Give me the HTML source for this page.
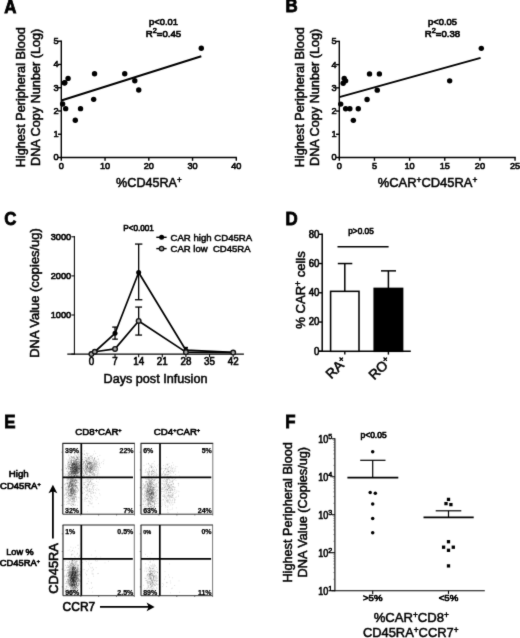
<!DOCTYPE html>
<html><head><meta charset="utf-8"><title>Figure</title>
<style>
html,body{margin:0;padding:0;background:#fff;}
body{width:520px;height:638px;overflow:hidden;font-family:"Liberation Sans",sans-serif;}
svg{display:block;}
text{font-family:"Liberation Sans",sans-serif;fill:#000;}
</style></head><body>
<svg width="520" height="638" viewBox="0 0 520 638">
<defs><filter id="blr" x="0" y="0" width="100%" height="100%" filterUnits="userSpaceOnUse" color-interpolation-filters="sRGB"><feConvolveMatrix order="3" kernelMatrix="1 5 1 5 40 5 1 5 1" divisor="64" edgeMode="duplicate" preserveAlpha="true"/></filter></defs>
<g filter="url(#blr)">
<rect width="520" height="638" fill="#fff"/>
<text x="4.2" y="12.5" font-size="18.3" text-anchor="start" font-weight="bold" textLength="12.2" lengthAdjust="spacingAndGlyphs" stroke="#000" stroke-width="0.80" >A</text>
<text x="285.5" y="12.3" font-size="18.3" text-anchor="start" font-weight="bold" textLength="12.2" lengthAdjust="spacingAndGlyphs" stroke="#000" stroke-width="0.80" >B</text>
<text x="4.2" y="225.4" font-size="18.3" text-anchor="start" font-weight="bold" textLength="12.2" lengthAdjust="spacingAndGlyphs" stroke="#000" stroke-width="0.80" >C</text>
<text x="285.5" y="225.4" font-size="18.3" text-anchor="start" font-weight="bold" textLength="12.2" lengthAdjust="spacingAndGlyphs" stroke="#000" stroke-width="0.80" >D</text>
<text x="4.2" y="427.9" font-size="18.3" text-anchor="start" font-weight="bold" textLength="11.3" lengthAdjust="spacingAndGlyphs" stroke="#000" stroke-width="0.80" >E</text>
<text x="285.3" y="427.8" font-size="18.3" text-anchor="start" font-weight="bold" textLength="10.3" lengthAdjust="spacingAndGlyphs" stroke="#000" stroke-width="0.80" >F</text>
<line x1="61.30" y1="40.60" x2="61.30" y2="158.15" stroke="#000" stroke-width="1.4" stroke-linecap="butt"/>
<line x1="60.65" y1="157.50" x2="236.90" y2="157.50" stroke="#000" stroke-width="1.4" stroke-linecap="butt"/>
<line x1="58.00" y1="157.50" x2="61.30" y2="157.50" stroke="#000" stroke-width="1.4" stroke-linecap="butt"/>
<text x="58.5" y="160.4" font-size="9.8" text-anchor="end" font-weight="normal" textLength="5.12" lengthAdjust="spacingAndGlyphs" stroke="#000" stroke-width="0.62" >0</text>
<line x1="58.00" y1="134.24" x2="61.30" y2="134.24" stroke="#000" stroke-width="1.4" stroke-linecap="butt"/>
<text x="58.5" y="137.14000000000001" font-size="9.8" text-anchor="end" font-weight="normal" textLength="5.12" lengthAdjust="spacingAndGlyphs" stroke="#000" stroke-width="0.62" >1</text>
<line x1="58.00" y1="110.98" x2="61.30" y2="110.98" stroke="#000" stroke-width="1.4" stroke-linecap="butt"/>
<text x="58.5" y="113.88000000000001" font-size="9.8" text-anchor="end" font-weight="normal" textLength="5.12" lengthAdjust="spacingAndGlyphs" stroke="#000" stroke-width="0.62" >2</text>
<line x1="58.00" y1="87.72" x2="61.30" y2="87.72" stroke="#000" stroke-width="1.4" stroke-linecap="butt"/>
<text x="58.5" y="90.62" font-size="9.8" text-anchor="end" font-weight="normal" textLength="5.12" lengthAdjust="spacingAndGlyphs" stroke="#000" stroke-width="0.62" >3</text>
<line x1="58.00" y1="64.46" x2="61.30" y2="64.46" stroke="#000" stroke-width="1.4" stroke-linecap="butt"/>
<text x="58.5" y="67.36000000000001" font-size="9.8" text-anchor="end" font-weight="normal" textLength="5.12" lengthAdjust="spacingAndGlyphs" stroke="#000" stroke-width="0.62" >4</text>
<line x1="58.00" y1="41.20" x2="61.30" y2="41.20" stroke="#000" stroke-width="1.4" stroke-linecap="butt"/>
<text x="58.5" y="44.100000000000016" font-size="9.8" text-anchor="end" font-weight="normal" textLength="5.12" lengthAdjust="spacingAndGlyphs" stroke="#000" stroke-width="0.62" >5</text>
<line x1="61.30" y1="157.50" x2="61.30" y2="160.80" stroke="#000" stroke-width="1.4" stroke-linecap="butt"/>
<text x="61.3" y="169.1" font-size="9.8" text-anchor="middle" font-weight="normal" textLength="5.12" lengthAdjust="spacingAndGlyphs" stroke="#000" stroke-width="0.62" >0</text>
<line x1="105.05" y1="157.50" x2="105.05" y2="160.80" stroke="#000" stroke-width="1.4" stroke-linecap="butt"/>
<text x="105.05" y="169.1" font-size="9.8" text-anchor="middle" font-weight="normal" textLength="10.24" lengthAdjust="spacingAndGlyphs" stroke="#000" stroke-width="0.62" >10</text>
<line x1="148.80" y1="157.50" x2="148.80" y2="160.80" stroke="#000" stroke-width="1.4" stroke-linecap="butt"/>
<text x="148.8" y="169.1" font-size="9.8" text-anchor="middle" font-weight="normal" textLength="10.24" lengthAdjust="spacingAndGlyphs" stroke="#000" stroke-width="0.62" >20</text>
<line x1="192.55" y1="157.50" x2="192.55" y2="160.80" stroke="#000" stroke-width="1.4" stroke-linecap="butt"/>
<text x="192.55" y="169.1" font-size="9.8" text-anchor="middle" font-weight="normal" textLength="10.24" lengthAdjust="spacingAndGlyphs" stroke="#000" stroke-width="0.62" >30</text>
<line x1="236.30" y1="157.50" x2="236.30" y2="160.80" stroke="#000" stroke-width="1.4" stroke-linecap="butt"/>
<text x="236.3" y="169.1" font-size="9.8" text-anchor="middle" font-weight="normal" textLength="10.24" lengthAdjust="spacingAndGlyphs" stroke="#000" stroke-width="0.62" >40</text>
<circle cx="201.30" cy="48.18" r="2.7" fill="#000"/>
<circle cx="94.55" cy="73.76" r="2.7" fill="#000"/>
<circle cx="124.74" cy="73.76" r="2.7" fill="#000"/>
<circle cx="134.80" cy="80.74" r="2.7" fill="#000"/>
<circle cx="138.74" cy="90.05" r="2.7" fill="#000"/>
<circle cx="68.08" cy="78.42" r="2.7" fill="#000"/>
<circle cx="64.80" cy="82.60" r="2.7" fill="#000"/>
<circle cx="64.49" cy="83.07" r="2.7" fill="#000"/>
<circle cx="93.67" cy="99.35" r="2.7" fill="#000"/>
<circle cx="62.61" cy="104.00" r="2.7" fill="#000"/>
<circle cx="65.67" cy="108.65" r="2.7" fill="#000"/>
<circle cx="80.55" cy="108.65" r="2.7" fill="#000"/>
<circle cx="75.30" cy="120.28" r="2.7" fill="#000"/>
<line x1="61.30" y1="100.51" x2="201.30" y2="56.32" stroke="#000" stroke-width="2.0" stroke-linecap="butt"/>
<text x="163.5" y="24.6" font-size="9.6" text-anchor="middle" font-weight="normal" textLength="29" lengthAdjust="spacingAndGlyphs" stroke="#000" stroke-width="0.65" >p&lt;0.01</text>
<text x="163.5" y="37" font-size="9.6" text-anchor="middle" font-weight="normal" textLength="35.5" lengthAdjust="spacingAndGlyphs" stroke="#000" stroke-width="0.65" >R<tspan dy="-3.6" font-size="7.3">2</tspan><tspan dy="3.6">&#8203;</tspan>=0.45</text>
<text x="116.1" y="187.0" font-size="12.7" text-anchor="start" font-weight="normal" textLength="65.7" lengthAdjust="spacingAndGlyphs" stroke="#000" stroke-width="0.50" >%CD45RA<tspan dy="-4.2" font-size="8.2">+</tspan><tspan dy="4.2">&#8203;</tspan></text>
<text x="24.9" y="167.3" font-size="12.7" text-anchor="start" font-weight="normal" textLength="140.2" lengthAdjust="spacingAndGlyphs" transform="rotate(-90 24.9 167.3)" stroke="#000" stroke-width="0.50" >Highest Peripheral Blood</text>
<text x="40" y="166" font-size="12.7" text-anchor="start" font-weight="normal" textLength="137.3" lengthAdjust="spacingAndGlyphs" transform="rotate(-90 40 166)" stroke="#000" stroke-width="0.50" >DNA Copy Nunber (Log)</text>
<line x1="339.30" y1="40.80" x2="339.30" y2="158.15" stroke="#000" stroke-width="1.4" stroke-linecap="butt"/>
<line x1="338.65" y1="157.50" x2="515.80" y2="157.50" stroke="#000" stroke-width="1.4" stroke-linecap="butt"/>
<line x1="336.00" y1="157.50" x2="339.30" y2="157.50" stroke="#000" stroke-width="1.4" stroke-linecap="butt"/>
<text x="336.5" y="160.4" font-size="9.8" text-anchor="end" font-weight="normal" textLength="5.12" lengthAdjust="spacingAndGlyphs" stroke="#000" stroke-width="0.62" >0</text>
<line x1="336.00" y1="134.28" x2="339.30" y2="134.28" stroke="#000" stroke-width="1.4" stroke-linecap="butt"/>
<text x="336.5" y="137.18" font-size="9.8" text-anchor="end" font-weight="normal" textLength="5.12" lengthAdjust="spacingAndGlyphs" stroke="#000" stroke-width="0.62" >1</text>
<line x1="336.00" y1="111.06" x2="339.30" y2="111.06" stroke="#000" stroke-width="1.4" stroke-linecap="butt"/>
<text x="336.5" y="113.96000000000001" font-size="9.8" text-anchor="end" font-weight="normal" textLength="5.12" lengthAdjust="spacingAndGlyphs" stroke="#000" stroke-width="0.62" >2</text>
<line x1="336.00" y1="87.84" x2="339.30" y2="87.84" stroke="#000" stroke-width="1.4" stroke-linecap="butt"/>
<text x="336.5" y="90.74000000000001" font-size="9.8" text-anchor="end" font-weight="normal" textLength="5.12" lengthAdjust="spacingAndGlyphs" stroke="#000" stroke-width="0.62" >3</text>
<line x1="336.00" y1="64.62" x2="339.30" y2="64.62" stroke="#000" stroke-width="1.4" stroke-linecap="butt"/>
<text x="336.5" y="67.52000000000001" font-size="9.8" text-anchor="end" font-weight="normal" textLength="5.12" lengthAdjust="spacingAndGlyphs" stroke="#000" stroke-width="0.62" >4</text>
<line x1="336.00" y1="41.40" x2="339.30" y2="41.40" stroke="#000" stroke-width="1.4" stroke-linecap="butt"/>
<text x="336.5" y="44.300000000000004" font-size="9.8" text-anchor="end" font-weight="normal" textLength="5.12" lengthAdjust="spacingAndGlyphs" stroke="#000" stroke-width="0.62" >5</text>
<line x1="339.30" y1="157.50" x2="339.30" y2="160.80" stroke="#000" stroke-width="1.4" stroke-linecap="butt"/>
<text x="339.3" y="169.1" font-size="9.8" text-anchor="middle" font-weight="normal" textLength="5.12" lengthAdjust="spacingAndGlyphs" stroke="#000" stroke-width="0.62" >0</text>
<line x1="374.45" y1="157.50" x2="374.45" y2="160.80" stroke="#000" stroke-width="1.4" stroke-linecap="butt"/>
<text x="374.45" y="169.1" font-size="9.8" text-anchor="middle" font-weight="normal" textLength="5.12" lengthAdjust="spacingAndGlyphs" stroke="#000" stroke-width="0.62" >5</text>
<line x1="409.60" y1="157.50" x2="409.60" y2="160.80" stroke="#000" stroke-width="1.4" stroke-linecap="butt"/>
<text x="409.6" y="169.1" font-size="9.8" text-anchor="middle" font-weight="normal" textLength="10.24" lengthAdjust="spacingAndGlyphs" stroke="#000" stroke-width="0.62" >10</text>
<line x1="444.75" y1="157.50" x2="444.75" y2="160.80" stroke="#000" stroke-width="1.4" stroke-linecap="butt"/>
<text x="444.75" y="169.1" font-size="9.8" text-anchor="middle" font-weight="normal" textLength="10.24" lengthAdjust="spacingAndGlyphs" stroke="#000" stroke-width="0.62" >15</text>
<line x1="479.90" y1="157.50" x2="479.90" y2="160.80" stroke="#000" stroke-width="1.4" stroke-linecap="butt"/>
<text x="479.9" y="169.1" font-size="9.8" text-anchor="middle" font-weight="normal" textLength="10.24" lengthAdjust="spacingAndGlyphs" stroke="#000" stroke-width="0.62" >20</text>
<line x1="515.05" y1="157.50" x2="515.05" y2="160.80" stroke="#000" stroke-width="1.4" stroke-linecap="butt"/>
<text x="515.05" y="169.1" font-size="9.8" text-anchor="middle" font-weight="normal" textLength="10.24" lengthAdjust="spacingAndGlyphs" stroke="#000" stroke-width="0.62" >25</text>
<circle cx="481.31" cy="48.37" r="2.7" fill="#000"/>
<circle cx="449.67" cy="80.87" r="2.7" fill="#000"/>
<circle cx="369.53" cy="73.91" r="2.7" fill="#000"/>
<circle cx="379.37" cy="73.91" r="2.7" fill="#000"/>
<circle cx="377.26" cy="90.16" r="2.7" fill="#000"/>
<circle cx="367.07" cy="99.45" r="2.7" fill="#000"/>
<circle cx="344.22" cy="78.55" r="2.7" fill="#000"/>
<circle cx="345.63" cy="80.87" r="2.7" fill="#000"/>
<circle cx="343.17" cy="83.20" r="2.7" fill="#000"/>
<circle cx="340.71" cy="104.09" r="2.7" fill="#000"/>
<circle cx="345.63" cy="108.74" r="2.7" fill="#000"/>
<circle cx="349.85" cy="108.74" r="2.7" fill="#000"/>
<circle cx="358.28" cy="108.74" r="2.7" fill="#000"/>
<circle cx="353.36" cy="120.35" r="2.7" fill="#000"/>
<line x1="339.30" y1="97.13" x2="480.60" y2="57.89" stroke="#000" stroke-width="2.0" stroke-linecap="butt"/>
<text x="442.5" y="24.6" font-size="9.6" text-anchor="middle" font-weight="normal" textLength="29" lengthAdjust="spacingAndGlyphs" stroke="#000" stroke-width="0.65" >p&lt;0.05</text>
<text x="442.5" y="37" font-size="9.6" text-anchor="middle" font-weight="normal" textLength="35.5" lengthAdjust="spacingAndGlyphs" stroke="#000" stroke-width="0.65" >R<tspan dy="-3.6" font-size="7.3">2</tspan><tspan dy="3.6">&#8203;</tspan>=0.38</text>
<text x="377.7" y="187.0" font-size="12.7" text-anchor="start" font-weight="normal" textLength="99.6" lengthAdjust="spacingAndGlyphs" stroke="#000" stroke-width="0.50" >%CAR<tspan dy="-4.2" font-size="8.2">+</tspan><tspan dy="4.2">&#8203;</tspan>CD45RA<tspan dy="-4.2" font-size="8.2">+</tspan><tspan dy="4.2">&#8203;</tspan></text>
<text x="304.2" y="167.3" font-size="12.7" text-anchor="start" font-weight="normal" textLength="140.2" lengthAdjust="spacingAndGlyphs" transform="rotate(-90 304.2 167.3)" stroke="#000" stroke-width="0.50" >Highest Peripheral Blood</text>
<text x="318.8" y="166" font-size="12.7" text-anchor="start" font-weight="normal" textLength="137.3" lengthAdjust="spacingAndGlyphs" transform="rotate(-90 318.8 166)" stroke="#000" stroke-width="0.50" >DNA Copy Nunber (Log)</text>
<line x1="74.40" y1="236.00" x2="74.40" y2="354.60" stroke="#000" stroke-width="1.05" stroke-linecap="butt"/>
<line x1="67.30" y1="354.10" x2="243.90" y2="354.10" stroke="#000" stroke-width="1.05" stroke-linecap="butt"/>
<line x1="71.30" y1="354.10" x2="74.40" y2="354.10" stroke="#000" stroke-width="1.05" stroke-linecap="butt"/>
<line x1="71.30" y1="315.00" x2="74.40" y2="315.00" stroke="#000" stroke-width="1.05" stroke-linecap="butt"/>
<text x="71.2" y="318.1" font-size="9.8" text-anchor="end" font-weight="normal" textLength="20.49" lengthAdjust="spacingAndGlyphs" stroke="#000" stroke-width="0.62" >1000</text>
<line x1="71.30" y1="275.90" x2="74.40" y2="275.90" stroke="#000" stroke-width="1.05" stroke-linecap="butt"/>
<text x="71.2" y="279.00000000000006" font-size="9.8" text-anchor="end" font-weight="normal" textLength="20.49" lengthAdjust="spacingAndGlyphs" stroke="#000" stroke-width="0.62" >2000</text>
<line x1="71.30" y1="236.80" x2="74.40" y2="236.80" stroke="#000" stroke-width="1.05" stroke-linecap="butt"/>
<text x="71.2" y="239.9" font-size="9.8" text-anchor="end" font-weight="normal" textLength="20.49" lengthAdjust="spacingAndGlyphs" stroke="#000" stroke-width="0.62" >3000</text>
<line x1="91.40" y1="354.10" x2="91.40" y2="357.20" stroke="#000" stroke-width="1.05" stroke-linecap="butt"/>
<text x="91.4" y="365.3" font-size="10.4" text-anchor="middle" font-weight="normal" textLength="5.44" lengthAdjust="spacingAndGlyphs" stroke="#000" stroke-width="0.62" >0</text>
<line x1="115.03" y1="354.10" x2="115.03" y2="357.20" stroke="#000" stroke-width="1.05" stroke-linecap="butt"/>
<text x="115.03" y="365.3" font-size="10.4" text-anchor="middle" font-weight="normal" textLength="5.44" lengthAdjust="spacingAndGlyphs" stroke="#000" stroke-width="0.62" >7</text>
<line x1="138.66" y1="354.10" x2="138.66" y2="357.20" stroke="#000" stroke-width="1.05" stroke-linecap="butt"/>
<text x="138.66" y="365.3" font-size="10.4" text-anchor="middle" font-weight="normal" textLength="10.87" lengthAdjust="spacingAndGlyphs" stroke="#000" stroke-width="0.62" >14</text>
<line x1="162.29" y1="354.10" x2="162.29" y2="357.20" stroke="#000" stroke-width="1.05" stroke-linecap="butt"/>
<text x="162.29000000000002" y="365.3" font-size="10.4" text-anchor="middle" font-weight="normal" textLength="10.87" lengthAdjust="spacingAndGlyphs" stroke="#000" stroke-width="0.62" >21</text>
<line x1="185.92" y1="354.10" x2="185.92" y2="357.20" stroke="#000" stroke-width="1.05" stroke-linecap="butt"/>
<text x="185.92000000000002" y="365.3" font-size="10.4" text-anchor="middle" font-weight="normal" textLength="10.87" lengthAdjust="spacingAndGlyphs" stroke="#000" stroke-width="0.62" >28</text>
<line x1="209.55" y1="354.10" x2="209.55" y2="357.20" stroke="#000" stroke-width="1.05" stroke-linecap="butt"/>
<text x="209.55" y="365.3" font-size="10.4" text-anchor="middle" font-weight="normal" textLength="10.87" lengthAdjust="spacingAndGlyphs" stroke="#000" stroke-width="0.62" >35</text>
<line x1="233.18" y1="354.10" x2="233.18" y2="357.20" stroke="#000" stroke-width="1.05" stroke-linecap="butt"/>
<text x="233.18" y="365.3" font-size="10.4" text-anchor="middle" font-weight="normal" textLength="10.87" lengthAdjust="spacingAndGlyphs" stroke="#000" stroke-width="0.62" >42</text>
<line x1="138.66" y1="299.75" x2="138.66" y2="244.07" stroke="#000" stroke-width="1.3" stroke-linecap="butt"/>
<line x1="134.96" y1="299.75" x2="142.36" y2="299.75" stroke="#000" stroke-width="1.3" stroke-linecap="butt"/>
<line x1="134.96" y1="244.07" x2="142.36" y2="244.07" stroke="#000" stroke-width="1.3" stroke-linecap="butt"/>
<line x1="115.03" y1="339.16" x2="115.03" y2="327.08" stroke="#000" stroke-width="1.3" stroke-linecap="butt"/>
<line x1="112.23" y1="339.16" x2="117.83" y2="339.16" stroke="#000" stroke-width="1.3" stroke-linecap="butt"/>
<line x1="112.23" y1="327.08" x2="117.83" y2="327.08" stroke="#000" stroke-width="1.3" stroke-linecap="butt"/>
<line x1="138.66" y1="335.06" x2="138.66" y2="307.06" stroke="#000" stroke-width="1.3" stroke-linecap="butt"/>
<line x1="135.26" y1="335.06" x2="142.06" y2="335.06" stroke="#000" stroke-width="1.3" stroke-linecap="butt"/>
<line x1="135.26" y1="307.06" x2="142.06" y2="307.06" stroke="#000" stroke-width="1.3" stroke-linecap="butt"/>
<line x1="185.92" y1="351.75" x2="185.92" y2="347.45" stroke="#000" stroke-width="1.3" stroke-linecap="butt"/>
<line x1="183.92" y1="351.75" x2="187.92" y2="351.75" stroke="#000" stroke-width="1.3" stroke-linecap="butt"/>
<line x1="183.92" y1="347.45" x2="187.92" y2="347.45" stroke="#000" stroke-width="1.3" stroke-linecap="butt"/>
<polyline fill="none" stroke="#000" stroke-width="1.7" stroke-linejoin="round" points="91.40,354.10 94.78,351.75 115.03,333.26 138.66,272.50 185.92,350.19 233.18,352.42"/>
<polyline fill="none" stroke="#000" stroke-width="1.7" stroke-linejoin="round" points="91.40,354.10 94.78,351.75 115.03,348.90 138.66,320.94 185.92,352.15 233.18,352.54"/>
<circle cx="91.40" cy="354.10" r="2.5" fill="#000"/>
<circle cx="94.78" cy="351.75" r="2.5" fill="#000"/>
<circle cx="115.03" cy="333.26" r="2.5" fill="#000"/>
<circle cx="138.66" cy="272.50" r="2.5" fill="#000"/>
<circle cx="185.92" cy="350.19" r="2.5" fill="#000"/>
<circle cx="233.18" cy="352.42" r="2.5" fill="#000"/>
<circle cx="91.40" cy="354.10" r="2.3" fill="#a8a8a8" stroke="#111" stroke-width="1.4"/>
<circle cx="94.78" cy="351.75" r="2.3" fill="#a8a8a8" stroke="#111" stroke-width="1.4"/>
<circle cx="115.03" cy="348.90" r="2.3" fill="#a8a8a8" stroke="#111" stroke-width="1.4"/>
<circle cx="138.66" cy="320.94" r="2.3" fill="#a8a8a8" stroke="#111" stroke-width="1.4"/>
<circle cx="185.92" cy="352.15" r="2.3" fill="#a8a8a8" stroke="#111" stroke-width="1.4"/>
<circle cx="233.18" cy="352.54" r="2.3" fill="#a8a8a8" stroke="#111" stroke-width="1.4"/>
<line x1="156.30" y1="237.30" x2="166.60" y2="237.30" stroke="#000" stroke-width="1.4" stroke-linecap="butt"/>
<circle cx="161.60" cy="237.30" r="2.5" fill="#000"/>
<line x1="156.30" y1="248.60" x2="166.60" y2="248.60" stroke="#000" stroke-width="1.4" stroke-linecap="butt"/>
<circle cx="161.60" cy="248.60" r="2.2" fill="#a8a8a8" stroke="#111" stroke-width="1.4"/>
<text x="170.5" y="241.2" font-size="9.7" text-anchor="start" font-weight="normal" textLength="81.7" lengthAdjust="spacingAndGlyphs" stroke="#000" stroke-width="0.50" >CAR high CD45RA</text>
<text x="170.5" y="252.2" font-size="9.7" text-anchor="start" font-weight="normal" textLength="80" lengthAdjust="spacingAndGlyphs" stroke="#000" stroke-width="0.50" >CAR low&#160; CD45RA</text>
<text x="123.2" y="231.4" font-size="8.4" text-anchor="start" font-weight="normal" textLength="30.7" lengthAdjust="spacingAndGlyphs" stroke="#000" stroke-width="0.60" >P&lt;0.001</text>
<text x="103.5" y="382.6" font-size="12.65" text-anchor="start" font-weight="normal" textLength="104" lengthAdjust="spacingAndGlyphs" stroke="#000" stroke-width="0.50" >Days post Infusion</text>
<text x="38.8" y="357.7" font-size="12.7" text-anchor="start" font-weight="normal" textLength="129.4" lengthAdjust="spacingAndGlyphs" transform="rotate(-90 38.8 357.7)" stroke="#000" stroke-width="0.50" >DNA Value (copies/ug)</text>
<line x1="322.20" y1="233.40" x2="322.20" y2="352.00" stroke="#000" stroke-width="1.5" stroke-linecap="butt"/>
<line x1="318.50" y1="351.30" x2="410.80" y2="351.30" stroke="#000" stroke-width="1.5" stroke-linecap="butt"/>
<line x1="318.90" y1="351.30" x2="322.20" y2="351.30" stroke="#000" stroke-width="1.4" stroke-linecap="butt"/>
<text x="319.4" y="354.6" font-size="10.2" text-anchor="end" font-weight="normal" textLength="5.33" lengthAdjust="spacingAndGlyphs" stroke="#000" stroke-width="0.62" >0</text>
<line x1="318.90" y1="322.05" x2="322.20" y2="322.05" stroke="#000" stroke-width="1.4" stroke-linecap="butt"/>
<text x="319.4" y="325.35" font-size="10.2" text-anchor="end" font-weight="normal" textLength="10.66" lengthAdjust="spacingAndGlyphs" stroke="#000" stroke-width="0.62" >20</text>
<line x1="318.90" y1="292.80" x2="322.20" y2="292.80" stroke="#000" stroke-width="1.4" stroke-linecap="butt"/>
<text x="319.4" y="296.1" font-size="10.2" text-anchor="end" font-weight="normal" textLength="10.66" lengthAdjust="spacingAndGlyphs" stroke="#000" stroke-width="0.62" >40</text>
<line x1="318.90" y1="263.55" x2="322.20" y2="263.55" stroke="#000" stroke-width="1.4" stroke-linecap="butt"/>
<text x="319.4" y="266.85" font-size="10.2" text-anchor="end" font-weight="normal" textLength="10.66" lengthAdjust="spacingAndGlyphs" stroke="#000" stroke-width="0.62" >60</text>
<line x1="318.90" y1="234.30" x2="322.20" y2="234.30" stroke="#000" stroke-width="1.4" stroke-linecap="butt"/>
<text x="319.4" y="237.60000000000002" font-size="10.2" text-anchor="end" font-weight="normal" textLength="10.66" lengthAdjust="spacingAndGlyphs" stroke="#000" stroke-width="0.62" >80</text>
<line x1="344.80" y1="291.34" x2="344.80" y2="263.55" stroke="#000" stroke-width="1.5" stroke-linecap="butt"/>
<line x1="337.80" y1="263.55" x2="352.30" y2="263.55" stroke="#000" stroke-width="1.5" stroke-linecap="butt"/>
<rect x="330.6" y="291.34" width="28.399999999999977" height="59.96" fill="#fff" stroke="#000" stroke-width="1.55"/>
<line x1="344.80" y1="351.30" x2="344.80" y2="354.60" stroke="#000" stroke-width="1.4" stroke-linecap="butt"/>
<line x1="388.40" y1="288.41" x2="388.40" y2="270.86" stroke="#000" stroke-width="1.5" stroke-linecap="butt"/>
<line x1="381.00" y1="270.86" x2="396.00" y2="270.86" stroke="#000" stroke-width="1.5" stroke-linecap="butt"/>
<rect x="374.2" y="288.41" width="28.400000000000034" height="62.89" fill="#000" stroke="#000" stroke-width="1.55"/>
<line x1="388.40" y1="351.30" x2="388.40" y2="354.60" stroke="#000" stroke-width="1.4" stroke-linecap="butt"/>
<line x1="337.50" y1="246.70" x2="388.60" y2="246.70" stroke="#000" stroke-width="1.4" stroke-linecap="butt"/>
<text x="361" y="233.5" font-size="8.4" text-anchor="middle" font-weight="normal" textLength="25.5" lengthAdjust="spacingAndGlyphs" stroke="#000" stroke-width="0.60" >p&gt;0.05</text>
<text x="348.2" y="362.6" font-size="13.6" text-anchor="end" font-weight="normal" transform="rotate(-45 348.2 362.6)" stroke="#000" stroke-width="0.55" >RA<tspan dy="-4.4" font-size="8.6">+</tspan><tspan dy="4.4">&#8203;</tspan></text>
<text x="392.2" y="362.6" font-size="13.6" text-anchor="end" font-weight="normal" transform="rotate(-45 392.2 362.6)" stroke="#000" stroke-width="0.55" >RO<tspan dy="-4.4" font-size="8.6">+</tspan><tspan dy="4.4">&#8203;</tspan></text>
<text x="304.9" y="328.7" font-size="12.8" text-anchor="start" font-weight="normal" textLength="77.5" lengthAdjust="spacingAndGlyphs" transform="rotate(-90 304.9 328.7)" stroke="#000" stroke-width="0.50" >% CAR<tspan dy="-4.2" font-size="8.2">+</tspan><tspan dy="4.2">&#8203;</tspan> cells</text>
<line x1="334.90" y1="438.30" x2="334.90" y2="591.30" stroke="#000" stroke-width="1.1" stroke-linecap="butt"/>
<line x1="331.50" y1="590.80" x2="484.80" y2="590.80" stroke="#000" stroke-width="1.1" stroke-linecap="butt"/>
<line x1="331.90" y1="438.80" x2="334.90" y2="438.80" stroke="#000" stroke-width="1.1" stroke-linecap="butt"/>
<text x="332.29999999999995" y="442.7" font-size="10" text-anchor="end" font-weight="normal" textLength="14" lengthAdjust="spacingAndGlyphs" stroke="#000" stroke-width="0.60" >10<tspan dy="-3.3" font-size="8">5</tspan><tspan dy="3.3">&#8203;</tspan></text>
<line x1="333.50" y1="465.34" x2="334.90" y2="465.34" stroke="#444" stroke-width="0.7" stroke-linecap="butt"/>
<line x1="333.50" y1="458.65" x2="334.90" y2="458.65" stroke="#444" stroke-width="0.7" stroke-linecap="butt"/>
<line x1="333.50" y1="453.91" x2="334.90" y2="453.91" stroke="#444" stroke-width="0.7" stroke-linecap="butt"/>
<line x1="333.50" y1="450.23" x2="334.90" y2="450.23" stroke="#444" stroke-width="0.7" stroke-linecap="butt"/>
<line x1="333.50" y1="447.22" x2="334.90" y2="447.22" stroke="#444" stroke-width="0.7" stroke-linecap="butt"/>
<line x1="333.50" y1="444.68" x2="334.90" y2="444.68" stroke="#444" stroke-width="0.7" stroke-linecap="butt"/>
<line x1="333.50" y1="442.48" x2="334.90" y2="442.48" stroke="#444" stroke-width="0.7" stroke-linecap="butt"/>
<line x1="333.50" y1="440.54" x2="334.90" y2="440.54" stroke="#444" stroke-width="0.7" stroke-linecap="butt"/>
<line x1="331.90" y1="476.77" x2="334.90" y2="476.77" stroke="#000" stroke-width="1.1" stroke-linecap="butt"/>
<text x="332.29999999999995" y="480.66999999999996" font-size="10" text-anchor="end" font-weight="normal" textLength="14" lengthAdjust="spacingAndGlyphs" stroke="#000" stroke-width="0.60" >10<tspan dy="-3.3" font-size="8">4</tspan><tspan dy="3.3">&#8203;</tspan></text>
<line x1="333.50" y1="503.31" x2="334.90" y2="503.31" stroke="#444" stroke-width="0.7" stroke-linecap="butt"/>
<line x1="333.50" y1="496.62" x2="334.90" y2="496.62" stroke="#444" stroke-width="0.7" stroke-linecap="butt"/>
<line x1="333.50" y1="491.88" x2="334.90" y2="491.88" stroke="#444" stroke-width="0.7" stroke-linecap="butt"/>
<line x1="333.50" y1="488.20" x2="334.90" y2="488.20" stroke="#444" stroke-width="0.7" stroke-linecap="butt"/>
<line x1="333.50" y1="485.19" x2="334.90" y2="485.19" stroke="#444" stroke-width="0.7" stroke-linecap="butt"/>
<line x1="333.50" y1="482.65" x2="334.90" y2="482.65" stroke="#444" stroke-width="0.7" stroke-linecap="butt"/>
<line x1="333.50" y1="480.45" x2="334.90" y2="480.45" stroke="#444" stroke-width="0.7" stroke-linecap="butt"/>
<line x1="333.50" y1="478.51" x2="334.90" y2="478.51" stroke="#444" stroke-width="0.7" stroke-linecap="butt"/>
<line x1="331.90" y1="514.74" x2="334.90" y2="514.74" stroke="#000" stroke-width="1.1" stroke-linecap="butt"/>
<text x="332.29999999999995" y="518.64" font-size="10" text-anchor="end" font-weight="normal" textLength="14" lengthAdjust="spacingAndGlyphs" stroke="#000" stroke-width="0.60" >10<tspan dy="-3.3" font-size="8">3</tspan><tspan dy="3.3">&#8203;</tspan></text>
<line x1="333.50" y1="541.28" x2="334.90" y2="541.28" stroke="#444" stroke-width="0.7" stroke-linecap="butt"/>
<line x1="333.50" y1="534.59" x2="334.90" y2="534.59" stroke="#444" stroke-width="0.7" stroke-linecap="butt"/>
<line x1="333.50" y1="529.85" x2="334.90" y2="529.85" stroke="#444" stroke-width="0.7" stroke-linecap="butt"/>
<line x1="333.50" y1="526.17" x2="334.90" y2="526.17" stroke="#444" stroke-width="0.7" stroke-linecap="butt"/>
<line x1="333.50" y1="523.16" x2="334.90" y2="523.16" stroke="#444" stroke-width="0.7" stroke-linecap="butt"/>
<line x1="333.50" y1="520.62" x2="334.90" y2="520.62" stroke="#444" stroke-width="0.7" stroke-linecap="butt"/>
<line x1="333.50" y1="518.42" x2="334.90" y2="518.42" stroke="#444" stroke-width="0.7" stroke-linecap="butt"/>
<line x1="333.50" y1="516.48" x2="334.90" y2="516.48" stroke="#444" stroke-width="0.7" stroke-linecap="butt"/>
<line x1="331.90" y1="552.71" x2="334.90" y2="552.71" stroke="#000" stroke-width="1.1" stroke-linecap="butt"/>
<text x="332.29999999999995" y="556.61" font-size="10" text-anchor="end" font-weight="normal" textLength="14" lengthAdjust="spacingAndGlyphs" stroke="#000" stroke-width="0.60" >10<tspan dy="-3.3" font-size="8">2</tspan><tspan dy="3.3">&#8203;</tspan></text>
<line x1="333.50" y1="579.25" x2="334.90" y2="579.25" stroke="#444" stroke-width="0.7" stroke-linecap="butt"/>
<line x1="333.50" y1="572.56" x2="334.90" y2="572.56" stroke="#444" stroke-width="0.7" stroke-linecap="butt"/>
<line x1="333.50" y1="567.82" x2="334.90" y2="567.82" stroke="#444" stroke-width="0.7" stroke-linecap="butt"/>
<line x1="333.50" y1="564.14" x2="334.90" y2="564.14" stroke="#444" stroke-width="0.7" stroke-linecap="butt"/>
<line x1="333.50" y1="561.13" x2="334.90" y2="561.13" stroke="#444" stroke-width="0.7" stroke-linecap="butt"/>
<line x1="333.50" y1="558.59" x2="334.90" y2="558.59" stroke="#444" stroke-width="0.7" stroke-linecap="butt"/>
<line x1="333.50" y1="556.39" x2="334.90" y2="556.39" stroke="#444" stroke-width="0.7" stroke-linecap="butt"/>
<line x1="333.50" y1="554.45" x2="334.90" y2="554.45" stroke="#444" stroke-width="0.7" stroke-linecap="butt"/>
<line x1="331.90" y1="590.68" x2="334.90" y2="590.68" stroke="#000" stroke-width="1.1" stroke-linecap="butt"/>
<text x="332.29999999999995" y="594.58" font-size="10" text-anchor="end" font-weight="normal" textLength="14" lengthAdjust="spacingAndGlyphs" stroke="#000" stroke-width="0.60" >10<tspan dy="-3.3" font-size="8">1</tspan><tspan dy="3.3">&#8203;</tspan></text>
<line x1="372.70" y1="590.80" x2="372.70" y2="593.90" stroke="#000" stroke-width="1.1" stroke-linecap="butt"/>
<text x="372.7" y="601.2" font-size="9.6" text-anchor="middle" font-weight="normal" textLength="19.6" lengthAdjust="spacingAndGlyphs" stroke="#000" stroke-width="0.65" >&gt;5%</text>
<line x1="448.50" y1="590.80" x2="448.50" y2="593.90" stroke="#000" stroke-width="1.1" stroke-linecap="butt"/>
<text x="448.5" y="601.2" font-size="9.6" text-anchor="middle" font-weight="normal" textLength="19.6" lengthAdjust="spacingAndGlyphs" stroke="#000" stroke-width="0.65" >&lt;5%</text>
<circle cx="372.70" cy="451.70" r="1.75" fill="#000"/>
<circle cx="370.20" cy="492.50" r="1.75" fill="#000"/>
<circle cx="375.30" cy="493.20" r="1.75" fill="#000"/>
<circle cx="372.70" cy="503.90" r="1.75" fill="#000"/>
<circle cx="372.70" cy="518.50" r="1.75" fill="#000"/>
<circle cx="372.70" cy="532.70" r="1.75" fill="#000"/>
<rect x="446.85" y="497.75" width="3.3" height="3.3" fill="#000"/>
<rect x="444.35" y="501.95" width="3.3" height="3.3" fill="#000"/>
<rect x="449.25" y="502.95" width="3.3" height="3.3" fill="#000"/>
<rect x="446.85" y="540.05" width="3.3" height="3.3" fill="#000"/>
<rect x="441.95" y="545.55" width="3.3" height="3.3" fill="#000"/>
<rect x="451.65" y="545.55" width="3.3" height="3.3" fill="#000"/>
<rect x="446.85" y="548.65" width="3.3" height="3.3" fill="#000"/>
<rect x="446.85" y="564.25" width="3.3" height="3.3" fill="#000"/>
<line x1="347.40" y1="477.60" x2="398.30" y2="477.60" stroke="#000" stroke-width="1.6" stroke-linecap="butt"/>
<line x1="372.70" y1="477.60" x2="372.70" y2="460.30" stroke="#000" stroke-width="1.2" stroke-linecap="butt"/>
<line x1="360.20" y1="460.30" x2="385.50" y2="460.30" stroke="#000" stroke-width="1.2" stroke-linecap="butt"/>
<line x1="423.50" y1="517.40" x2="473.70" y2="517.40" stroke="#000" stroke-width="1.6" stroke-linecap="butt"/>
<line x1="448.50" y1="517.40" x2="448.50" y2="510.80" stroke="#000" stroke-width="1.2" stroke-linecap="butt"/>
<line x1="435.70" y1="510.80" x2="461.30" y2="510.80" stroke="#000" stroke-width="1.2" stroke-linecap="butt"/>
<text x="373.6" y="437.5" font-size="8.5" text-anchor="middle" font-weight="normal" textLength="26" lengthAdjust="spacingAndGlyphs" stroke="#000" stroke-width="0.65" >p&lt;0.05</text>
<text x="411.3" y="621.9" font-size="12.9" text-anchor="middle" font-weight="normal" textLength="75.3" lengthAdjust="spacingAndGlyphs" stroke="#000" stroke-width="0.50" >%CAR<tspan dy="-4.2" font-size="8.2">+</tspan><tspan dy="4.2">&#8203;</tspan>CD8<tspan dy="-4.2" font-size="8.2">+</tspan><tspan dy="4.2">&#8203;</tspan></text>
<text x="410.7" y="637.2" font-size="12.9" text-anchor="middle" font-weight="normal" textLength="95.6" lengthAdjust="spacingAndGlyphs" stroke="#000" stroke-width="0.50" >CD45RA<tspan dy="-4.2" font-size="8.2">+</tspan><tspan dy="4.2">&#8203;</tspan>CCR7<tspan dy="-4.2" font-size="8.2">+</tspan><tspan dy="4.2">&#8203;</tspan></text>
<text x="292.4" y="582.6" font-size="12.7" text-anchor="start" font-weight="normal" textLength="140.5" lengthAdjust="spacingAndGlyphs" transform="rotate(-90 292.4 582.6)" stroke="#000" stroke-width="0.50" >Highest Peripheral Blood</text>
<text x="306.9" y="577.4" font-size="12.6" text-anchor="start" font-weight="normal" textLength="130.5" lengthAdjust="spacingAndGlyphs" transform="rotate(-90 306.9 577.4)" stroke="#000" stroke-width="0.50" >DNA Value (Copies/ug)</text>
<defs><filter id="soft" x="-5%" y="-5%" width="110%" height="110%"><feGaussianBlur stdDeviation="0.35"/></filter></defs>
<path d="M73.8 470.8h.6M73.9 466.3h.6M71.5 466.8h.6M78.5 470.3h.6M78.2 469.4h.6M76.0 469.0h.6M69.0 472.7h.6M76.4 470.7h.6M68.9 458.4h.6M71.7 465.4h.6M75.7 467.7h.6M76.5 464.5h.6M75.7 470.2h.6M72.5 477.4h.6M76.6 474.6h.6M72.6 463.9h.6M73.5 467.4h.6M76.8 469.4h.6M73.2 462.7h.6M72.9 474.7h.6M72.0 469.3h.6M76.2 459.8h.6M74.9 475.2h.6M67.9 466.2h.6M74.3 463.5h.6M76.4 467.7h.6M69.7 472.6h.6M77.0 473.2h.6M79.6 470.0h.6M75.1 460.9h.6M76.8 464.6h.6M73.2 461.0h.6M71.4 465.1h.6M79.1 456.8h.6M69.7 469.3h.6M79.6 471.2h.6M68.2 454.1h.6M75.9 464.0h.6M70.9 473.4h.6M78.4 468.9h.6M75.5 470.4h.6M80.1 471.4h.6M76.5 471.0h.6M69.4 475.0h.6M77.9 470.9h.6M68.0 464.5h.6M77.6 458.0h.6M74.1 473.6h.6M70.2 476.9h.6M76.6 467.2h.6M75.8 471.6h.6M75.1 474.3h.6M72.5 465.7h.6M78.2 468.1h.6M71.7 473.2h.6M79.7 465.6h.6M70.0 467.3h.6M74.2 466.4h.6M79.5 462.4h.6M79.0 461.0h.6M72.0 471.5h.6M78.5 472.7h.6M75.9 468.8h.6M75.2 471.2h.6M74.1 469.5h.6M76.6 468.0h.6M77.3 471.1h.6M81.5 469.8h.6M73.2 466.0h.6M74.7 473.1h.6M73.6 470.1h.6M80.9 453.9h.6M70.9 469.3h.6M76.1 469.3h.6M73.2 471.6h.6M75.7 465.1h.6M83.0 470.0h.6M72.8 467.5h.6M73.9 467.7h.6M65.4 465.3h.6M78.1 461.6h.6M74.5 473.2h.6M77.6 476.2h.6M68.9 466.1h.6M73.5 471.4h.6M78.4 453.2h.6M78.4 460.0h.6M77.0 459.8h.6M75.3 474.6h.6M74.2 469.1h.6M77.4 468.8h.6M74.4 476.4h.6M78.3 466.4h.6M84.0 461.7h.6M77.8 466.5h.6M75.2 471.9h.6M75.5 471.5h.6M69.5 459.7h.6M76.8 462.7h.6M71.2 459.9h.6M79.0 472.1h.6M79.7 462.8h.6M74.7 461.7h.6M77.3 476.7h.6M71.7 476.6h.6M78.1 467.0h.6M68.0 475.7h.6M74.4 464.7h.6M76.1 470.3h.6M79.8 462.4h.6M78.6 476.2h.6M79.6 467.0h.6M72.2 473.6h.6M75.1 468.7h.6M79.5 466.6h.6M66.9 465.9h.6M68.4 472.5h.6M75.8 464.6h.6M74.7 472.6h.6M75.0 475.3h.6M74.5 473.7h.6M79.8 476.9h.6M72.4 472.8h.6M68.3 462.0h.6M68.0 473.9h.6M70.5 467.9h.6M74.0 467.8h.6M72.7 469.3h.6M80.8 468.2h.6M76.5 473.5h.6M74.0 461.1h.6M72.8 473.9h.6M69.1 464.7h.6M78.1 472.4h.6M74.7 472.4h.6M75.3 461.5h.6M69.4 464.5h.6M77.8 464.9h.6M71.6 463.8h.6M69.5 467.4h.6M70.7 470.0h.6M66.7 469.8h.6M72.5 457.3h.6M77.2 466.5h.6M67.1 463.2h.6M75.7 465.5h.6M77.4 472.1h.6M77.0 469.8h.6M79.2 471.6h.6M76.2 456.5h.6M77.7 475.2h.6M73.7 465.4h.6M81.3 458.3h.6M76.3 481.3h.6M71.5 471.8h.6M81.1 467.3h.6M76.6 473.0h.6M71.6 467.5h.6M75.7 472.5h.6M74.6 466.9h.6M71.2 466.0h.6M77.7 468.6h.6M71.8 463.4h.6M83.8 474.3h.6M76.9 453.7h.6M76.8 470.6h.6M80.4 470.4h.6M74.5 470.9h.6M68.1 473.7h.6M75.8 464.1h.6M79.2 478.0h.6M69.9 464.3h.6M75.7 469.0h.6M73.3 462.6h.6M81.9 473.7h.6M70.6 460.6h.6M80.5 473.4h.6M80.9 472.5h.6M71.7 469.4h.6M67.4 463.9h.6M74.5 470.9h.6M72.2 467.3h.6M76.3 470.1h.6M76.9 469.1h.6M73.6 472.3h.6M74.9 463.5h.6M72.6 468.0h.6M74.3 468.9h.6M74.7 469.0h.6M74.2 461.1h.6M76.1 473.8h.6M76.2 467.0h.6M76.2 462.7h.6M68.3 468.3h.6M71.5 472.1h.6M71.0 453.5h.6M71.2 476.7h.6M73.4 460.5h.6M72.1 470.9h.6M76.4 469.0h.6M79.7 471.9h.6M74.6 471.3h.6M80.3 473.3h.6M78.2 462.0h.6M74.2 472.0h.6M73.7 473.9h.6M76.7 473.0h.6M74.0 482.0h.6M78.9 466.8h.6M75.0 482.3h.6M73.5 472.8h.6M78.0 468.0h.6M70.7 469.0h.6M75.9 474.2h.6M77.4 468.1h.6M77.6 471.0h.6M75.4 468.3h.6M73.9 471.8h.6M71.1 464.5h.6M74.7 459.9h.6M73.2 457.0h.6M72.4 471.1h.6M76.6 467.7h.6M73.9 460.2h.6M80.9 470.8h.6M78.4 463.1h.6M74.1 458.0h.6M77.4 473.1h.6M68.2 467.7h.6M76.8 458.3h.6M68.5 462.1h.6M72.6 460.3h.6M74.8 469.4h.6M76.9 471.9h.6M79.8 474.4h.6M70.2 465.2h.6M71.1 462.1h.6M74.4 468.0h.6M76.4 459.3h.6M70.5 467.9h.6M74.0 466.3h.6M74.5 463.8h.6M77.1 469.9h.6M74.4 464.3h.6M74.1 453.0h.6M71.4 468.2h.6M69.6 469.1h.6M75.2 460.4h.6M73.8 466.3h.6M76.3 471.4h.6M74.6 463.3h.6M74.2 467.6h.6M77.2 469.6h.6M72.2 460.6h.6M73.4 463.9h.6M70.9 467.4h.6M73.0 468.6h.6M76.5 465.7h.6M82.6 466.2h.6M78.4 468.7h.6M78.5 454.9h.6M72.1 469.4h.6M76.7 480.9h.6M75.8 475.0h.6M77.3 473.2h.6M76.4 467.1h.6M76.4 462.1h.6M78.7 462.4h.6M75.5 479.7h.6M73.9 468.1h.6M78.7 468.1h.6M72.0 469.4h.6M76.7 471.9h.6M72.1 477.6h.6M80.4 468.1h.6M75.6 465.6h.6M79.5 464.1h.6M77.0 465.4h.6M72.3 472.0h.6M79.2 467.9h.6M72.4 472.5h.6M74.5 469.7h.6M79.9 474.2h.6M72.9 480.6h.6M74.7 472.3h.6M72.5 467.8h.6M68.8 477.8h.6M79.3 461.3h.6M69.6 459.1h.6M78.7 465.5h.6M74.5 466.3h.6M74.3 462.0h.6M74.8 460.1h.6M74.5 469.7h.6M76.3 466.7h.6M71.6 468.9h.6M73.1 476.6h.6M77.3 467.4h.6M73.1 464.1h.6M71.5 466.1h.6M75.7 470.8h.6M76.6 479.5h.6M72.3 468.1h.6M84.2 457.7h.6M72.9 468.9h.6M75.2 470.2h.6M73.9 470.0h.6M74.9 472.2h.6M68.3 463.1h.6M74.7 462.3h.6M71.1 471.5h.6M72.5 471.5h.6M77.2 469.7h.6M76.4 467.4h.6M69.9 467.8h.6M76.2 465.1h.6M74.4 472.1h.6M71.7 471.5h.6M81.0 464.9h.6M75.2 467.2h.6M79.9 469.7h.6M77.8 464.2h.6M74.6 467.9h.6M68.7 475.9h.6M77.8 458.4h.6M77.2 467.3h.6M76.2 470.0h.6M69.6 466.8h.6M79.8 464.8h.6M71.2 460.5h.6M70.5 469.8h.6M80.5 470.4h.6M75.5 480.3h.6M72.9 464.3h.6M76.5 471.0h.6M71.2 461.6h.6M75.7 469.4h.6M70.3 466.9h.6M72.9 470.5h.6M74.3 467.5h.6M73.5 473.8h.6M79.4 466.0h.6M77.6 463.8h.6M74.9 472.1h.6M79.8 465.9h.6M74.4 469.1h.6M69.6 468.1h.6M72.4 470.0h.6M70.9 457.1h.6M74.8 469.4h.6M72.8 472.9h.6M73.8 464.7h.6M76.3 459.4h.6M72.4 467.9h.6M77.6 467.1h.6M75.7 464.4h.6M75.7 477.1h.6M72.4 481.0h.6M72.5 468.1h.6M75.3 473.6h.6M70.5 456.4h.6M76.8 472.4h.6M76.8 482.5h.6M75.4 469.4h.6M77.9 470.0h.6M80.4 461.2h.6M73.4 449.1h.6M77.5 466.0h.6M77.8 479.8h.6M74.7 466.6h.6M73.0 463.4h.6M72.6 471.5h.6M74.8 468.4h.6M74.1 473.0h.6M76.4 467.2h.6M77.0 467.2h.6M70.8 476.0h.6M76.3 462.7h.6M78.4 469.9h.6M69.4 476.9h.6M75.8 472.9h.6M75.4 467.2h.6M69.4 473.3h.6M74.8 466.4h.6M75.9 468.4h.6M77.0 466.0h.6M74.6 456.2h.6M73.3 471.7h.6M79.2 466.0h.6M74.3 476.7h.6M73.6 472.0h.6M80.4 468.2h.6M78.9 464.1h.6M75.4 467.6h.6M75.1 474.2h.6M82.8 464.3h.6M72.7 470.7h.6M71.1 470.7h.6M76.6 466.5h.6M76.5 459.5h.6M77.3 459.5h.6M72.3 464.9h.6M73.3 472.7h.6M75.0 465.8h.6M76.5 476.7h.6M74.7 470.0h.6M78.9 469.5h.6M70.3 481.7h.6M82.2 457.1h.6M74.6 470.3h.6M78.0 471.7h.6M73.8 462.2h.6M75.1 473.7h.6M71.0 462.4h.6M74.6 457.3h.6M73.8 465.6h.6M76.2 464.1h.6M71.7 465.8h.6M74.5 464.3h.6M74.7 472.1h.6M78.7 477.4h.6M72.0 465.7h.6M66.3 478.4h.6M72.2 467.8h.6M76.5 460.5h.6M76.3 467.9h.6M68.5 469.6h.6M78.8 457.7h.6M77.4 469.2h.6M76.3 470.4h.6M79.1 466.8h.6M77.7 465.7h.6M77.2 463.5h.6M74.3 477.5h.6M76.2 467.1h.6M70.8 463.7h.6M75.4 473.2h.6M76.1 470.9h.6M74.6 475.4h.6M73.4 465.0h.6M77.7 468.3h.6M73.8 464.8h.6M73.8 471.4h.6M75.9 461.3h.6M76.1 469.0h.6M71.3 472.3h.6M73.7 466.2h.6M77.4 475.3h.6M72.4 470.4h.6M71.7 480.7h.6M73.0 474.6h.6M72.5 472.5h.6M82.2 454.0h.6M73.2 470.8h.6M74.4 464.3h.6M82.0 468.4h.6M69.1 472.7h.6M68.8 474.3h.6M72.7 468.8h.6M79.0 468.6h.6M70.0 458.7h.6M78.7 472.1h.6M71.9 472.7h.6M76.4 471.6h.6M67.0 466.3h.6M77.8 472.0h.6M77.7 454.5h.6M75.3 470.7h.6M83.4 462.8h.6M73.6 468.2h.6M77.7 465.6h.6M78.6 463.7h.6M75.6 465.1h.6M75.2 464.2h.6M69.3 474.0h.6M75.7 464.9h.6M75.4 473.4h.6M71.4 467.4h.6M76.5 470.9h.6M73.6 456.4h.6M78.9 469.8h.6M74.7 466.5h.6M75.6 465.7h.6M71.2 463.9h.6M72.7 464.6h.6M70.8 471.5h.6M70.2 471.6h.6M71.3 469.9h.6M79.4 469.1h.6M72.2 468.3h.6M75.2 458.5h.6M72.6 468.9h.6M73.1 468.4h.6M77.2 472.2h.6M77.8 471.2h.6M73.7 467.9h.6M73.8 466.3h.6M74.1 458.5h.6M73.6 467.9h.6M71.4 467.9h.6M76.5 467.1h.6M81.8 453.7h.6M74.0 458.0h.6M78.0 482.6h.6M66.2 468.7h.6M76.5 466.3h.6M76.6 455.7h.6M77.6 470.0h.6M74.8 464.8h.6M76.9 465.3h.6M75.5 465.2h.6M67.1 467.8h.6M75.4 472.1h.6M71.7 467.8h.6M76.8 468.8h.6M78.9 479.0h.6M71.6 457.4h.6M77.6 476.4h.6M77.8 472.5h.6M72.6 464.1h.6M77.7 463.0h.6M68.5 462.5h.6M83.2 478.6h.6M72.4 464.0h.6M75.5 463.9h.6M79.2 467.6h.6M71.0 475.2h.6M72.7 469.2h.6M74.7 466.3h.6M75.8 464.2h.6M68.4 455.9h.6M70.4 463.8h.6M74.6 468.3h.6M76.6 468.7h.6M72.0 464.1h.6M67.5 467.1h.6M76.3 470.9h.6M74.3 467.0h.6M77.9 468.1h.6M77.2 471.2h.6M75.4 475.2h.6M72.8 466.0h.6M72.0 463.6h.6M80.0 477.7h.6M74.8 471.1h.6M78.7 472.4h.6M78.8 461.1h.6M72.5 470.5h.6M79.6 468.6h.6M71.8 466.1h.6M72.5 463.3h.6M79.8 464.6h.6M74.8 479.9h.6M78.7 469.8h.6M72.6 470.3h.6M80.2 471.4h.6M79.0 468.5h.6M76.5 466.9h.6M76.2 475.2h.6M69.8 467.7h.6M75.5 464.9h.6M73.7 472.3h.6M81.5 471.5h.6M75.8 459.5h.6M81.3 468.4h.6M74.6 461.8h.6M74.5 462.0h.6M74.9 470.6h.6M74.8 469.5h.6M71.8 475.9h.6M72.5 458.0h.6M74.1 463.8h.6M71.3 466.0h.6M75.7 461.5h.6M74.2 475.8h.6M77.0 467.2h.6M75.1 467.3h.6M74.5 472.0h.6M74.4 454.8h.6M74.6 463.1h.6M76.9 464.6h.6M75.2 480.0h.6M71.1 461.8h.6M69.9 454.8h.6M68.3 470.0h.6M72.5 457.7h.6M69.7 471.4h.6M72.1 466.0h.6M75.8 475.5h.6M81.3 473.7h.6M75.2 469.0h.6M80.8 475.9h.6M73.6 470.5h.6M75.7 468.3h.6M73.0 460.7h.6M72.9 459.5h.6M78.9 471.0h.6M70.6 475.7h.6M77.7 457.5h.6M81.0 472.5h.6M81.7 461.2h.6M76.5 470.3h.6M75.4 468.9h.6M78.3 459.8h.6M70.5 460.3h.6M72.8 464.7h.6M75.9 469.5h.6M74.8 464.3h.6M73.2 473.2h.6M77.3 468.6h.6M73.6 476.5h.6M72.7 471.6h.6M78.6 466.5h.6M77.5 461.9h.6M78.1 469.1h.6M69.3 471.7h.6M71.7 475.1h.6M72.4 467.1h.6M75.7 466.2h.6M75.6 465.0h.6M77.0 468.0h.6M75.4 452.9h.6M78.6 468.2h.6M68.6 468.5h.6M76.3 473.9h.6M71.0 476.5h.6M74.2 481.2h.6M74.2 471.7h.6M73.5 461.9h.6M78.4 473.0h.6M79.9 472.7h.6M72.8 458.9h.6M72.5 464.3h.6M71.9 471.2h.6M75.8 466.5h.6M75.3 467.2h.6M75.4 472.1h.6M78.0 464.2h.6M69.6 475.9h.6M75.1 474.1h.6M69.1 466.2h.6M74.8 460.1h.6M72.9 472.0h.6M78.4 476.8h.6M71.8 460.3h.6M76.5 473.2h.6M75.4 460.8h.6M77.4 472.4h.6M76.6 465.3h.6M75.7 472.3h.6M72.8 457.9h.6M75.8 470.6h.6M74.7 472.9h.6M72.7 467.5h.6M73.7 471.1h.6M80.1 466.6h.6M81.7 476.4h.6M77.4 471.2h.6M80.7 467.0h.6M74.3 462.2h.6M76.3 475.4h.6M76.5 470.3h.6M74.0 468.9h.6M69.9 473.8h.6M73.3 461.9h.6M72.1 463.5h.6M77.6 473.8h.6M70.1 473.1h.6M77.7 464.8h.6M69.6 463.9h.6M72.5 469.9h.6M73.5 456.8h.6M75.5 459.6h.6M77.8 461.4h.6M72.3 463.3h.6M72.9 475.1h.6M77.6 471.3h.6M75.8 459.5h.6M72.9 465.0h.6M71.4 470.8h.6M72.2 464.1h.6M71.1 456.7h.6M76.7 475.3h.6M75.3 462.6h.6M65.5 469.0h.6M78.8 469.6h.6M77.9 476.1h.6M78.5 465.6h.6M78.3 472.3h.6M69.5 465.8h.6M69.9 467.4h.6M76.7 462.1h.6M67.7 475.1h.6M76.0 476.1h.6M70.2 473.8h.6M81.8 479.0h.6M74.0 469.5h.6M74.2 473.5h.6M78.2 468.5h.6M70.1 472.1h.6M73.1 471.5h.6M75.6 476.9h.6M78.6 465.5h.6M75.9 477.7h.6M72.9 470.4h.6M78.7 474.9h.6M76.5 460.7h.6M70.4 469.4h.6M76.0 482.0h.6M71.8 474.3h.6M77.3 458.8h.6M71.9 468.9h.6M73.0 467.2h.6M76.3 463.5h.6M76.3 464.5h.6M72.8 471.0h.6M72.8 469.6h.6M80.1 468.1h.6M74.2 472.0h.6M73.5 474.0h.6M70.3 471.4h.6M73.0 463.6h.6M80.7 463.3h.6M80.7 471.6h.6M79.6 462.6h.6M78.8 476.0h.6M74.3 467.3h.6M83.1 469.0h.6M73.3 464.5h.6M76.2 469.8h.6M75.3 477.5h.6M73.6 470.6h.6M79.7 462.5h.6M78.2 478.1h.6M70.1 462.0h.6M71.2 457.8h.6M76.2 457.8h.6M76.4 476.0h.6M69.2 466.3h.6M68.2 472.3h.6M72.2 466.5h.6M74.9 471.0h.6M73.5 468.1h.6M72.8 468.6h.6M70.7 468.3h.6M68.1 465.3h.6M81.2 468.4h.6M70.4 469.4h.6M71.4 458.9h.6M72.2 472.1h.6M76.0 467.5h.6M71.5 462.1h.6M79.3 469.3h.6M71.5 456.4h.6M70.0 481.6h.6M70.8 467.6h.6M75.4 467.1h.6M73.8 460.4h.6M71.1 477.3h.6M72.1 472.7h.6M68.9 466.5h.6M75.6 473.7h.6M70.9 471.3h.6M76.0 463.9h.6M76.3 463.1h.6M72.0 467.9h.6M65.5 467.4h.6M71.3 460.0h.6M73.3 472.2h.6M73.3 475.0h.6M70.8 460.8h.6M80.0 470.2h.6M77.9 463.5h.6M77.4 469.4h.6M76.9 468.1h.6M78.8 464.4h.6M71.4 459.9h.6M78.6 463.9h.6M71.2 462.8h.6M73.2 461.0h.6M73.7 464.6h.6M72.8 462.7h.6M74.8 465.5h.6M75.1 469.4h.6M75.9 456.0h.6M72.9 463.6h.6M77.3 459.3h.6M72.3 466.4h.6M73.6 473.5h.6M73.2 473.3h.6M69.7 458.0h.6M78.8 470.4h.6M76.4 468.7h.6M76.3 461.3h.6M77.9 465.1h.6M78.1 468.5h.6M68.0 460.9h.6M78.5 467.2h.6M73.4 469.3h.6M73.3 465.0h.6M75.0 468.8h.6M79.9 468.3h.6M81.1 477.9h.6M80.5 473.8h.6M75.1 468.8h.6M74.2 464.0h.6M74.5 464.5h.6M80.3 470.9h.6M73.2 457.5h.6M74.5 465.7h.6M71.0 461.7h.6M67.0 471.1h.6M74.5 482.2h.6M74.6 467.2h.6M79.6 468.7h.6M75.3 466.0h.6M72.6 476.2h.6M78.1 477.4h.6M73.5 468.2h.6M71.7 473.3h.6M70.0 471.1h.6M78.4 475.8h.6M71.5 474.0h.6M72.3 463.8h.6M70.2 474.4h.6M80.3 464.7h.6M72.1 466.1h.6M83.2 473.5h.6M72.9 458.1h.6M72.4 474.5h.6M81.1 466.5h.6M72.3 465.2h.6M68.3 473.0h.6M71.0 473.8h.6M68.9 461.0h.6M75.7 463.8h.6M77.4 468.0h.6M70.7 471.4h.6M77.6 457.5h.6M80.9 470.7h.6M77.3 457.8h.6M72.3 466.1h.6M78.4 460.0h.6M71.7 456.8h.6M73.9 469.9h.6M69.0 464.7h.6M76.4 476.7h.6M77.0 466.3h.6M70.7 462.8h.6M72.4 468.8h.6M74.5 477.2h.6M75.7 462.1h.6M80.0 473.2h.6M75.0 464.0h.6M68.3 462.4h.6M77.8 463.6h.6M70.2 469.1h.6M75.5 471.3h.6M76.9 475.7h.6M71.8 473.4h.6M71.3 471.8h.6M75.3 469.3h.6M78.0 467.9h.6M78.5 472.8h.6M75.2 464.9h.6M72.1 465.1h.6M74.0 467.9h.6M84.8 471.5h.6M77.3 463.3h.6M72.3 466.2h.6M75.4 462.3h.6M80.2 464.9h.6M78.4 455.2h.6M74.7 469.5h.6M75.4 471.3h.6M75.7 468.9h.6M68.3 464.1h.6M66.7 471.5h.6M75.7 466.9h.6M71.9 464.8h.6M81.0 477.5h.6M74.5 475.1h.6M69.3 457.4h.6M73.1 463.2h.6M72.8 469.0h.6M85.0 464.4h.6M74.9 469.5h.6M74.6 473.1h.6M80.7 461.2h.6M75.2 466.5h.6M75.9 459.6h.6M68.7 455.3h.6M76.5 469.1h.6M75.0 455.0h.6M73.4 463.8h.6M69.9 463.0h.6M77.1 471.0h.6M74.6 470.8h.6M72.6 468.4h.6M74.8 471.0h.6M74.5 467.2h.6M74.2 464.5h.6M82.3 470.8h.6M76.2 480.6h.6M79.5 459.4h.6M77.1 472.6h.6M81.1 475.2h.6M77.3 461.5h.6M71.7 469.5h.6M76.4 462.4h.6M73.4 465.8h.6M74.9 469.8h.6M73.7 461.2h.6M78.9 476.8h.6M74.3 473.6h.6M76.2 471.6h.6M76.3 463.8h.6M76.7 473.6h.6M71.7 478.8h.6M81.8 478.0h.6M81.5 472.1h.6M73.5 464.7h.6M71.9 468.6h.6M74.6 471.7h.6M67.8 480.7h.6M82.4 467.8h.6M77.0 470.6h.6M75.6 466.9h.6M74.3 463.5h.6M75.3 467.9h.6M75.8 463.3h.6M74.8 468.3h.6M76.8 462.2h.6M76.1 473.4h.6M76.7 466.0h.6M73.0 466.7h.6M77.2 476.5h.6M74.2 464.5h.6M76.0 469.1h.6M71.6 463.9h.6M74.4 471.7h.6M70.6 462.4h.6M76.4 461.3h.6M75.1 469.9h.6M74.3 462.4h.6M74.5 466.2h.6M75.8 463.4h.6M78.4 458.8h.6M74.1 468.0h.6M78.0 464.7h.6M76.6 464.9h.6M77.2 477.6h.6M73.3 470.4h.6M71.5 473.4h.6M78.8 468.2h.6M70.8 470.2h.6M78.6 474.0h.6M77.5 457.9h.6M72.4 475.8h.6M70.5 474.2h.6M81.1 472.2h.6M78.5 466.2h.6M70.5 467.4h.6M74.0 467.7h.6M77.1 467.2h.6M75.4 470.3h.6M74.7 478.1h.6M76.2 468.5h.6M74.0 464.6h.6M79.3 468.8h.6M71.0 464.9h.6M74.2 465.5h.6M78.4 461.6h.6M76.4 468.8h.6M70.7 468.3h.6M74.4 470.8h.6M73.2 469.7h.6M69.0 462.0h.6M77.4 473.7h.6M74.7 464.7h.6M78.4 456.5h.6M72.0 471.7h.6M76.9 462.3h.6M68.3 476.0h.6M75.2 463.1h.6M74.9 473.0h.6M65.9 474.1h.6M77.2 456.6h.6M77.3 458.2h.6M78.6 470.2h.6M82.4 464.6h.6M74.7 473.8h.6M72.5 464.1h.6M73.4 467.6h.6M71.0 470.7h.6M76.5 468.4h.6M80.5 466.2h.6M79.1 465.0h.6M77.3 457.4h.6M75.4 467.0h.6M73.0 464.6h.6M73.5 464.0h.6M67.2 464.7h.6M72.8 465.1h.6M71.1 467.3h.6M77.4 466.6h.6M73.0 475.5h.6M78.0 473.1h.6M78.6 466.2h.6M74.3 474.1h.6M72.8 467.3h.6M76.0 470.1h.6M73.8 473.4h.6M74.1 472.0h.6M78.3 471.6h.6M77.2 461.6h.6M70.2 464.6h.6M76.3 476.3h.6M70.5 469.7h.6M71.8 464.0h.6M73.8 471.8h.6M75.4 474.5h.6M71.3 472.9h.6M77.9 468.4h.6M76.3 464.9h.6M71.0 465.8h.6M72.5 483.9h.6M73.1 477.1h.6M75.4 469.7h.6M77.2 463.7h.6M77.8 470.1h.6M69.5 471.3h.6M76.6 470.5h.6M80.1 465.7h.6M76.4 472.1h.6M71.6 474.6h.6M69.8 460.8h.6M76.5 462.0h.6M74.3 459.0h.6M74.9 461.8h.6M75.9 459.6h.6M76.2 466.5h.6M74.9 467.6h.6M75.1 460.7h.6M66.0 468.2h.6M71.5 465.5h.6M76.2 457.1h.6M72.1 464.6h.6M71.1 469.8h.6M74.2 463.5h.6M71.4 472.4h.6M72.5 471.2h.6M76.2 457.6h.6M71.0 468.0h.6M75.9 472.3h.6M77.4 473.7h.6M73.4 466.8h.6M77.3 465.7h.6M78.3 459.3h.6M76.9 467.0h.6M68.0 473.4h.6M75.8 468.1h.6M71.0 465.4h.6M79.8 463.5h.6M70.6 467.3h.6M73.4 463.0h.6M71.8 473.8h.6M69.8 478.8h.6M72.9 462.0h.6M77.4 471.1h.6M71.2 472.1h.6M68.4 462.9h.6M78.5 466.6h.6M70.3 470.8h.6M77.8 467.9h.6M68.6 466.1h.6M76.1 472.2h.6M81.0 466.6h.6M73.1 467.8h.6M78.8 462.8h.6M79.1 452.9h.6M77.4 464.3h.6M76.3 471.8h.6M70.7 467.5h.6M75.5 471.2h.6M71.5 462.5h.6M68.2 482.0h.6M74.0 466.8h.6M69.6 473.1h.6M72.9 475.9h.6M77.6 468.1h.6M77.2 461.9h.6M73.6 464.8h.6M70.4 468.1h.6M74.2 475.9h.6M71.6 465.4h.6M76.1 470.2h.6M74.8 465.4h.6M76.4 470.0h.6M68.4 466.6h.6M70.0 461.5h.6M75.2 468.3h.6M75.1 463.2h.6M74.0 463.0h.6M76.0 471.8h.6M80.7 475.0h.6M72.0 465.5h.6M71.5 469.7h.6M81.4 471.9h.6M67.2 461.1h.6M70.3 470.8h.6M74.7 469.6h.6M80.8 463.5h.6M71.8 478.8h.6M75.9 463.7h.6M67.8 459.6h.6M66.4 468.4h.6M74.9 473.5h.6M74.2 464.2h.6M72.2 478.5h.6M68.7 469.0h.6M74.8 471.4h.6M73.3 470.7h.6M77.5 467.2h.6M73.1 467.0h.6M71.4 466.9h.6M73.7 469.2h.6M79.2 475.2h.6M73.2 471.3h.6M75.7 472.2h.6M74.8 469.5h.6M73.1 463.7h.6M77.7 475.1h.6M77.0 470.4h.6M75.6 465.5h.6M68.6 471.6h.6M75.4 465.0h.6M71.4 475.0h.6M68.6 477.7h.6M76.9 481.0h.6M72.3 467.9h.6M73.0 468.9h.6M74.0 463.9h.6M78.4 463.7h.6M73.0 471.1h.6M72.9 465.6h.6M75.9 466.0h.6M70.5 467.4h.6" stroke="#000" stroke-opacity="0.38" stroke-width="0.6" fill="none" filter="url(#soft)"/>
<path d="M71.0 501.6h.6M68.4 495.8h.6M69.3 485.2h.6M70.7 490.2h.6M74.1 502.0h.6M69.8 498.6h.6M74.5 494.5h.6M69.4 495.2h.6M71.3 490.8h.6M70.8 493.3h.6M74.8 497.0h.6M71.0 496.0h.6M75.8 480.5h.6M75.9 477.3h.6M73.2 492.8h.6M75.9 490.2h.6M70.2 481.6h.6M68.0 494.1h.6M70.9 482.3h.6M73.1 481.9h.6M70.3 484.3h.6M76.4 499.7h.6M71.1 475.4h.6M72.4 488.6h.6M72.6 492.5h.6M70.7 495.4h.6M74.0 489.7h.6M70.4 484.2h.6M73.6 479.2h.6M71.1 482.0h.6M67.6 492.8h.6M71.5 488.3h.6M74.1 476.0h.6M71.4 490.3h.6M74.0 479.3h.6M73.7 489.8h.6M75.5 497.1h.6M73.2 505.2h.6M71.6 484.6h.6M70.6 480.5h.6M71.5 473.0h.6M71.4 491.4h.6M74.5 485.2h.6M75.6 482.8h.6M71.2 473.0h.6M69.4 481.7h.6M75.8 492.1h.6M68.5 492.2h.6M73.0 486.2h.6M71.7 485.6h.6M70.1 474.2h.6M71.3 498.0h.6M75.7 485.8h.6M69.5 486.3h.6M74.1 490.7h.6M69.9 490.8h.6M71.0 492.0h.6M70.4 476.5h.6M71.8 493.9h.6M68.5 487.2h.6M74.1 485.1h.6M69.8 503.8h.6M73.9 496.0h.6M68.9 500.7h.6M66.9 484.0h.6M73.7 498.4h.6M69.0 482.8h.6M72.2 473.0h.6M73.4 492.4h.6M70.3 492.2h.6M73.8 490.4h.6M73.1 499.8h.6M70.3 489.3h.6M70.1 496.0h.6M70.5 491.7h.6M72.0 488.5h.6M76.4 487.3h.6M75.6 494.4h.6M75.3 486.7h.6M74.2 493.9h.6M69.9 490.1h.6M71.2 487.7h.6M75.2 482.4h.6M66.9 474.5h.6M70.3 483.0h.6M71.6 492.4h.6M76.5 490.4h.6M72.9 482.3h.6M73.2 498.5h.6M75.4 472.9h.6M74.1 500.2h.6M73.9 476.5h.6M70.7 492.5h.6M72.8 481.7h.6M69.1 495.4h.6M67.9 499.1h.6M71.7 490.3h.6M67.9 483.4h.6M73.5 476.7h.6M77.4 477.2h.6M68.2 488.3h.6M72.9 493.6h.6M70.6 486.4h.6M70.9 483.6h.6M64.4 495.4h.6M72.3 489.2h.6M69.8 489.9h.6M71.6 487.4h.6M74.7 474.8h.6M72.3 479.8h.6M70.7 499.5h.6M68.6 487.2h.6M70.0 495.3h.6M68.9 475.1h.6M73.0 485.3h.6M70.7 496.3h.6M69.1 485.1h.6M72.0 491.2h.6M70.2 496.0h.6M77.8 484.9h.6M76.8 471.8h.6M75.5 485.4h.6M72.0 485.4h.6M69.8 478.2h.6M70.5 498.0h.6M74.8 485.3h.6M70.1 482.6h.6M68.3 501.9h.6M73.4 488.9h.6M70.2 480.1h.6M75.3 494.0h.6M68.9 495.6h.6M68.5 492.9h.6M68.9 484.8h.6M73.0 491.3h.6M74.4 481.6h.6M76.0 498.3h.6M71.6 491.6h.6M69.4 486.8h.6M67.9 488.7h.6M72.2 498.3h.6M74.2 494.3h.6M70.6 486.3h.6M70.7 489.7h.6M66.2 493.9h.6M67.2 484.0h.6M71.7 484.1h.6M76.2 487.2h.6M76.0 497.0h.6M70.2 491.1h.6M75.2 485.4h.6M71.8 483.7h.6M71.8 485.3h.6M71.8 495.7h.6M75.5 489.0h.6M72.2 494.6h.6M70.8 479.9h.6M74.7 480.8h.6M74.2 480.6h.6M76.7 480.0h.6M74.0 499.5h.6M68.9 499.4h.6M69.3 474.5h.6M73.6 493.4h.6M71.0 468.6h.6M71.4 485.7h.6M70.5 485.8h.6M66.6 483.6h.6M76.6 499.9h.6M70.6 482.5h.6M72.7 496.2h.6M73.6 479.0h.6M72.1 489.1h.6M75.6 497.2h.6M73.1 497.3h.6M70.5 499.8h.6M70.4 491.0h.6M74.2 481.0h.6M69.6 474.5h.6M72.1 487.6h.6M70.7 491.8h.6M65.7 487.8h.6M71.8 486.0h.6M73.8 501.5h.6M70.4 480.8h.6M69.9 488.7h.6M73.2 481.4h.6M74.4 480.1h.6M73.9 491.3h.6M72.9 504.6h.6M70.9 486.7h.6M72.9 494.6h.6M67.9 490.1h.6M69.5 492.8h.6M75.4 488.4h.6M71.3 489.4h.6M73.2 489.3h.6M70.5 482.4h.6M71.1 497.3h.6M71.3 498.3h.6M64.4 484.5h.6M72.4 487.9h.6M67.0 482.9h.6M75.1 478.1h.6M68.8 479.6h.6M70.1 492.9h.6M73.3 472.4h.6M75.7 483.5h.6M70.0 500.8h.6M71.4 478.5h.6M69.8 482.4h.6M68.8 485.4h.6M74.0 490.7h.6M67.8 509.4h.6M68.8 488.9h.6M71.7 493.8h.6M70.7 491.5h.6M77.5 488.7h.6M68.6 490.5h.6M69.4 485.2h.6M72.1 490.6h.6M70.8 494.5h.6M71.1 478.0h.6M74.0 485.2h.6M75.0 483.0h.6M73.2 490.4h.6M64.1 476.5h.6M68.5 498.8h.6M66.3 495.0h.6M74.6 491.8h.6M73.5 484.2h.6M71.6 489.7h.6M72.8 493.4h.6M71.0 482.6h.6M70.0 491.2h.6M67.0 478.4h.6M70.5 483.8h.6M70.8 467.6h.6M70.7 486.1h.6M73.8 472.8h.6M70.7 491.6h.6M73.0 497.2h.6M74.5 479.9h.6M73.4 485.4h.6M69.4 499.8h.6M69.8 481.4h.6M70.5 481.4h.6M74.4 490.9h.6M75.5 491.2h.6M69.9 496.1h.6M69.8 484.4h.6M71.1 488.3h.6M74.9 483.3h.6M72.6 487.8h.6M68.1 479.6h.6M71.0 491.1h.6M72.5 491.7h.6M71.7 484.5h.6M72.8 480.3h.6M67.8 485.4h.6M67.6 484.0h.6M69.5 483.7h.6M71.5 481.8h.6M70.4 474.8h.6M72.0 481.2h.6M72.7 466.2h.6M69.4 489.9h.6M64.8 485.2h.6M71.9 488.8h.6M67.4 489.8h.6M72.0 480.5h.6M73.7 487.6h.6M71.7 484.5h.6M73.1 488.8h.6M74.8 491.5h.6M69.9 486.3h.6M74.2 485.2h.6M72.7 492.0h.6M71.1 470.0h.6M72.0 489.7h.6M72.0 482.1h.6M75.0 487.0h.6M69.9 482.5h.6M72.6 479.6h.6M68.8 503.5h.6M75.3 496.2h.6M75.4 492.6h.6M66.9 497.2h.6M75.1 491.8h.6M66.1 497.6h.6M75.4 484.2h.6M72.0 494.0h.6M71.4 496.5h.6M71.8 493.4h.6M71.8 476.5h.6M68.8 512.5h.6M72.4 498.2h.6M74.8 501.3h.6M73.2 483.4h.6M71.7 473.1h.6M71.1 495.0h.6M65.5 489.5h.6M73.9 498.3h.6M69.0 482.9h.6M66.3 480.1h.6M73.1 504.1h.6M68.4 498.7h.6M72.8 484.2h.6M77.8 468.4h.6M71.4 489.7h.6M77.6 502.0h.6M78.0 489.0h.6M74.4 498.6h.6M73.0 490.8h.6M71.1 484.8h.6M68.1 503.2h.6M70.3 471.8h.6M72.3 487.7h.6M72.1 502.1h.6M71.3 485.9h.6M69.5 487.8h.6M70.4 489.6h.6M80.4 491.1h.6M69.2 503.0h.6M74.0 494.4h.6M73.6 494.4h.6M73.5 499.0h.6M74.4 498.5h.6M70.2 488.0h.6M69.5 495.5h.6M73.9 484.4h.6M73.2 508.4h.6M75.1 479.3h.6M71.3 492.9h.6M71.5 491.0h.6M74.9 490.6h.6M68.5 493.6h.6M71.3 488.9h.6M70.0 477.2h.6M68.1 485.2h.6M68.6 466.8h.6M74.8 479.0h.6M69.6 492.1h.6M64.8 498.5h.6M69.4 493.1h.6M70.2 490.4h.6M71.9 488.0h.6M66.4 476.5h.6M71.5 499.0h.6M70.1 492.1h.6M72.1 491.8h.6M74.4 476.3h.6M72.4 486.6h.6M70.7 481.3h.6M69.4 480.0h.6M68.5 507.6h.6M76.4 488.1h.6M73.7 480.4h.6M63.7 473.8h.6M72.0 499.2h.6M71.5 480.2h.6M70.9 480.2h.6M67.7 486.2h.6M70.5 481.7h.6M69.1 480.7h.6M72.3 498.9h.6M71.0 505.4h.6M67.0 490.1h.6M68.3 486.7h.6M71.9 492.4h.6M74.8 483.7h.6M68.1 486.5h.6M72.4 482.6h.6M74.1 501.1h.6M67.6 490.8h.6M74.5 473.0h.6M72.2 486.2h.6M67.6 498.3h.6M72.2 484.3h.6M72.9 493.0h.6M73.8 492.5h.6M72.8 478.8h.6M70.4 489.0h.6M63.8 504.6h.6M70.5 479.8h.6M66.5 489.9h.6M71.7 483.4h.6M70.4 481.1h.6M69.5 487.2h.6M69.8 493.3h.6M71.2 489.0h.6M72.7 497.9h.6M73.3 489.8h.6M71.1 481.7h.6M70.6 493.3h.6M72.2 485.0h.6M67.8 476.0h.6M72.5 496.0h.6M72.7 477.3h.6M71.0 489.7h.6M69.0 490.7h.6M71.0 481.5h.6M68.1 494.3h.6M72.6 481.1h.6M68.7 494.9h.6M73.3 485.6h.6M76.1 485.7h.6M68.6 496.5h.6M71.1 490.7h.6M71.7 480.2h.6M68.2 486.5h.6M75.6 480.2h.6M75.4 489.7h.6M68.5 490.1h.6M73.2 481.0h.6M65.6 490.8h.6M68.5 491.4h.6M66.2 486.9h.6M69.3 476.5h.6M70.9 489.3h.6M70.0 478.8h.6M72.2 474.4h.6M73.1 491.8h.6M76.3 494.9h.6M72.6 490.1h.6M71.7 477.7h.6M75.7 492.1h.6M70.8 479.1h.6M75.8 492.1h.6M68.3 493.2h.6M76.9 487.8h.6M72.7 484.8h.6M69.8 496.3h.6M80.3 488.9h.6M71.3 494.2h.6M70.7 493.7h.6M73.9 480.1h.6M68.6 487.4h.6M73.9 490.2h.6M75.1 477.3h.6M73.0 483.2h.6M71.9 490.5h.6M68.9 486.2h.6M68.3 490.1h.6M69.2 484.2h.6M72.2 482.9h.6M74.8 483.1h.6M74.0 490.2h.6M68.7 486.3h.6M69.2 485.2h.6M70.8 502.1h.6M70.4 500.2h.6M72.9 477.9h.6M65.1 493.3h.6M66.0 493.6h.6M74.5 491.0h.6M71.0 486.1h.6M72.3 485.7h.6M70.1 485.1h.6M74.9 483.2h.6M72.7 479.1h.6M69.6 477.4h.6M71.0 493.3h.6M72.5 484.2h.6M73.3 485.3h.6M72.6 490.1h.6M73.1 468.8h.6M67.9 494.0h.6M71.3 505.4h.6M70.9 483.7h.6M75.8 492.3h.6M76.9 491.9h.6M71.0 493.6h.6M69.4 484.5h.6M70.0 486.3h.6M73.8 484.3h.6M72.5 484.1h.6M74.1 466.7h.6M71.0 489.3h.6M68.6 495.8h.6M72.2 497.9h.6M74.3 493.0h.6M71.2 479.6h.6M71.0 484.4h.6M72.3 484.4h.6M80.2 475.6h.6M74.9 484.4h.6M70.9 495.2h.6M71.6 478.6h.6M72.8 486.5h.6M65.8 489.5h.6M68.6 482.2h.6M73.0 490.3h.6M70.8 504.8h.6M72.8 483.3h.6M72.3 487.1h.6M65.4 475.8h.6M67.7 504.0h.6M71.1 485.9h.6M70.0 495.6h.6M71.7 501.2h.6M73.8 500.7h.6M71.3 490.9h.6M70.4 486.7h.6M66.8 483.5h.6M68.9 483.0h.6M75.0 490.0h.6M75.0 494.6h.6M74.2 495.7h.6M69.9 494.2h.6M70.7 483.9h.6M74.9 504.7h.6M68.9 501.4h.6M73.9 481.5h.6M72.4 490.9h.6M72.6 485.3h.6M68.0 488.2h.6M74.0 494.1h.6M73.4 496.5h.6M68.8 487.7h.6M72.6 495.7h.6M72.0 492.0h.6M72.0 504.2h.6M65.5 487.8h.6M78.5 489.8h.6M66.5 489.0h.6M67.6 482.8h.6M72.2 501.2h.6M72.9 493.2h.6M74.4 489.5h.6M69.2 487.2h.6M72.5 485.9h.6M69.7 485.2h.6M67.4 480.1h.6M71.3 485.2h.6M71.7 498.8h.6M72.4 487.8h.6M68.3 479.7h.6M72.6 481.3h.6M72.8 479.7h.6M72.0 487.4h.6M74.4 485.0h.6M70.6 489.9h.6M71.8 501.0h.6M70.9 483.9h.6M70.7 491.6h.6M72.3 493.3h.6M67.7 507.1h.6M76.7 487.8h.6M68.2 489.2h.6M72.8 470.8h.6M71.6 476.6h.6M72.9 498.6h.6M74.5 476.4h.6M75.5 495.0h.6M70.6 491.9h.6M75.8 485.4h.6M71.6 483.7h.6M74.8 471.4h.6M75.6 480.6h.6M74.2 475.5h.6M69.0 483.4h.6M73.9 475.5h.6M73.3 483.1h.6M75.1 485.6h.6M73.0 486.7h.6M76.6 485.2h.6M71.5 503.3h.6M71.8 493.3h.6M69.5 489.5h.6M65.3 488.8h.6M69.8 476.4h.6M67.6 496.8h.6M72.8 476.3h.6M76.7 482.6h.6M70.6 489.9h.6M68.4 475.6h.6M69.5 497.1h.6M74.3 475.8h.6M75.0 488.3h.6M73.0 488.4h.6M72.8 480.3h.6M69.1 482.6h.6M70.6 492.8h.6M68.2 500.3h.6M69.8 483.5h.6M73.6 491.3h.6M70.7 479.8h.6M68.8 475.7h.6M74.8 496.3h.6M76.8 491.8h.6M72.5 493.8h.6M74.3 486.0h.6M72.6 504.6h.6M66.9 477.2h.6M68.9 493.8h.6M74.9 485.4h.6M73.5 487.6h.6M72.4 483.8h.6M71.5 488.0h.6M74.8 505.2h.6M66.5 492.1h.6M71.6 495.5h.6M74.6 494.0h.6M73.9 480.7h.6M66.8 500.9h.6M75.0 480.7h.6M75.2 493.1h.6M64.7 494.9h.6M68.8 497.0h.6M69.7 482.3h.6M67.3 486.3h.6M74.4 482.8h.6M66.4 504.5h.6M76.8 493.3h.6M70.1 478.7h.6M67.0 492.3h.6M75.2 479.8h.6M71.6 485.9h.6M70.9 491.9h.6M77.4 483.1h.6M74.0 496.4h.6M70.8 486.9h.6M67.9 496.3h.6M70.1 483.0h.6M71.8 481.4h.6M68.7 485.7h.6M75.8 486.4h.6M73.1 476.7h.6M66.2 502.0h.6M70.5 476.1h.6M71.3 492.7h.6M66.8 481.2h.6M72.3 480.9h.6M73.8 495.4h.6M72.8 484.7h.6M71.5 483.1h.6M71.2 490.5h.6M70.8 495.5h.6M78.9 483.8h.6M72.6 494.4h.6M73.4 486.2h.6M70.3 495.8h.6M73.3 491.9h.6M69.3 492.9h.6M73.8 486.6h.6M73.4 504.8h.6M66.3 492.7h.6M68.3 477.5h.6M70.9 492.2h.6M71.7 479.0h.6M67.6 483.7h.6M71.6 481.6h.6M67.4 501.6h.6M69.2 486.8h.6M70.1 483.5h.6M71.7 485.7h.6M73.3 478.8h.6M67.4 503.1h.6M71.4 493.9h.6M74.9 492.3h.6M71.7 476.0h.6M67.1 495.6h.6M73.5 492.4h.6M66.9 471.5h.6M68.6 478.8h.6M72.0 480.1h.6M76.0 483.2h.6M70.0 494.7h.6M72.5 481.0h.6M73.9 502.9h.6M68.2 486.1h.6M68.6 472.9h.6M73.4 493.4h.6M74.3 491.3h.6M65.9 487.8h.6M69.7 478.9h.6M68.5 493.9h.6M70.8 503.3h.6M72.9 473.2h.6M74.1 497.7h.6M71.7 478.6h.6M76.6 477.8h.6M71.4 473.2h.6M68.1 474.8h.6M74.7 497.2h.6M70.5 477.4h.6M71.4 490.9h.6M67.3 479.0h.6M71.3 493.5h.6M71.8 491.5h.6M68.1 468.6h.6M72.5 480.8h.6M71.2 485.1h.6M73.0 482.0h.6M75.7 488.2h.6M73.1 492.9h.6M74.5 491.2h.6M66.6 483.1h.6M76.9 491.7h.6M73.2 491.7h.6M69.8 482.7h.6M69.8 497.1h.6M72.6 501.9h.6M73.0 502.8h.6M72.9 478.7h.6M76.5 490.6h.6M75.0 489.7h.6M70.7 489.3h.6M68.4 478.6h.6M69.1 483.9h.6M67.7 487.2h.6M72.5 503.9h.6M76.8 487.6h.6M74.1 486.3h.6M72.7 487.7h.6M70.1 488.6h.6M67.4 491.5h.6M70.8 479.5h.6M70.6 492.4h.6M69.7 491.7h.6M73.2 500.3h.6M68.5 487.1h.6M73.1 499.8h.6M72.3 493.9h.6M67.4 483.4h.6M76.3 485.8h.6M77.8 482.3h.6M70.8 475.4h.6M73.4 490.1h.6M77.4 489.3h.6M70.9 476.9h.6M71.4 495.5h.6M73.7 497.7h.6M74.1 487.6h.6M73.3 489.4h.6M67.8 501.5h.6M72.7 479.7h.6M72.7 490.3h.6M74.5 499.4h.6M76.0 480.5h.6M66.3 490.2h.6M72.6 490.8h.6M68.4 484.3h.6M72.2 493.9h.6M77.9 490.3h.6M69.9 469.3h.6M74.7 487.0h.6M71.3 480.2h.6M73.7 473.8h.6M71.9 489.0h.6M72.5 498.3h.6M71.3 488.7h.6M74.1 475.7h.6M70.8 488.5h.6M74.3 481.6h.6M73.9 491.1h.6M67.3 476.3h.6M67.5 489.1h.6M72.2 493.7h.6M74.0 483.6h.6M74.7 494.5h.6M73.0 491.8h.6M67.9 490.9h.6M68.6 478.5h.6M70.6 489.1h.6M71.4 485.4h.6M68.7 489.5h.6M69.5 476.8h.6M71.9 499.6h.6M70.4 479.6h.6M75.6 501.6h.6M70.8 486.3h.6M72.2 511.5h.6M72.0 495.9h.6M72.9 473.5h.6M68.4 478.2h.6M72.9 488.8h.6M76.8 485.8h.6M72.5 488.6h.6M72.0 506.5h.6M72.4 499.7h.6M75.3 483.2h.6M73.6 485.0h.6M71.9 489.3h.6M71.7 484.3h.6M76.1 485.9h.6M73.6 501.4h.6M73.4 496.2h.6M75.6 496.7h.6M76.6 476.6h.6M77.3 488.2h.6M66.5 482.9h.6M67.6 487.8h.6M67.3 480.0h.6M72.5 489.3h.6M69.3 486.1h.6M71.3 488.6h.6M71.6 486.2h.6M74.1 475.2h.6M70.2 489.1h.6M70.4 483.6h.6M70.3 489.7h.6M75.2 486.5h.6M70.8 490.8h.6M70.9 472.5h.6M72.4 485.0h.6M69.9 493.0h.6M71.7 483.5h.6M65.3 474.2h.6M71.6 487.1h.6M72.9 489.8h.6M70.2 477.9h.6M68.4 486.9h.6M68.3 494.0h.6M67.8 473.7h.6M71.0 473.8h.6M76.3 480.1h.6M71.4 486.0h.6M69.2 473.9h.6M66.2 494.9h.6M74.6 505.3h.6M67.4 492.5h.6M71.6 494.8h.6M70.1 493.8h.6M74.2 492.9h.6M75.8 486.6h.6M76.1 482.4h.6M76.4 466.0h.6M71.6 481.6h.6M71.6 496.2h.6M73.7 488.8h.6M76.5 476.2h.6M69.2 500.1h.6M72.6 471.4h.6M72.6 478.5h.6M75.9 497.2h.6M70.0 498.3h.6M69.2 495.4h.6M73.3 487.0h.6M67.5 485.8h.6M65.0 483.5h.6M66.2 497.7h.6M68.8 468.5h.6M73.3 491.0h.6M70.1 504.9h.6M73.8 488.5h.6M69.7 464.4h.6" stroke="#000" stroke-opacity="0.36" stroke-width="0.6" fill="none" filter="url(#soft)"/>
<path d="M91.7 471.6h.6M87.1 459.0h.6M89.4 457.6h.6M89.6 470.6h.6M96.1 467.9h.6M90.4 470.5h.6M95.6 464.8h.6M84.3 462.3h.6M84.2 461.8h.6M89.1 468.3h.6M90.3 466.9h.6M88.1 468.7h.6M93.4 470.5h.6M96.0 465.0h.6M88.5 475.5h.6M90.5 468.7h.6M88.2 471.6h.6M87.9 461.2h.6M89.3 464.2h.6M93.2 464.5h.6M90.1 465.3h.6M91.1 463.2h.6M94.4 459.0h.6M87.9 462.7h.6M92.4 466.7h.6M91.7 464.8h.6M86.5 460.6h.6M88.2 463.7h.6M90.8 468.4h.6M93.8 465.9h.6M86.4 460.9h.6M89.9 468.4h.6M98.0 467.5h.6M97.2 476.4h.6M85.1 472.9h.6M94.5 473.6h.6M89.6 471.6h.6M87.5 466.1h.6M89.7 475.9h.6M88.7 471.6h.6M89.9 462.7h.6M90.6 470.0h.6M86.5 469.9h.6M86.5 461.9h.6M90.5 465.3h.6M85.4 457.9h.6M89.7 467.8h.6M87.6 467.5h.6M83.0 468.6h.6M91.4 468.0h.6M87.0 466.9h.6M90.2 472.2h.6M90.8 467.8h.6M86.5 471.1h.6M94.6 463.9h.6M92.3 468.1h.6M89.4 459.7h.6M97.2 456.6h.6M90.9 464.5h.6M94.5 464.3h.6M89.8 469.7h.6M91.6 463.7h.6M92.5 468.6h.6M93.8 463.8h.6M89.4 464.4h.6M86.0 467.8h.6M91.4 474.0h.6M88.2 468.5h.6M94.5 465.9h.6M89.9 467.2h.6M86.6 461.3h.6M94.4 467.4h.6M89.3 459.9h.6M90.1 472.7h.6M84.7 461.8h.6M94.4 474.1h.6M96.3 463.6h.6M92.2 462.5h.6M91.8 464.6h.6M90.4 473.6h.6M91.0 465.2h.6M89.8 467.9h.6M87.4 467.6h.6M92.2 474.7h.6M80.8 460.2h.6M84.3 471.1h.6M100.0 467.5h.6M90.1 472.5h.6M79.2 465.6h.6M76.3 467.3h.6M87.4 463.9h.6M91.1 463.4h.6M94.3 466.5h.6M91.2 479.9h.6M87.7 471.4h.6M86.1 473.1h.6M93.7 467.2h.6M93.8 475.0h.6M95.5 466.5h.6M89.4 472.3h.6M83.3 463.3h.6M91.7 469.5h.6M97.5 475.7h.6M91.0 468.8h.6M84.0 465.5h.6M90.7 465.3h.6M89.9 469.7h.6M85.5 463.5h.6M82.0 472.5h.6M85.1 457.6h.6M92.9 465.4h.6M93.7 464.6h.6M98.6 470.2h.6M90.2 467.1h.6M88.7 470.7h.6M98.1 464.3h.6M85.0 469.6h.6M94.1 458.7h.6M86.7 461.3h.6M92.0 469.1h.6M86.5 460.6h.6M92.5 455.7h.6M92.3 465.7h.6M97.8 471.7h.6M87.1 465.1h.6M88.4 462.7h.6M89.9 471.5h.6M83.2 465.3h.6M95.9 470.4h.6M86.1 462.3h.6M86.0 458.1h.6M94.5 466.9h.6M86.6 459.0h.6M88.0 463.8h.6M96.9 464.1h.6M90.1 472.1h.6M92.4 465.6h.6M80.4 473.8h.6M92.1 464.2h.6M89.2 461.5h.6M85.8 458.8h.6M91.7 469.2h.6M90.3 470.6h.6M91.9 467.1h.6M85.9 469.6h.6M94.6 469.8h.6M94.9 464.0h.6M85.5 473.0h.6M87.1 467.8h.6M88.8 466.6h.6M88.5 463.7h.6M82.1 476.4h.6M90.5 456.5h.6M85.8 460.6h.6M86.5 453.2h.6M92.0 475.0h.6M88.6 470.4h.6M92.1 460.0h.6M94.7 457.7h.6M87.2 464.6h.6M94.9 467.1h.6M89.1 462.3h.6M90.0 466.7h.6M92.7 473.7h.6M92.7 466.6h.6M89.0 474.8h.6M90.4 466.4h.6M97.2 474.6h.6M92.0 465.9h.6M86.9 472.0h.6M87.7 471.5h.6M86.3 467.0h.6M91.3 467.3h.6M90.6 468.5h.6M84.9 460.7h.6M89.0 475.9h.6M89.1 461.7h.6M86.8 466.7h.6M94.6 463.6h.6M92.0 467.5h.6M88.1 461.6h.6M89.0 462.8h.6M91.9 457.4h.6M94.3 470.4h.6M92.0 474.3h.6M92.1 457.7h.6M89.8 468.8h.6M86.7 460.6h.6M91.4 469.1h.6M87.8 465.2h.6M87.5 463.6h.6M89.4 472.1h.6M82.8 464.7h.6M96.4 468.1h.6M90.2 470.8h.6M85.4 460.2h.6M82.6 459.0h.6M90.6 470.9h.6M87.9 463.0h.6M91.3 469.7h.6M90.7 456.7h.6M87.3 453.4h.6M90.6 462.1h.6M86.9 474.3h.6M95.1 469.0h.6M90.8 467.4h.6M87.1 466.2h.6M97.6 462.0h.6M86.8 467.3h.6M93.3 470.8h.6M85.6 465.8h.6M88.5 460.1h.6M89.9 464.0h.6M93.4 468.7h.6M86.3 466.9h.6M88.1 463.2h.6M87.6 472.0h.6M87.9 457.7h.6M86.4 470.7h.6M98.6 461.1h.6M88.1 464.8h.6M83.7 468.6h.6M89.4 467.9h.6M99.0 465.1h.6M92.9 470.8h.6M86.9 463.4h.6M96.1 470.2h.6M90.2 460.9h.6M93.3 469.2h.6M98.8 474.1h.6M93.0 467.9h.6M89.9 463.7h.6M90.9 467.8h.6M92.3 472.1h.6M90.9 463.7h.6M93.0 474.5h.6M86.1 468.7h.6M91.9 469.3h.6M91.7 466.0h.6M89.2 475.2h.6M96.8 459.3h.6M79.0 468.8h.6M86.8 463.8h.6M82.9 468.3h.6M89.4 463.7h.6M93.4 479.0h.6M95.8 472.5h.6M87.9 469.9h.6M89.4 472.5h.6M92.0 466.3h.6M91.9 462.8h.6M92.9 474.2h.6M88.1 469.4h.6M82.6 471.3h.6M93.3 461.2h.6M96.9 467.1h.6M82.4 459.5h.6M93.3 465.1h.6M94.2 458.5h.6M89.2 471.5h.6M86.8 470.0h.6M88.1 468.3h.6M90.9 478.0h.6M84.4 470.5h.6M95.1 460.7h.6M89.9 478.4h.6M94.0 451.2h.6M88.6 457.7h.6M90.9 462.8h.6M87.3 462.2h.6M90.8 464.1h.6M85.8 465.3h.6M91.3 462.1h.6M94.2 458.0h.6M91.3 464.5h.6M96.2 463.2h.6M86.8 459.6h.6M97.9 469.7h.6M85.1 464.8h.6M85.6 474.3h.6M91.3 456.0h.6M90.5 471.2h.6M89.6 468.9h.6M89.1 467.6h.6M90.5 462.9h.6M91.1 467.4h.6M89.4 463.0h.6M85.4 467.8h.6M93.1 454.1h.6M87.4 473.5h.6M93.4 462.8h.6M95.3 461.4h.6M86.3 476.5h.6M87.8 465.4h.6M82.7 461.3h.6M84.7 465.8h.6M81.9 472.0h.6M88.1 463.4h.6M86.9 470.3h.6M96.0 464.4h.6M96.3 474.8h.6M95.2 468.0h.6M83.4 470.0h.6M87.9 467.5h.6M81.7 465.0h.6M90.6 461.7h.6M90.8 475.1h.6M90.6 463.0h.6M99.6 455.4h.6M85.8 468.6h.6M87.1 454.7h.6M90.7 470.8h.6M86.3 474.1h.6M91.7 472.6h.6M83.2 466.5h.6M96.3 476.9h.6M95.1 466.5h.6M90.4 463.3h.6M94.2 462.9h.6M90.1 455.8h.6M83.3 475.7h.6M89.8 467.6h.6M80.4 466.3h.6M98.3 458.8h.6M79.6 465.7h.6M87.4 465.4h.6M84.3 459.5h.6M84.4 469.8h.6M89.4 470.8h.6M85.1 469.6h.6M87.7 467.0h.6M93.5 466.7h.6M88.1 457.9h.6M89.9 470.6h.6M86.9 466.2h.6M82.2 459.6h.6M91.3 473.2h.6M88.3 457.8h.6M88.0 458.4h.6M88.4 476.5h.6M90.9 465.7h.6M94.0 464.5h.6M91.0 467.5h.6M91.5 458.9h.6M92.6 471.1h.6M80.0 452.4h.6M85.8 474.3h.6M89.7 470.0h.6M91.9 471.1h.6M86.9 463.5h.6M91.2 469.7h.6M92.0 468.3h.6M87.6 472.3h.6M91.6 472.0h.6M78.9 471.8h.6M79.3 467.6h.6M86.8 467.1h.6M87.6 464.9h.6M90.4 468.3h.6M86.2 453.3h.6M86.3 469.3h.6M86.0 468.7h.6M88.0 461.6h.6M94.5 475.2h.6M89.2 466.2h.6M93.7 459.6h.6M85.9 472.4h.6M93.4 463.9h.6M86.3 468.3h.6M83.6 463.9h.6M88.6 453.6h.6M92.1 470.5h.6M94.1 459.0h.6M84.1 462.2h.6M84.1 477.3h.6M85.4 464.9h.6M90.5 468.9h.6M95.8 460.8h.6M93.3 467.3h.6M84.6 467.3h.6M83.6 475.0h.6M86.5 471.8h.6M95.1 463.3h.6M85.8 467.2h.6M85.1 471.2h.6M90.3 462.5h.6M86.7 470.3h.6M83.4 475.4h.6M86.2 465.5h.6M85.7 475.0h.6M93.1 473.4h.6M92.4 467.0h.6M96.8 470.0h.6M91.5 469.5h.6M92.7 468.0h.6M88.9 458.1h.6M98.4 459.6h.6M80.4 462.7h.6M97.9 472.9h.6M87.0 467.9h.6M89.5 456.0h.6M88.2 468.0h.6M94.6 460.1h.6M79.9 458.2h.6M91.0 466.9h.6M90.2 467.3h.6M88.0 459.3h.6M91.5 468.5h.6M92.1 473.1h.6M84.3 454.1h.6M81.9 477.8h.6M85.7 468.6h.6M89.5 470.4h.6M103.4 463.8h.6M88.9 463.3h.6M90.7 469.3h.6M85.4 473.5h.6M94.5 468.9h.6M89.1 465.2h.6M82.5 470.0h.6M85.4 463.8h.6M93.9 461.6h.6M87.4 471.0h.6M97.6 462.8h.6M94.3 463.0h.6M91.3 469.1h.6M84.7 471.9h.6M97.3 466.8h.6M90.8 460.3h.6M97.3 466.8h.6M84.1 470.6h.6M83.3 462.9h.6M80.4 473.8h.6M99.1 463.1h.6M86.8 463.4h.6M87.2 469.4h.6M95.9 461.2h.6M91.5 456.9h.6M96.2 466.0h.6M86.6 474.6h.6M89.1 473.8h.6M94.2 475.3h.6M86.2 466.8h.6M91.2 465.5h.6M96.1 462.7h.6M93.9 473.7h.6M81.2 461.4h.6M85.7 463.6h.6M91.3 465.6h.6M89.9 464.1h.6M89.2 469.1h.6M92.8 462.4h.6M89.1 462.5h.6M88.8 458.9h.6M93.7 470.1h.6M89.1 462.9h.6M87.6 463.0h.6M83.0 475.2h.6M103.7 460.0h.6M84.6 469.6h.6M92.2 458.2h.6M81.3 469.4h.6M81.0 474.0h.6M87.5 467.0h.6M89.6 463.5h.6M89.0 464.9h.6M95.0 466.0h.6M89.5 463.7h.6M86.9 462.6h.6M89.6 476.2h.6M94.4 467.8h.6M96.8 471.9h.6M90.5 465.6h.6M84.9 467.8h.6M88.2 458.1h.6M84.1 476.8h.6M90.5 469.1h.6M90.5 464.0h.6M91.6 472.2h.6M88.3 469.2h.6M94.0 463.9h.6M90.3 462.6h.6M92.2 464.5h.6M94.5 462.5h.6M96.9 464.9h.6M86.0 461.7h.6M92.4 462.0h.6M97.4 473.3h.6M91.8 459.0h.6M89.5 462.7h.6M81.8 468.8h.6M99.1 463.7h.6M93.1 473.3h.6M85.5 464.7h.6M90.8 469.0h.6M84.7 467.6h.6M89.1 471.5h.6M82.7 463.5h.6M87.4 464.8h.6M92.7 463.2h.6M101.4 462.8h.6M93.2 471.9h.6M93.7 465.4h.6M86.0 465.1h.6M92.5 467.1h.6M92.1 469.5h.6M85.8 461.5h.6M95.8 463.9h.6M82.8 476.4h.6M86.0 461.6h.6M93.8 460.5h.6M85.9 472.1h.6M86.1 479.8h.6M90.0 480.7h.6M90.2 466.8h.6M86.8 465.3h.6M87.4 466.4h.6M92.9 459.8h.6M85.7 455.4h.6M96.1 466.1h.6M89.5 466.2h.6M93.9 468.2h.6M93.3 465.6h.6M89.1 466.2h.6M81.6 472.3h.6M82.8 461.2h.6M92.5 466.8h.6M93.1 475.5h.6M97.6 473.8h.6M88.6 477.4h.6M85.8 466.0h.6M93.9 465.4h.6M89.1 464.6h.6M95.5 453.4h.6M95.1 472.1h.6M89.3 469.5h.6M85.4 472.4h.6M102.8 461.6h.6M95.6 466.2h.6M88.1 463.9h.6M88.8 459.9h.6M83.8 475.3h.6M89.5 469.4h.6M90.9 469.0h.6M83.0 461.5h.6M92.3 471.8h.6M84.7 463.4h.6M85.0 470.0h.6M91.1 466.7h.6M86.8 468.3h.6M89.7 462.6h.6M91.0 463.0h.6M93.7 469.8h.6M86.6 469.6h.6M89.9 462.8h.6M85.7 457.7h.6M84.7 468.3h.6M94.8 463.2h.6M90.3 468.3h.6M93.0 468.8h.6M94.9 470.6h.6M86.3 468.6h.6M79.5 465.5h.6M89.7 469.6h.6M88.3 470.9h.6M95.3 462.1h.6M87.3 467.9h.6M91.7 467.3h.6M93.2 460.2h.6M92.9 472.7h.6M94.4 468.8h.6M88.6 468.6h.6M89.3 458.1h.6M87.0 466.3h.6M87.4 461.6h.6M88.6 464.5h.6M89.9 466.2h.6M90.3 471.8h.6M90.2 468.7h.6M84.3 450.9h.6M87.9 470.1h.6M88.1 463.2h.6M84.3 471.2h.6M87.3 467.8h.6M94.5 469.3h.6M99.2 465.8h.6M93.7 470.2h.6M86.8 466.8h.6M87.2 461.1h.6M90.9 462.4h.6M96.8 462.6h.6M87.3 467.0h.6M87.4 466.8h.6M87.0 459.0h.6M79.2 459.7h.6M96.1 468.9h.6M90.3 464.0h.6M89.0 468.1h.6M83.6 462.3h.6M85.8 473.2h.6M85.1 472.7h.6M87.6 480.9h.6M89.3 466.7h.6M95.4 471.1h.6M93.6 460.8h.6M94.5 475.4h.6M89.2 463.9h.6M84.9 471.9h.6M90.9 466.5h.6M84.3 475.1h.6M93.4 466.4h.6M95.9 461.5h.6M93.4 461.2h.6M95.7 465.0h.6M94.9 464.3h.6M91.3 472.6h.6M85.7 467.0h.6M86.0 471.0h.6M87.0 464.5h.6M88.7 472.7h.6M85.1 466.4h.6M88.2 463.6h.6M86.2 465.7h.6M90.4 458.3h.6M90.6 460.2h.6M89.7 478.6h.6M85.4 466.2h.6M88.5 471.7h.6M87.6 457.0h.6M82.7 467.4h.6M90.7 472.2h.6M87.3 470.0h.6M85.0 473.4h.6M89.3 462.9h.6M90.4 475.7h.6M86.0 459.9h.6M85.2 460.4h.6M89.4 468.4h.6M88.9 467.5h.6M94.7 465.0h.6M84.2 454.4h.6M90.6 462.9h.6M88.5 468.7h.6M91.6 458.2h.6M85.5 466.9h.6M89.0 472.6h.6M87.4 455.6h.6M94.6 457.8h.6M85.4 468.6h.6M85.0 479.7h.6" stroke="#000" stroke-opacity="0.34" stroke-width="0.6" fill="none" filter="url(#soft)"/>
<path d="M90.5 492.3h.6M87.8 505.7h.6M91.7 482.3h.6M94.5 474.5h.6M87.2 490.3h.6M90.1 480.3h.6M95.8 499.8h.6M85.8 491.0h.6M87.0 484.5h.6M93.4 489.0h.6M89.1 488.8h.6M84.8 497.8h.6M86.5 498.5h.6M87.7 484.4h.6M95.4 489.5h.6M86.9 483.7h.6M91.9 503.0h.6M92.0 484.9h.6M85.0 482.6h.6M89.0 490.0h.6M86.9 498.2h.6M85.7 482.3h.6M91.5 491.8h.6M87.9 495.7h.6M83.9 501.1h.6M98.2 503.6h.6M90.0 503.7h.6M89.7 498.6h.6M88.7 489.6h.6M91.6 474.0h.6M88.7 501.7h.6M77.8 491.1h.6M93.2 490.6h.6M90.3 499.1h.6M90.8 472.9h.6M85.7 485.6h.6M90.1 484.4h.6M89.1 501.3h.6M77.8 497.2h.6M93.2 492.8h.6M89.6 488.5h.6M91.0 489.9h.6M86.6 494.2h.6M86.2 487.7h.6M88.1 478.8h.6M91.9 487.4h.6M84.8 487.4h.6M84.0 499.5h.6M91.6 503.9h.6M87.2 493.6h.6M85.6 481.2h.6M89.1 491.3h.6M93.2 485.9h.6M93.9 495.7h.6M86.0 486.6h.6M85.8 501.6h.6M87.3 495.1h.6M93.1 486.0h.6M87.6 490.7h.6M86.4 477.9h.6M85.6 490.7h.6M90.3 502.0h.6M82.2 492.0h.6M84.9 497.2h.6M92.3 489.0h.6M95.4 485.0h.6M87.4 479.6h.6M86.9 488.9h.6M92.2 498.2h.6M88.4 482.2h.6M88.2 484.6h.6M87.6 484.8h.6M86.0 487.6h.6M87.5 486.7h.6M84.0 489.2h.6M91.8 493.1h.6M87.3 478.9h.6M84.3 478.7h.6M86.9 485.5h.6M82.5 493.3h.6M83.4 482.6h.6M86.6 494.6h.6M96.8 485.2h.6M88.4 484.9h.6M88.7 486.7h.6M99.3 479.4h.6M89.1 481.7h.6M90.9 483.9h.6M91.8 479.4h.6M97.9 489.7h.6M82.5 493.5h.6M87.6 478.9h.6M91.2 483.9h.6M92.4 483.7h.6M93.1 489.2h.6M90.9 489.2h.6M88.1 485.1h.6M91.3 493.6h.6M87.9 505.7h.6M96.2 478.9h.6M93.8 487.4h.6M90.4 481.8h.6M96.0 481.5h.6M89.2 482.3h.6M97.1 497.9h.6M84.3 484.5h.6M90.9 484.6h.6M88.1 479.5h.6M90.5 479.4h.6M92.8 506.9h.6M88.2 501.0h.6M91.0 482.7h.6M88.1 480.4h.6M90.0 493.5h.6M93.2 485.8h.6M84.8 487.4h.6M96.1 490.2h.6M89.3 471.7h.6M87.8 492.3h.6M85.8 498.6h.6M87.3 481.2h.6M87.2 487.3h.6M93.4 483.6h.6M82.5 487.4h.6M91.6 500.1h.6M85.1 499.7h.6M92.2 491.6h.6M86.5 481.1h.6M85.7 495.3h.6M90.4 496.4h.6M96.7 488.2h.6M89.3 503.1h.6M84.4 484.5h.6M88.0 485.1h.6M90.1 481.4h.6M94.1 477.3h.6M86.3 474.8h.6M84.0 492.6h.6M92.0 486.5h.6M92.8 492.9h.6M87.2 487.7h.6M90.9 503.8h.6M87.8 490.9h.6M91.6 497.6h.6M91.2 496.4h.6M85.3 486.0h.6M81.9 487.6h.6M98.7 489.9h.6M89.9 490.1h.6M90.1 477.7h.6M86.8 486.7h.6M90.2 481.3h.6M89.1 482.3h.6M84.3 482.9h.6M86.3 494.6h.6M94.8 492.6h.6M88.7 483.7h.6M83.3 483.9h.6M95.7 497.1h.6M90.4 486.1h.6M89.5 491.4h.6M89.5 491.4h.6M86.5 488.4h.6M88.1 496.5h.6M84.6 498.2h.6M89.2 484.1h.6M89.6 489.0h.6M88.6 491.4h.6M87.2 474.8h.6M92.2 487.9h.6" stroke="#000" stroke-opacity="0.32" stroke-width="0.6" fill="none" filter="url(#soft)"/>
<path d="M94.4 485.4h.6M71.2 487.6h.6M99.8 495.0h.6M67.3 478.9h.6M83.5 466.1h.6M82.5 492.9h.6M85.9 471.0h.6M71.2 464.8h.6M65.3 484.4h.6M78.4 497.9h.6M80.7 475.7h.6M64.0 501.2h.6M79.6 479.7h.6M68.1 465.8h.6M84.2 466.8h.6M83.7 488.7h.6M74.3 458.0h.6M82.0 499.3h.6M69.9 462.9h.6M88.7 482.1h.6M71.9 496.8h.6M75.3 486.3h.6M74.1 469.9h.6M80.2 468.4h.6M90.1 495.1h.6M99.3 493.6h.6M93.8 483.5h.6M73.7 486.5h.6M68.7 490.1h.6M73.6 483.6h.6M69.6 478.3h.6M87.6 477.2h.6M71.4 484.0h.6M86.6 477.6h.6M66.5 459.0h.6M64.9 494.6h.6M77.1 486.6h.6M88.5 484.0h.6M82.7 473.3h.6M77.1 487.9h.6M67.6 478.2h.6M97.8 468.7h.6M79.0 497.9h.6M75.7 481.8h.6M73.7 497.6h.6M77.1 475.1h.6M82.3 476.9h.6M73.0 501.1h.6M87.6 481.6h.6M85.9 491.3h.6M83.7 480.8h.6M78.7 485.7h.6M83.5 485.0h.6M72.6 479.2h.6M82.5 466.9h.6M77.9 490.4h.6M79.7 476.3h.6M77.8 473.7h.6M87.6 475.1h.6M80.9 483.0h.6M73.4 462.5h.6M76.5 468.9h.6M71.6 480.2h.6M70.5 484.4h.6M70.8 473.9h.6M75.8 499.8h.6M93.4 492.9h.6M70.8 480.3h.6M86.9 491.0h.6M70.8 490.3h.6M84.2 473.0h.6M99.0 476.5h.6M101.9 477.9h.6M77.2 505.7h.6M72.8 473.9h.6M92.4 479.7h.6M82.7 463.4h.6M95.5 493.4h.6M81.5 489.7h.6M73.1 473.9h.6M90.1 491.7h.6M87.0 489.7h.6M69.0 462.8h.6M84.3 482.4h.6M87.6 476.5h.6M69.4 486.2h.6M72.6 458.3h.6M72.0 468.5h.6M67.1 472.9h.6M87.3 511.6h.6M94.9 474.7h.6M89.2 479.3h.6M81.9 471.2h.6M77.3 457.8h.6M95.5 470.0h.6M83.7 472.4h.6M80.6 464.5h.6M74.3 492.4h.6M83.8 454.3h.6M86.3 462.7h.6M80.8 487.1h.6M71.7 476.0h.6M75.6 485.6h.6M86.9 498.4h.6M81.2 506.8h.6M68.7 503.9h.6M75.4 490.4h.6M76.8 481.3h.6M69.0 485.4h.6M97.8 482.2h.6M77.8 480.3h.6M85.0 477.5h.6" stroke="#000" stroke-opacity="0.28" stroke-width="0.6" fill="none" filter="url(#soft)"/>
<line x1="62.40" y1="443.40" x2="134.90" y2="443.40" stroke="#222" stroke-width="1.1" stroke-linecap="butt"/>
<line x1="62.80" y1="443.40" x2="62.80" y2="514.20" stroke="#222" stroke-width="1.1" stroke-linecap="butt"/>
<line x1="134.50" y1="443.40" x2="134.50" y2="514.20" stroke="#555" stroke-width="0.8" stroke-linecap="butt"/>
<line x1="62.80" y1="514.20" x2="134.50" y2="514.20" stroke="#333" stroke-width="1.0" stroke-linecap="butt"/>
<line x1="81.30" y1="443.40" x2="81.30" y2="514.20" stroke="#000" stroke-width="1.7" stroke-linecap="butt"/>
<line x1="62.80" y1="477.40" x2="133.00" y2="477.40" stroke="#000" stroke-width="1.7" stroke-linecap="butt"/>
<line x1="61.60" y1="452.25" x2="62.80" y2="452.25" stroke="#444" stroke-width="0.7" stroke-linecap="butt"/>
<line x1="80.72" y1="514.20" x2="80.72" y2="515.50" stroke="#444" stroke-width="0.7" stroke-linecap="butt"/>
<line x1="61.60" y1="469.95" x2="62.80" y2="469.95" stroke="#444" stroke-width="0.7" stroke-linecap="butt"/>
<line x1="98.65" y1="514.20" x2="98.65" y2="515.50" stroke="#444" stroke-width="0.7" stroke-linecap="butt"/>
<line x1="61.60" y1="487.65" x2="62.80" y2="487.65" stroke="#444" stroke-width="0.7" stroke-linecap="butt"/>
<line x1="116.58" y1="514.20" x2="116.58" y2="515.50" stroke="#444" stroke-width="0.7" stroke-linecap="butt"/>
<line x1="61.60" y1="505.35" x2="62.80" y2="505.35" stroke="#444" stroke-width="0.7" stroke-linecap="butt"/>
<line x1="134.50" y1="514.20" x2="134.50" y2="515.50" stroke="#444" stroke-width="0.7" stroke-linecap="butt"/>
<text x="65.0" y="452.79999999999995" font-size="7" text-anchor="start" font-weight="bold" stroke="#000" stroke-width="0.25" >39%</text>
<text x="133.5" y="452.79999999999995" font-size="7" text-anchor="end" font-weight="bold" stroke="#000" stroke-width="0.25" >22%</text>
<text x="65.0" y="513.2" font-size="7" text-anchor="start" font-weight="bold" stroke="#000" stroke-width="0.25" >32%</text>
<text x="133.5" y="513.2" font-size="7" text-anchor="end" font-weight="bold" stroke="#000" stroke-width="0.25" >7%</text>
<path d="M150.0 495.4h.6M154.1 501.3h.6M146.7 488.5h.6M150.1 500.5h.6M153.0 492.0h.6M156.7 492.3h.6M154.4 505.1h.6M155.0 495.3h.6M151.8 481.3h.6M144.4 488.7h.6M152.3 502.2h.6M149.7 502.0h.6M151.8 505.9h.6M145.0 486.9h.6M147.0 485.2h.6M155.2 486.2h.6M147.4 490.4h.6M152.8 489.9h.6M152.3 498.1h.6M148.0 474.6h.6M147.1 483.6h.6M155.1 487.8h.6M146.6 496.7h.6M150.2 486.1h.6M153.4 501.0h.6M150.9 487.5h.6M147.3 477.1h.6M151.2 496.8h.6M147.1 493.8h.6M160.3 484.5h.6M144.6 498.6h.6M148.7 489.6h.6M152.0 492.6h.6M153.1 497.8h.6M153.6 494.6h.6M143.2 504.6h.6M144.7 502.0h.6M150.8 482.4h.6M150.2 500.7h.6M146.8 494.0h.6M147.7 485.5h.6M148.1 503.9h.6M152.2 493.4h.6M149.7 494.6h.6M150.9 495.1h.6M144.6 501.0h.6M147.3 472.6h.6M152.2 483.9h.6M149.6 492.8h.6M148.1 497.9h.6M149.1 491.3h.6M147.0 491.3h.6M146.7 493.9h.6M154.2 501.8h.6M151.3 482.6h.6M153.2 501.1h.6M156.5 475.4h.6M150.1 490.9h.6M153.4 484.8h.6M148.8 512.3h.6M153.1 477.5h.6M150.1 504.6h.6M148.1 498.4h.6M150.3 481.8h.6M148.0 502.8h.6M153.7 488.7h.6M153.5 487.8h.6M150.8 493.4h.6M146.1 496.2h.6M148.8 471.4h.6M147.4 486.7h.6M147.4 485.7h.6M147.8 473.7h.6M152.8 494.2h.6M150.8 491.4h.6M150.2 491.4h.6M146.6 481.3h.6M150.2 501.8h.6M150.7 506.6h.6M145.7 491.4h.6M148.1 503.6h.6M155.3 489.3h.6M152.3 491.6h.6M146.9 492.7h.6M146.7 506.1h.6M151.9 503.2h.6M151.1 473.8h.6M152.5 494.3h.6M142.5 494.4h.6M153.2 507.4h.6M146.8 499.9h.6M151.0 492.1h.6M149.1 497.8h.6M151.8 498.9h.6M148.7 482.8h.6M154.2 504.1h.6M148.2 493.3h.6M152.5 479.3h.6M151.6 513.2h.6M150.9 487.8h.6M156.4 493.6h.6M150.7 490.1h.6M150.6 478.9h.6M146.0 481.5h.6M152.8 492.8h.6M153.6 477.0h.6M148.1 505.4h.6M147.5 478.4h.6M147.7 490.7h.6M150.0 504.1h.6M154.2 506.2h.6M151.8 489.4h.6M148.4 481.5h.6M154.0 503.7h.6M150.3 486.3h.6M152.1 497.5h.6M150.5 484.1h.6M150.8 488.9h.6M152.3 498.4h.6M151.4 490.0h.6M154.8 499.8h.6M154.0 500.3h.6M152.1 496.7h.6M146.6 478.7h.6M147.1 498.5h.6M152.9 495.0h.6M150.3 508.5h.6M148.8 479.0h.6M145.1 490.9h.6M152.2 499.5h.6M149.3 500.2h.6M149.8 487.6h.6M148.8 499.7h.6M153.0 484.4h.6M146.9 494.5h.6M156.7 484.0h.6M146.1 496.9h.6M151.6 488.5h.6M149.9 497.5h.6M144.5 493.3h.6M151.9 501.0h.6M153.7 492.9h.6M145.5 504.5h.6M152.4 488.3h.6M153.2 502.0h.6M149.6 474.3h.6M148.5 487.3h.6M147.4 492.8h.6M146.6 496.7h.6M155.9 483.8h.6M153.3 489.2h.6M151.7 492.5h.6M154.0 487.7h.6M152.3 487.2h.6M150.7 493.4h.6M153.4 480.7h.6M145.8 504.8h.6M151.2 507.3h.6M146.8 495.2h.6M151.9 507.9h.6M149.8 489.9h.6M152.2 492.7h.6M147.7 499.7h.6M144.0 485.2h.6M154.3 489.4h.6M149.0 496.5h.6M153.5 497.8h.6M147.0 488.9h.6M153.3 492.5h.6M148.0 500.6h.6M153.6 511.2h.6M146.6 487.7h.6M147.8 496.4h.6M148.5 502.6h.6M148.0 491.3h.6M151.8 495.2h.6M146.8 505.7h.6M151.8 489.5h.6M150.7 484.5h.6M146.2 491.1h.6M151.1 494.3h.6M147.6 482.2h.6M144.8 506.5h.6M151.2 487.0h.6M153.7 497.9h.6M148.7 488.5h.6M153.6 496.2h.6M155.1 496.5h.6M148.2 488.6h.6M147.8 495.6h.6M150.8 498.4h.6M151.4 484.9h.6M149.4 485.8h.6M151.5 482.8h.6M148.2 486.5h.6M148.1 491.4h.6M154.7 491.4h.6M145.5 491.0h.6M152.3 498.0h.6M150.7 509.7h.6M153.5 494.2h.6M153.8 482.6h.6M149.5 486.4h.6M150.6 506.7h.6M148.5 506.5h.6M146.8 505.1h.6M144.7 486.6h.6M153.1 492.8h.6M150.5 493.4h.6M150.6 492.0h.6M147.0 491.1h.6M150.3 486.2h.6M151.5 507.9h.6M144.9 489.1h.6M149.1 493.7h.6M150.3 487.6h.6M149.9 493.5h.6M149.7 506.1h.6M150.4 481.5h.6M145.1 498.3h.6M148.9 488.5h.6M145.8 491.0h.6M149.7 487.9h.6M148.9 500.7h.6M152.4 498.0h.6M149.5 482.4h.6M152.4 505.7h.6M154.0 503.0h.6M150.9 496.6h.6M150.0 503.7h.6M149.2 511.0h.6M152.4 490.9h.6M150.0 480.4h.6M147.7 491.1h.6M157.6 486.9h.6M152.9 494.1h.6M149.1 498.6h.6M143.8 501.2h.6M156.0 495.9h.6M149.8 494.8h.6M152.1 489.5h.6M150.4 497.6h.6M148.9 496.7h.6M151.0 499.3h.6M146.9 489.1h.6M148.7 503.3h.6M150.8 480.0h.6M146.0 509.3h.6M151.1 482.9h.6M147.2 494.7h.6M154.4 506.7h.6M148.9 491.1h.6M156.0 485.5h.6M154.9 496.3h.6M150.3 504.0h.6M151.5 486.7h.6M145.3 493.6h.6M151.6 504.7h.6M141.9 504.4h.6M151.9 505.9h.6M152.5 495.2h.6M151.3 496.8h.6M148.0 492.6h.6M150.4 489.8h.6M145.4 481.7h.6M151.6 497.8h.6M150.3 484.0h.6M152.6 490.3h.6M143.6 506.3h.6M145.4 511.9h.6M151.7 489.9h.6M142.7 487.8h.6M154.6 504.6h.6M150.8 479.5h.6M148.8 491.2h.6M151.4 492.5h.6M151.1 480.2h.6M148.0 505.3h.6M145.5 501.0h.6M157.2 498.8h.6M145.7 503.7h.6M144.2 496.3h.6M148.7 503.6h.6M153.7 495.1h.6M155.6 501.5h.6M148.5 485.5h.6M157.6 490.2h.6M151.3 492.6h.6M148.5 480.4h.6M149.6 492.6h.6M153.1 489.3h.6M145.1 484.7h.6M149.9 495.5h.6M152.3 490.4h.6M151.7 494.7h.6M155.2 493.0h.6M150.4 498.1h.6M153.8 486.0h.6M148.5 491.3h.6M143.4 504.2h.6M153.3 493.7h.6M160.5 503.9h.6M156.3 506.4h.6M152.8 481.9h.6M154.8 496.9h.6M146.3 493.9h.6M152.3 501.6h.6M150.5 489.2h.6M152.4 487.3h.6M149.8 499.8h.6M145.5 496.6h.6M143.9 485.9h.6M146.2 492.8h.6M152.2 493.1h.6M152.8 494.3h.6M149.4 497.5h.6M149.3 494.6h.6M153.2 488.8h.6M153.6 484.4h.6M149.3 479.3h.6M148.4 506.5h.6M151.1 503.9h.6M145.4 485.2h.6M151.5 500.3h.6M152.6 479.8h.6M151.6 492.9h.6M150.4 497.4h.6M149.1 479.6h.6M146.7 481.6h.6M145.9 492.4h.6M154.1 487.7h.6M147.6 484.1h.6M144.6 494.0h.6M148.5 491.5h.6M147.0 497.5h.6M146.3 498.0h.6M147.9 500.0h.6M147.2 497.1h.6M151.4 492.9h.6M155.1 494.9h.6M147.2 499.2h.6M147.4 489.1h.6M150.0 495.0h.6M155.3 479.2h.6M149.2 502.8h.6M149.5 496.1h.6M154.8 483.4h.6M150.1 500.0h.6M148.2 479.1h.6M146.9 495.1h.6M150.6 508.6h.6M154.1 480.8h.6M153.2 501.0h.6M155.0 492.2h.6M148.3 494.7h.6M154.8 498.6h.6M155.3 500.0h.6M148.2 485.2h.6M155.8 481.1h.6M148.9 490.9h.6M147.2 488.8h.6M150.0 513.0h.6M149.8 489.2h.6M150.4 501.2h.6M147.5 490.2h.6M144.6 499.3h.6M152.1 505.8h.6M146.3 511.4h.6M152.7 491.2h.6M148.8 491.0h.6M146.2 499.8h.6M148.1 487.6h.6M151.6 494.4h.6M148.2 491.6h.6M148.5 504.6h.6M153.1 487.5h.6M149.9 504.8h.6M149.1 508.2h.6M151.4 499.0h.6M143.5 500.5h.6M151.1 498.3h.6M151.5 497.8h.6M148.4 500.9h.6M150.2 484.9h.6M146.8 494.8h.6M151.0 475.3h.6M143.6 502.1h.6M145.2 491.5h.6M148.1 498.1h.6M154.4 506.8h.6M146.9 503.7h.6M146.2 496.0h.6M150.5 498.6h.6M147.5 504.5h.6M149.8 493.3h.6M149.2 484.7h.6M152.3 496.3h.6M151.4 508.9h.6M147.3 491.2h.6M150.0 500.6h.6M149.4 501.2h.6M151.4 479.0h.6M147.9 476.8h.6M149.1 490.1h.6M151.8 494.9h.6M149.8 503.9h.6M151.9 483.4h.6M147.8 496.2h.6M155.3 491.9h.6M149.5 495.7h.6M152.4 492.8h.6M150.9 490.0h.6M148.3 487.0h.6M152.1 488.9h.6M151.7 496.8h.6M153.0 471.4h.6M147.0 483.4h.6M149.5 500.1h.6M157.9 506.2h.6M154.2 496.7h.6M148.8 497.9h.6M143.2 501.2h.6M150.0 498.6h.6M146.8 484.5h.6M148.0 493.1h.6M151.1 490.6h.6M151.1 499.1h.6M146.4 492.7h.6M145.1 489.0h.6M152.8 487.6h.6M155.8 497.7h.6M152.8 494.4h.6M152.7 502.5h.6M150.3 489.1h.6M148.3 509.4h.6M149.4 489.7h.6M147.8 479.6h.6M148.4 496.2h.6M148.5 487.2h.6M151.3 497.3h.6M148.6 496.0h.6M147.0 500.6h.6M146.9 490.7h.6M150.4 490.0h.6M146.4 510.8h.6M154.7 479.1h.6M150.4 483.0h.6M151.0 482.7h.6M151.8 497.9h.6M155.3 503.5h.6M148.6 501.3h.6M148.6 492.6h.6M148.4 478.9h.6M151.9 476.7h.6M149.3 497.8h.6M150.4 480.5h.6M148.0 499.1h.6M153.4 506.7h.6M144.3 497.3h.6M148.5 499.8h.6M144.7 492.3h.6M152.2 488.2h.6M148.9 485.4h.6M153.5 482.5h.6M147.1 490.8h.6M149.0 511.0h.6M150.9 486.6h.6M151.8 496.3h.6M150.9 493.0h.6M151.4 483.8h.6M146.2 490.0h.6M146.5 499.3h.6M156.1 503.7h.6M151.4 496.3h.6M147.9 482.7h.6M151.7 481.3h.6M150.9 492.3h.6M152.3 493.9h.6M150.3 488.7h.6M144.6 490.7h.6M152.2 502.2h.6M154.3 485.3h.6M147.1 499.3h.6M151.0 480.9h.6M148.3 506.5h.6M144.3 494.8h.6M145.7 506.8h.6M148.6 485.0h.6M144.7 487.6h.6M142.0 489.6h.6M156.8 494.3h.6M149.2 483.9h.6M151.1 489.6h.6M147.4 505.0h.6M151.4 486.1h.6M154.6 493.0h.6M151.6 494.7h.6M153.7 498.6h.6M148.9 499.4h.6M148.8 494.6h.6M155.1 484.7h.6M146.8 490.2h.6M148.4 504.3h.6M145.0 512.5h.6M155.0 489.8h.6M150.6 490.5h.6M152.1 499.0h.6M152.4 499.8h.6M156.0 492.1h.6M152.2 492.0h.6M150.1 495.3h.6M149.8 496.4h.6M147.3 492.2h.6M148.1 483.8h.6M147.8 489.4h.6M149.5 480.6h.6M149.2 484.1h.6M147.4 495.1h.6M153.5 495.9h.6M148.5 489.9h.6M154.2 480.0h.6M153.6 481.1h.6M148.0 493.9h.6M149.3 507.3h.6M151.5 493.1h.6M153.0 493.8h.6M147.5 502.8h.6M154.7 504.1h.6M146.3 509.3h.6M148.7 499.9h.6M144.9 485.0h.6M153.7 497.6h.6M149.0 469.2h.6M151.4 492.0h.6M142.2 488.9h.6M150.0 495.4h.6M152.4 491.3h.6M147.2 490.5h.6M143.4 484.2h.6M156.2 487.8h.6M149.7 509.3h.6M153.3 494.5h.6M152.3 491.3h.6M147.2 501.8h.6M150.4 506.8h.6M149.2 490.4h.6M151.1 491.9h.6M149.0 486.1h.6M150.8 496.2h.6M155.7 493.3h.6M144.5 497.4h.6M157.2 489.8h.6M147.5 492.1h.6M149.4 480.9h.6M151.8 486.2h.6M144.2 487.5h.6M152.0 509.5h.6M153.9 495.1h.6M148.4 491.3h.6M153.0 489.2h.6M151.3 501.5h.6M147.2 488.6h.6M151.4 493.6h.6M149.6 489.1h.6M149.8 508.9h.6M154.3 480.1h.6M150.1 494.3h.6M150.1 482.0h.6M149.6 494.7h.6M147.9 496.1h.6M142.3 481.0h.6M150.3 496.7h.6M149.5 489.7h.6M150.6 502.5h.6M152.8 492.8h.6M148.5 502.3h.6M151.7 500.8h.6M149.1 486.3h.6M150.6 488.3h.6M153.6 500.6h.6M143.2 499.0h.6M154.2 502.1h.6M148.5 486.3h.6M153.0 501.9h.6M150.2 483.9h.6M145.2 495.7h.6M147.4 487.8h.6M151.4 502.2h.6M143.5 487.9h.6M154.1 493.1h.6M148.9 498.8h.6M146.4 483.3h.6M150.1 506.5h.6M153.2 493.5h.6M153.2 490.1h.6M146.3 479.6h.6M150.9 501.0h.6M151.2 493.2h.6M148.7 502.6h.6M149.9 481.5h.6M154.3 488.1h.6M151.2 493.5h.6M153.3 495.6h.6M153.9 495.3h.6M148.6 489.3h.6M152.0 486.6h.6M152.9 491.5h.6M147.1 486.2h.6M149.5 508.2h.6M152.4 493.7h.6M147.2 509.4h.6M149.1 493.5h.6M148.7 504.6h.6M150.6 489.7h.6M150.6 485.2h.6M146.7 492.2h.6M156.2 484.2h.6M149.6 480.4h.6M150.5 495.3h.6M152.3 482.4h.6M148.1 488.1h.6M149.2 512.5h.6M149.4 493.2h.6M148.4 500.1h.6M158.1 503.2h.6M154.8 484.6h.6M153.3 493.7h.6M153.9 502.3h.6M152.1 479.5h.6M150.4 489.3h.6M151.4 493.8h.6M153.3 480.1h.6M147.7 492.9h.6M151.0 490.1h.6M149.9 494.0h.6M153.3 492.6h.6M150.8 478.3h.6M151.1 474.3h.6M151.3 492.7h.6M150.0 487.4h.6M148.7 500.4h.6M151.1 493.3h.6M148.5 495.3h.6M153.7 493.3h.6M148.8 483.7h.6M150.3 485.8h.6M145.5 500.8h.6M148.0 476.5h.6M147.7 508.9h.6M149.7 482.4h.6M146.5 499.5h.6M151.3 495.3h.6M149.4 497.5h.6M154.8 497.6h.6M149.5 481.8h.6M151.4 506.6h.6M152.0 483.0h.6M150.6 504.4h.6M148.0 497.6h.6M153.8 507.2h.6M145.0 478.9h.6M151.2 499.4h.6M148.9 493.3h.6M148.7 503.5h.6M143.0 495.6h.6M146.0 487.8h.6M145.2 485.9h.6M149.9 493.7h.6M155.6 491.7h.6M151.1 496.5h.6M150.8 505.8h.6M150.4 494.8h.6M149.6 493.5h.6M149.8 501.8h.6M150.1 494.1h.6M149.9 499.8h.6M148.5 501.4h.6M148.2 499.3h.6M156.1 495.4h.6M149.7 483.6h.6M152.3 493.6h.6M152.9 488.0h.6M151.6 508.6h.6M151.3 490.8h.6M145.9 493.4h.6M152.1 498.5h.6M146.5 484.9h.6M146.9 485.0h.6M149.1 495.7h.6M156.1 495.1h.6M154.6 479.7h.6M154.9 500.2h.6M151.4 500.4h.6M151.9 509.5h.6M152.5 478.9h.6M144.5 507.0h.6M149.7 504.6h.6M148.9 488.0h.6M148.9 496.1h.6M150.6 488.3h.6M151.7 498.7h.6M147.1 484.2h.6M143.8 490.9h.6M150.0 487.7h.6M148.1 492.4h.6M150.1 498.3h.6M152.6 497.2h.6M153.5 485.4h.6M151.9 496.6h.6M146.7 487.8h.6M151.4 494.1h.6M146.0 488.9h.6M154.8 500.6h.6M150.3 504.8h.6M147.1 492.1h.6M153.0 490.7h.6M146.5 498.4h.6M155.1 472.2h.6M150.5 483.0h.6M149.1 481.6h.6M158.2 487.8h.6M150.1 487.6h.6M146.9 489.7h.6M150.7 508.2h.6M150.9 506.7h.6M146.6 494.1h.6M148.6 480.3h.6M161.8 491.5h.6M150.8 487.2h.6M148.2 484.8h.6M153.2 490.1h.6M149.5 495.0h.6M146.1 495.5h.6M149.5 497.2h.6M148.8 493.8h.6M151.6 501.6h.6M147.8 501.7h.6M146.9 491.9h.6M150.4 494.7h.6M142.1 485.3h.6M149.4 501.3h.6M147.8 506.2h.6M144.3 494.1h.6M151.7 493.6h.6M150.8 501.3h.6M147.5 498.5h.6M153.4 491.5h.6M142.7 483.5h.6M147.3 484.6h.6M151.4 486.7h.6M157.8 498.3h.6M145.9 491.1h.6M154.8 499.2h.6M146.8 502.2h.6M148.5 512.1h.6M148.3 498.5h.6M151.8 489.8h.6M149.5 503.2h.6M151.6 493.0h.6M151.4 508.2h.6M152.9 497.5h.6M151.0 480.4h.6M150.4 489.4h.6M152.3 488.4h.6M151.4 484.7h.6M152.8 487.4h.6M149.9 498.4h.6M149.0 493.6h.6M153.4 508.4h.6M144.3 485.9h.6M152.1 501.4h.6M148.5 494.3h.6M149.4 512.6h.6M149.4 483.5h.6M145.1 482.8h.6M154.1 490.2h.6M156.2 498.9h.6M151.2 498.9h.6M152.5 501.2h.6M146.9 488.8h.6M148.3 494.4h.6M149.2 483.2h.6M147.8 508.5h.6M156.7 486.3h.6M151.2 493.2h.6M147.3 499.5h.6M149.8 507.5h.6M151.4 490.9h.6M152.7 487.5h.6M152.8 499.2h.6M144.4 491.9h.6M151.0 499.8h.6M150.5 493.4h.6M148.9 491.1h.6M150.0 484.6h.6M152.0 490.8h.6M151.7 489.2h.6M151.3 494.6h.6M152.8 497.4h.6M152.9 492.1h.6M149.8 491.3h.6M146.0 492.4h.6M153.4 500.0h.6M147.3 496.0h.6M152.4 482.1h.6M151.1 496.3h.6M152.4 495.6h.6M144.5 476.6h.6M156.3 490.2h.6M154.0 504.1h.6M150.3 483.9h.6M154.3 493.2h.6M151.6 497.5h.6M153.0 502.0h.6M145.5 481.7h.6M150.4 493.6h.6M152.5 492.4h.6M149.4 510.5h.6M154.3 503.2h.6M153.3 486.9h.6M149.7 492.9h.6M146.5 486.2h.6M150.5 483.3h.6M151.7 497.5h.6M149.3 490.7h.6M151.9 497.5h.6M151.2 483.3h.6M144.9 510.6h.6M147.9 490.4h.6M144.2 486.8h.6M147.7 500.2h.6M148.7 489.4h.6M147.5 489.8h.6M145.0 495.7h.6M153.8 494.8h.6M148.3 504.1h.6M151.5 484.9h.6M148.2 488.4h.6M149.9 503.6h.6M147.8 492.3h.6M150.4 483.5h.6M148.5 498.6h.6M153.6 477.8h.6M152.2 491.1h.6M154.1 498.7h.6M156.2 496.1h.6M148.7 486.5h.6M145.5 498.1h.6M151.6 500.3h.6M151.1 481.0h.6M148.7 491.5h.6M150.5 499.9h.6M154.5 495.9h.6M143.5 485.0h.6M143.3 487.1h.6M146.2 495.5h.6M149.3 502.8h.6M153.4 489.7h.6M153.0 493.6h.6M151.4 504.7h.6M146.4 492.9h.6M154.9 487.1h.6M150.7 494.6h.6M148.7 482.6h.6M147.8 485.3h.6M153.4 495.6h.6M152.2 483.6h.6M151.6 494.7h.6M153.3 487.5h.6M152.6 504.9h.6M155.7 485.8h.6M146.5 481.3h.6M153.0 498.5h.6M151.1 486.3h.6M154.0 506.9h.6M149.9 492.5h.6M153.8 497.7h.6M154.3 490.1h.6M151.1 490.7h.6M148.2 491.0h.6M149.1 497.7h.6M149.0 494.1h.6M147.4 483.3h.6M154.5 485.3h.6M155.7 501.3h.6M142.8 488.2h.6M148.7 493.7h.6M149.4 488.5h.6M154.0 492.4h.6M153.0 487.8h.6M147.8 504.6h.6M149.1 484.4h.6M149.5 502.3h.6M149.5 487.5h.6M152.0 501.7h.6M149.4 490.9h.6M149.4 508.0h.6M149.5 496.9h.6M143.6 495.0h.6M150.2 490.9h.6M148.7 482.2h.6M145.3 494.9h.6M148.0 492.8h.6M149.4 489.3h.6M147.7 508.9h.6M146.5 489.3h.6M149.1 483.9h.6M147.0 500.7h.6M152.9 494.6h.6M160.3 500.4h.6M153.9 486.7h.6M153.4 507.5h.6M148.8 508.5h.6M147.5 484.1h.6M149.9 486.8h.6M152.0 484.3h.6M150.3 477.2h.6M149.9 502.2h.6M149.2 496.1h.6M153.5 484.4h.6M146.0 494.2h.6M150.9 491.3h.6M146.9 503.6h.6M146.3 491.3h.6M149.9 499.5h.6M148.6 486.7h.6M156.4 486.5h.6M152.5 492.2h.6M148.5 493.1h.6M149.2 496.1h.6M142.0 493.3h.6M150.2 485.4h.6M148.8 512.9h.6M155.8 498.8h.6M150.7 491.0h.6M154.4 489.8h.6M147.4 499.2h.6M147.0 486.9h.6M154.6 480.2h.6M149.8 494.5h.6M150.8 481.4h.6M149.3 490.7h.6M156.1 501.8h.6M147.6 500.8h.6M152.1 492.6h.6M149.2 491.2h.6M145.1 488.3h.6M153.0 505.5h.6M155.9 490.4h.6M152.0 473.5h.6M149.2 483.0h.6M152.6 479.7h.6M146.7 484.3h.6M151.3 500.5h.6M147.1 508.5h.6M150.5 486.6h.6M151.1 493.4h.6M152.6 496.4h.6M156.9 503.2h.6M148.0 500.0h.6M152.4 485.2h.6M147.6 486.8h.6M142.2 498.8h.6M149.3 503.7h.6M148.3 494.1h.6M152.3 501.5h.6M151.0 484.9h.6M157.0 500.7h.6M154.3 506.9h.6M154.4 496.9h.6M151.5 498.7h.6M145.3 500.3h.6M146.9 497.0h.6M146.8 499.4h.6M150.6 497.7h.6M147.2 491.1h.6M149.8 491.1h.6M148.6 486.3h.6M152.4 490.3h.6M147.4 496.5h.6M147.5 492.1h.6M148.4 485.8h.6M149.3 486.7h.6M146.1 496.4h.6M149.1 481.4h.6M148.8 495.1h.6M151.4 496.6h.6M150.8 498.4h.6" stroke="#000" stroke-opacity="0.33" stroke-width="0.6" fill="none" filter="url(#soft)"/>
<path d="M166.0 483.0h.6M170.6 486.4h.6M168.1 495.7h.6M171.9 500.7h.6M165.2 486.8h.6M170.3 477.5h.6M162.8 495.3h.6M165.5 481.9h.6M171.4 494.7h.6M171.8 487.1h.6M166.8 487.0h.6M169.3 472.2h.6M165.2 496.2h.6M164.8 489.4h.6M168.5 494.6h.6M166.1 480.1h.6M178.4 483.7h.6M175.1 474.6h.6M168.5 488.3h.6M175.9 507.9h.6M172.1 481.1h.6M164.7 483.4h.6M165.9 492.3h.6M164.8 487.9h.6M174.1 502.6h.6M160.3 481.7h.6M166.5 501.4h.6M166.7 506.7h.6M169.5 502.6h.6M164.5 487.3h.6M172.3 495.0h.6M160.3 487.6h.6M168.8 495.5h.6M165.4 505.2h.6M168.7 502.7h.6M169.7 490.7h.6M166.7 479.8h.6M171.6 496.6h.6M171.9 486.7h.6M163.9 486.7h.6M166.8 489.9h.6M172.1 482.0h.6M166.0 496.0h.6M171.8 509.3h.6M170.2 482.6h.6M163.8 483.1h.6M168.3 492.2h.6M167.8 484.7h.6M167.3 489.3h.6M170.5 490.7h.6M164.7 479.8h.6M174.2 489.3h.6M167.3 489.8h.6M172.7 487.3h.6M168.8 487.9h.6M170.4 481.2h.6M168.9 499.0h.6M172.9 495.4h.6M169.3 503.7h.6M171.0 502.2h.6M163.1 480.4h.6M171.3 487.7h.6M166.3 481.7h.6M174.2 479.6h.6M168.5 477.9h.6M167.3 509.6h.6M178.1 485.7h.6M163.9 504.2h.6M164.5 474.5h.6M169.5 480.6h.6M162.1 499.8h.6M165.0 480.7h.6M168.7 488.4h.6M172.7 490.8h.6M174.6 499.9h.6M175.4 499.8h.6M168.4 494.8h.6M168.1 476.5h.6M163.2 496.5h.6M158.3 482.8h.6M162.8 489.5h.6M163.8 492.2h.6M167.2 485.9h.6M164.6 470.7h.6M168.4 478.8h.6M166.8 493.2h.6M172.4 496.1h.6M174.1 477.7h.6M170.8 503.7h.6M169.7 480.4h.6M169.7 485.5h.6M165.4 499.3h.6M167.3 480.3h.6M165.3 507.1h.6M164.6 495.9h.6M168.8 500.2h.6M166.9 481.8h.6M165.4 481.1h.6M178.7 491.7h.6M166.7 501.0h.6M170.8 488.4h.6M170.6 492.4h.6M172.7 504.4h.6M166.8 489.7h.6M167.3 500.7h.6M169.6 496.8h.6M171.8 484.5h.6M168.6 502.1h.6M171.9 497.1h.6M166.9 486.9h.6M164.6 487.7h.6M167.8 477.6h.6M172.8 483.4h.6M169.1 495.3h.6M165.8 474.3h.6M172.0 493.6h.6M167.0 499.9h.6M171.7 481.7h.6M167.7 474.7h.6M167.0 502.3h.6M164.6 497.2h.6M161.9 487.5h.6M171.9 505.0h.6M169.9 496.6h.6M175.1 468.8h.6M161.1 506.5h.6M178.2 495.2h.6M168.3 492.3h.6M168.2 484.7h.6M168.0 488.9h.6M170.8 495.9h.6M172.1 495.1h.6M164.1 502.1h.6M157.1 491.0h.6M169.4 485.4h.6M175.7 480.5h.6M163.3 485.6h.6M169.8 496.9h.6M168.5 495.8h.6M165.2 484.8h.6M168.6 478.3h.6M168.8 486.6h.6M170.9 481.2h.6M165.9 485.1h.6M166.6 481.3h.6M167.0 478.3h.6M170.3 495.9h.6M168.0 488.4h.6M164.4 481.7h.6M167.2 482.2h.6M163.3 491.5h.6M168.0 486.5h.6M164.8 489.6h.6M165.2 486.3h.6M168.8 496.3h.6M171.2 484.7h.6M173.0 480.0h.6M167.4 501.4h.6M177.7 491.1h.6M166.6 486.8h.6M163.1 488.8h.6M166.3 483.5h.6M172.9 483.3h.6M175.0 497.3h.6M170.7 484.9h.6M166.0 472.7h.6M169.2 487.7h.6M169.6 484.2h.6M170.0 477.0h.6M159.2 494.2h.6M172.4 462.7h.6M173.3 487.0h.6M167.4 476.6h.6M164.0 496.2h.6M165.1 489.7h.6M167.4 507.3h.6M171.7 478.5h.6M166.1 480.0h.6M162.4 484.1h.6M172.5 490.4h.6M170.8 488.8h.6M166.3 490.7h.6M167.8 506.8h.6M175.4 493.3h.6M170.5 472.7h.6M167.6 510.8h.6M164.8 497.1h.6M173.0 486.6h.6M167.1 486.1h.6M171.3 490.2h.6M174.2 500.3h.6M168.0 512.6h.6M166.8 484.7h.6M167.1 482.4h.6M166.4 489.4h.6M171.7 476.3h.6M162.4 483.3h.6M166.8 494.0h.6M164.9 503.2h.6M165.9 488.1h.6M168.3 500.2h.6M169.3 490.2h.6M165.9 491.5h.6M169.7 487.0h.6M168.0 474.0h.6M165.9 500.3h.6M173.8 489.4h.6M159.3 506.0h.6M167.4 512.4h.6M166.4 498.8h.6M165.6 502.0h.6M172.7 480.7h.6M167.2 479.5h.6M169.2 486.5h.6M162.0 480.9h.6M169.0 476.7h.6M172.4 493.9h.6M167.3 502.2h.6M164.3 496.0h.6M162.6 487.2h.6M170.6 485.3h.6M167.6 495.7h.6M174.2 501.4h.6M169.9 487.7h.6M162.2 505.0h.6M175.6 471.2h.6M171.6 489.6h.6M170.9 492.8h.6M167.3 490.0h.6M167.9 500.2h.6M167.0 485.3h.6M170.7 495.6h.6M169.8 492.5h.6M174.0 499.7h.6M168.9 488.2h.6M170.7 473.7h.6M165.9 483.8h.6M168.7 486.6h.6M178.0 496.5h.6M169.7 509.7h.6M168.0 487.2h.6M173.0 497.3h.6M171.8 500.6h.6M166.6 484.2h.6M165.1 490.9h.6M172.1 480.8h.6M165.9 478.3h.6M176.1 497.0h.6M168.9 479.4h.6M163.9 484.4h.6M168.2 478.9h.6M167.1 500.7h.6M168.1 490.9h.6M159.6 487.6h.6M167.5 483.9h.6M162.4 489.4h.6M163.9 485.2h.6M161.6 489.2h.6M171.7 482.6h.6M169.3 476.7h.6M170.4 494.8h.6M166.5 497.8h.6M164.5 490.4h.6M174.8 489.8h.6M163.5 500.1h.6M170.2 487.6h.6M160.7 473.5h.6M161.9 503.0h.6M169.2 482.5h.6M172.7 502.8h.6M164.6 494.2h.6M161.4 493.3h.6M175.4 477.6h.6M168.3 484.4h.6M167.7 490.8h.6M169.2 497.8h.6M170.1 499.2h.6M172.1 499.6h.6M165.3 493.6h.6M166.5 482.6h.6M175.9 492.6h.6M168.2 471.5h.6M167.1 496.8h.6M167.2 485.2h.6M174.0 487.3h.6M166.7 489.1h.6M167.1 499.2h.6M170.3 489.4h.6M166.6 488.0h.6M174.9 487.3h.6M170.7 476.2h.6M169.3 496.0h.6M173.2 492.8h.6M170.4 492.8h.6M172.3 508.0h.6M168.8 482.8h.6M170.4 489.0h.6M170.6 496.8h.6M168.7 486.1h.6M169.3 479.1h.6M169.1 482.2h.6M169.9 491.1h.6M167.2 479.4h.6M168.2 484.0h.6M167.5 496.1h.6M171.9 478.7h.6M171.8 502.0h.6M172.6 492.4h.6M167.7 505.3h.6M166.8 476.6h.6M168.4 492.5h.6M163.9 479.3h.6M176.0 491.0h.6M171.2 484.9h.6M161.9 488.4h.6M173.4 484.1h.6M160.8 488.5h.6M166.9 490.1h.6M163.8 487.3h.6M165.9 497.8h.6M168.7 497.7h.6M167.8 471.3h.6M160.2 494.7h.6M171.6 497.7h.6M167.7 474.3h.6M166.1 493.6h.6M173.6 487.0h.6M165.8 483.2h.6M172.1 497.6h.6M160.7 500.7h.6M164.3 477.1h.6M161.6 483.6h.6M177.4 512.4h.6M163.0 484.1h.6M168.7 493.7h.6M166.1 476.1h.6M166.4 484.0h.6M160.8 491.3h.6M162.2 474.7h.6M174.1 498.3h.6M173.9 491.0h.6M166.4 489.2h.6M162.6 496.5h.6M169.1 487.3h.6M160.5 489.0h.6M174.6 502.7h.6M171.6 486.9h.6M168.6 494.9h.6M168.8 499.2h.6M165.4 469.6h.6M158.3 482.0h.6M162.5 495.8h.6M172.4 490.0h.6M170.2 490.7h.6M168.7 485.9h.6M166.4 500.5h.6M167.0 489.6h.6M172.9 498.7h.6M166.5 492.2h.6M164.0 491.2h.6M169.3 490.0h.6M168.7 493.2h.6M157.9 482.8h.6M168.4 485.7h.6M164.2 487.9h.6M174.5 488.0h.6M165.4 485.8h.6M163.3 494.3h.6M164.1 498.0h.6M171.7 495.0h.6M172.2 489.3h.6M161.0 489.4h.6M170.6 476.4h.6M163.1 499.6h.6M169.8 501.9h.6M170.7 490.6h.6M169.8 497.5h.6M167.9 488.2h.6M169.3 487.2h.6M177.8 483.3h.6M161.9 478.6h.6M172.3 486.4h.6M168.7 488.1h.6M169.2 477.2h.6M168.4 485.0h.6M172.4 495.5h.6M163.0 481.5h.6M170.3 500.5h.6M171.1 488.7h.6M172.5 469.3h.6M165.9 481.4h.6M163.9 495.0h.6M169.2 492.5h.6M167.5 495.5h.6M171.2 485.0h.6M171.8 481.8h.6M175.2 478.5h.6M166.9 480.5h.6M168.2 501.6h.6M165.0 505.6h.6M173.8 493.4h.6M165.7 498.0h.6M156.5 483.3h.6M171.9 489.7h.6M178.1 484.1h.6M162.7 488.1h.6M170.4 505.0h.6M160.9 491.4h.6M173.2 484.1h.6M166.2 479.3h.6M171.2 497.3h.6M170.4 492.2h.6M172.1 488.9h.6M171.0 497.2h.6M173.3 494.5h.6M168.4 496.2h.6M161.8 474.5h.6M174.6 491.2h.6M163.8 484.9h.6" stroke="#000" stroke-opacity="0.3" stroke-width="0.6" fill="none" filter="url(#soft)"/>
<path d="M151.0 471.8h.6M149.0 475.4h.6M145.8 482.5h.6M147.9 478.0h.6M153.8 464.9h.6M147.4 471.7h.6M152.5 469.8h.6M151.6 472.1h.6M147.7 471.7h.6M159.3 469.0h.6M148.1 474.1h.6M156.1 475.6h.6M149.4 471.2h.6M152.2 470.7h.6M152.9 475.8h.6M153.4 471.5h.6M150.9 478.5h.6M147.3 479.4h.6M154.1 471.8h.6M149.0 478.7h.6M155.7 475.1h.6M158.7 464.4h.6M151.9 470.3h.6M149.1 471.8h.6M153.4 473.6h.6M151.1 466.3h.6M153.5 473.9h.6M158.8 475.2h.6M151.6 467.0h.6M160.9 468.8h.6M152.2 474.5h.6M153.3 476.7h.6M148.0 468.8h.6M152.1 466.6h.6M149.4 477.0h.6M152.6 471.1h.6M149.6 471.7h.6M151.4 467.2h.6M154.3 466.5h.6M156.0 470.2h.6M143.7 465.4h.6M152.5 468.1h.6M157.8 477.0h.6M158.8 475.0h.6M156.2 469.1h.6M156.0 469.8h.6M151.4 466.1h.6M151.7 473.1h.6M151.3 467.1h.6M154.7 475.1h.6M151.2 474.6h.6M155.0 467.6h.6M151.4 464.1h.6M148.0 473.2h.6M148.5 473.1h.6M152.8 463.3h.6M149.9 477.5h.6M151.6 472.0h.6M149.1 465.1h.6M146.0 482.9h.6M150.9 468.0h.6M151.9 463.8h.6M156.4 478.3h.6M148.9 472.8h.6M148.4 474.9h.6M148.6 470.9h.6M156.1 473.6h.6M150.4 465.5h.6M146.0 476.3h.6M153.3 471.7h.6M155.9 472.1h.6M149.0 471.1h.6M151.2 471.4h.6M160.2 473.8h.6M152.5 470.5h.6M149.2 467.5h.6M145.0 469.7h.6M146.2 464.1h.6M148.3 463.4h.6M156.3 476.5h.6M148.2 479.7h.6M153.9 461.4h.6M151.6 467.5h.6M145.5 470.5h.6M155.6 473.3h.6M146.4 468.9h.6M148.9 476.1h.6M151.2 467.6h.6M148.3 463.6h.6M148.6 475.1h.6M144.8 472.3h.6M151.1 474.8h.6M147.5 475.1h.6M157.0 480.6h.6M145.8 471.4h.6M150.8 472.0h.6M148.1 474.9h.6M159.8 477.5h.6M148.2 469.2h.6M154.1 472.0h.6M148.9 476.4h.6M153.4 475.6h.6M150.9 476.6h.6M149.9 467.0h.6M151.5 465.9h.6M155.9 474.4h.6M145.6 472.2h.6M154.5 470.1h.6M153.0 469.2h.6M151.3 471.2h.6M153.2 467.6h.6M147.6 472.8h.6M149.7 473.6h.6M149.8 466.2h.6M154.1 472.6h.6M154.1 470.1h.6M150.3 476.6h.6M145.6 478.5h.6M153.3 471.3h.6M151.8 473.9h.6M148.8 472.6h.6M148.2 464.1h.6M152.2 471.9h.6M153.8 473.7h.6M154.0 474.7h.6M147.8 476.4h.6M160.9 469.2h.6M147.1 474.2h.6M154.7 475.6h.6M156.9 465.9h.6" stroke="#000" stroke-opacity="0.3" stroke-width="0.6" fill="none" filter="url(#soft)"/>
<path d="M169.5 473.4h.6M173.0 467.9h.6M168.1 470.0h.6M167.4 470.9h.6M167.4 464.4h.6M167.9 471.8h.6M166.5 457.3h.6M165.2 468.9h.6M164.5 477.9h.6M171.7 470.8h.6M170.4 484.7h.6M164.1 473.4h.6M165.6 477.5h.6M172.5 471.0h.6M170.5 468.3h.6M161.6 474.9h.6M174.6 470.3h.6M165.9 464.3h.6M176.7 466.7h.6M164.1 470.7h.6M172.9 471.7h.6M167.9 471.6h.6M171.4 471.4h.6M168.6 471.2h.6M163.5 476.9h.6M165.2 466.2h.6M166.3 471.6h.6M171.3 465.6h.6M162.9 472.2h.6M169.6 467.1h.6M163.4 472.2h.6M167.4 465.0h.6M164.5 477.5h.6M163.8 475.7h.6M161.8 477.5h.6M174.5 469.0h.6M165.3 474.0h.6M163.0 473.7h.6M172.9 472.6h.6M169.3 470.9h.6M172.0 468.2h.6M174.4 471.4h.6M166.7 464.9h.6M166.2 472.5h.6M173.0 465.0h.6M167.5 468.7h.6M163.2 471.5h.6M165.0 475.0h.6M157.2 474.5h.6M160.4 463.7h.6M170.1 470.1h.6M168.5 467.6h.6M163.8 468.5h.6M167.8 468.1h.6M166.3 468.0h.6M168.9 466.9h.6M159.6 461.0h.6M167.9 471.9h.6M171.9 468.5h.6M163.4 465.5h.6M171.1 469.0h.6M172.0 471.2h.6M166.9 464.0h.6M165.3 474.7h.6M165.6 474.2h.6M161.4 475.6h.6M179.2 476.0h.6M169.3 466.5h.6M165.9 468.9h.6M168.7 463.4h.6M164.5 474.7h.6M168.6 474.5h.6M171.4 466.9h.6M162.6 473.4h.6M168.1 471.8h.6M164.7 475.6h.6M170.0 476.1h.6M166.6 474.3h.6M167.8 467.7h.6M167.7 464.9h.6M167.3 472.2h.6M170.8 467.3h.6M162.7 468.6h.6M159.7 468.9h.6M178.5 472.1h.6M165.0 468.8h.6M175.1 466.8h.6M167.5 471.2h.6M165.1 468.6h.6M161.3 468.1h.6M173.2 477.2h.6M166.9 474.3h.6M169.8 471.9h.6M167.5 476.4h.6M170.3 470.6h.6M167.1 475.2h.6M165.6 468.6h.6M166.9 469.5h.6M173.1 472.9h.6M167.6 469.4h.6" stroke="#000" stroke-opacity="0.3" stroke-width="0.6" fill="none" filter="url(#soft)"/>
<line x1="140.60" y1="443.40" x2="213.20" y2="443.40" stroke="#222" stroke-width="1.1" stroke-linecap="butt"/>
<line x1="141.00" y1="443.40" x2="141.00" y2="514.20" stroke="#222" stroke-width="1.1" stroke-linecap="butt"/>
<line x1="212.80" y1="443.40" x2="212.80" y2="514.20" stroke="#555" stroke-width="0.8" stroke-linecap="butt"/>
<line x1="141.00" y1="514.20" x2="212.80" y2="514.20" stroke="#333" stroke-width="1.0" stroke-linecap="butt"/>
<line x1="160.00" y1="443.40" x2="160.00" y2="514.20" stroke="#000" stroke-width="1.7" stroke-linecap="butt"/>
<line x1="141.00" y1="477.40" x2="211.30" y2="477.40" stroke="#000" stroke-width="1.7" stroke-linecap="butt"/>
<line x1="139.80" y1="452.25" x2="141.00" y2="452.25" stroke="#444" stroke-width="0.7" stroke-linecap="butt"/>
<line x1="158.95" y1="514.20" x2="158.95" y2="515.50" stroke="#444" stroke-width="0.7" stroke-linecap="butt"/>
<line x1="139.80" y1="469.95" x2="141.00" y2="469.95" stroke="#444" stroke-width="0.7" stroke-linecap="butt"/>
<line x1="176.90" y1="514.20" x2="176.90" y2="515.50" stroke="#444" stroke-width="0.7" stroke-linecap="butt"/>
<line x1="139.80" y1="487.65" x2="141.00" y2="487.65" stroke="#444" stroke-width="0.7" stroke-linecap="butt"/>
<line x1="194.85" y1="514.20" x2="194.85" y2="515.50" stroke="#444" stroke-width="0.7" stroke-linecap="butt"/>
<line x1="139.80" y1="505.35" x2="141.00" y2="505.35" stroke="#444" stroke-width="0.7" stroke-linecap="butt"/>
<line x1="212.80" y1="514.20" x2="212.80" y2="515.50" stroke="#444" stroke-width="0.7" stroke-linecap="butt"/>
<text x="143.2" y="452.79999999999995" font-size="7" text-anchor="start" font-weight="bold" stroke="#000" stroke-width="0.25" >6%</text>
<text x="211.8" y="452.79999999999995" font-size="7" text-anchor="end" font-weight="bold" stroke="#000" stroke-width="0.25" >5%</text>
<text x="143.2" y="513.2" font-size="7" text-anchor="start" font-weight="bold" stroke="#000" stroke-width="0.25" >63%</text>
<text x="211.8" y="513.2" font-size="7" text-anchor="end" font-weight="bold" stroke="#000" stroke-width="0.25" >24%</text>
<path d="M77.3 580.3h.6M79.3 583.8h.6M72.6 572.9h.6M72.4 578.4h.6M75.5 580.7h.6M77.8 565.6h.6M73.3 566.3h.6M70.2 572.5h.6M71.3 569.7h.6M68.8 585.6h.6M72.3 584.3h.6M70.0 559.5h.6M71.5 583.6h.6M71.6 580.0h.6M70.1 587.5h.6M74.5 584.9h.6M72.4 586.6h.6M73.4 573.3h.6M71.3 577.4h.6M70.6 568.0h.6M73.6 582.3h.6M72.4 583.3h.6M77.8 567.5h.6M73.9 569.7h.6M71.3 578.3h.6M66.3 581.6h.6M75.6 581.1h.6M75.1 590.6h.6M72.1 585.2h.6M77.4 580.7h.6M68.0 575.8h.6M72.3 564.8h.6M73.0 582.7h.6M72.4 575.6h.6M77.5 572.4h.6M70.5 577.3h.6M76.5 581.5h.6M73.4 573.3h.6M76.8 583.7h.6M68.2 579.5h.6M66.2 588.2h.6M75.0 572.3h.6M69.4 574.7h.6M68.1 581.2h.6M71.7 563.7h.6M73.1 585.9h.6M69.5 574.3h.6M78.5 578.4h.6M71.6 578.4h.6M75.5 569.4h.6M72.9 564.7h.6M68.6 565.4h.6M75.7 579.3h.6M75.3 586.1h.6M73.3 578.8h.6M74.4 580.5h.6M70.1 574.9h.6M72.8 577.3h.6M71.0 576.0h.6M74.0 578.4h.6M74.9 583.2h.6M74.8 584.3h.6M75.6 587.5h.6M75.0 572.3h.6M80.0 585.5h.6M76.8 582.5h.6M73.3 568.4h.6M74.5 574.3h.6M72.0 560.9h.6M77.7 568.2h.6M70.0 580.5h.6M74.8 571.0h.6M73.2 578.9h.6M73.7 581.0h.6M75.5 574.2h.6M68.5 593.3h.6M72.1 569.5h.6M75.4 581.4h.6M71.4 594.7h.6M66.4 586.6h.6M73.1 579.3h.6M74.1 575.2h.6M74.1 567.2h.6M72.0 590.9h.6M65.7 586.3h.6M66.7 570.6h.6M75.8 573.9h.6M71.5 565.7h.6M72.8 575.7h.6M71.3 565.2h.6M73.6 580.1h.6M76.5 580.9h.6M77.6 586.0h.6M65.0 589.5h.6M72.9 569.1h.6M74.5 584.2h.6M68.7 567.7h.6M75.2 572.8h.6M77.4 578.6h.6M71.6 567.0h.6M74.9 564.0h.6M69.4 567.1h.6M78.2 589.8h.6M72.6 574.1h.6M75.2 586.4h.6M70.8 593.6h.6M72.6 585.5h.6M66.3 576.6h.6M71.2 591.9h.6M72.6 567.4h.6M78.9 571.8h.6M73.2 567.6h.6M75.2 578.4h.6M72.4 574.0h.6M71.5 571.6h.6M69.1 586.1h.6M75.8 566.5h.6M69.8 580.1h.6M79.8 575.4h.6M72.3 575.1h.6M73.9 575.7h.6M76.4 584.4h.6M74.8 588.8h.6M72.5 572.8h.6M81.9 562.5h.6M68.7 559.3h.6M74.2 568.9h.6M76.3 561.2h.6M72.8 574.0h.6M70.1 585.4h.6M72.0 580.4h.6M71.7 578.1h.6M71.9 577.5h.6M72.9 571.9h.6M74.5 575.6h.6M70.4 569.1h.6M74.5 587.0h.6M69.4 573.8h.6M74.5 584.8h.6M75.3 568.1h.6M73.3 583.8h.6M73.9 575.3h.6M69.8 578.2h.6M73.0 577.2h.6M77.6 585.9h.6M70.9 578.7h.6M72.3 577.7h.6M78.0 583.9h.6M73.3 572.0h.6M72.7 579.7h.6M71.7 585.3h.6M73.3 568.1h.6M79.2 555.2h.6M72.4 576.1h.6M76.1 585.4h.6M77.4 588.7h.6M74.1 577.8h.6M76.2 576.8h.6M69.5 573.6h.6M75.1 581.6h.6M70.0 586.0h.6M74.1 565.7h.6M74.6 584.6h.6M74.8 574.7h.6M70.9 585.4h.6M73.9 576.9h.6M72.0 569.2h.6M67.7 574.4h.6M76.4 582.7h.6M71.2 588.5h.6M72.5 569.4h.6M76.0 587.4h.6M72.1 567.8h.6M73.0 558.7h.6M73.4 588.5h.6M74.0 571.5h.6M75.3 573.3h.6M76.9 574.3h.6M79.1 574.4h.6M73.8 569.9h.6M69.5 579.6h.6M74.2 569.7h.6M74.8 573.9h.6M71.6 576.5h.6M74.3 582.5h.6M76.8 579.9h.6M71.1 571.8h.6M74.3 568.0h.6M72.7 574.1h.6M72.9 578.4h.6M76.2 589.3h.6M75.8 584.6h.6M70.1 584.8h.6M77.0 566.8h.6M80.6 572.7h.6M66.3 590.3h.6M73.4 571.0h.6M71.5 585.0h.6M73.9 574.2h.6M76.5 569.9h.6M70.7 572.8h.6M71.0 582.2h.6M72.5 569.1h.6M71.9 562.1h.6M73.7 577.8h.6M75.0 575.2h.6M74.4 570.0h.6M73.3 578.2h.6M69.7 581.4h.6M73.6 577.4h.6M71.8 592.1h.6M73.2 571.2h.6M70.7 581.4h.6M72.6 571.1h.6M71.1 584.0h.6M73.4 584.9h.6M73.2 568.1h.6M75.7 579.4h.6M71.3 574.7h.6M70.4 583.2h.6M72.0 580.6h.6M74.0 575.0h.6M74.3 575.1h.6M69.8 573.9h.6M69.8 582.7h.6M75.1 572.6h.6M75.0 578.8h.6M76.0 570.0h.6M73.3 569.6h.6M71.2 587.3h.6M67.4 570.1h.6M74.6 582.8h.6M70.9 561.8h.6M68.2 579.7h.6M76.4 583.8h.6M71.1 587.1h.6M72.7 581.6h.6M72.6 588.9h.6M71.7 560.9h.6M72.3 578.4h.6M74.0 571.6h.6M72.5 568.5h.6M72.5 577.6h.6M73.9 589.3h.6M67.4 580.9h.6M74.5 568.3h.6M73.4 576.9h.6M70.3 582.4h.6M78.7 582.0h.6M75.5 585.0h.6M72.8 584.3h.6M70.9 578.3h.6M75.2 586.8h.6M72.4 574.8h.6M74.6 576.4h.6M73.6 583.0h.6M71.0 583.6h.6M74.3 575.0h.6M69.6 572.3h.6M73.1 584.0h.6M67.5 582.3h.6M73.8 568.5h.6M75.7 580.0h.6M74.5 569.7h.6M70.0 583.8h.6M77.3 579.7h.6M72.6 573.6h.6M68.2 584.3h.6M72.9 586.2h.6M71.1 584.8h.6M71.1 581.4h.6M77.2 571.7h.6M75.8 576.9h.6M70.5 578.5h.6M75.1 571.7h.6M72.4 572.8h.6M71.0 575.4h.6M75.6 573.3h.6M76.8 574.2h.6M71.2 585.0h.6M77.2 572.1h.6M74.9 568.3h.6M72.0 574.2h.6M75.2 567.7h.6M71.7 571.9h.6M73.5 567.9h.6M73.8 565.8h.6M75.6 567.2h.6M67.8 589.4h.6M76.8 570.8h.6M70.1 580.5h.6M79.0 581.5h.6M75.1 568.2h.6M68.1 579.9h.6M76.1 578.0h.6M73.2 587.3h.6M70.8 585.1h.6M75.6 572.4h.6M73.6 577.8h.6M74.9 569.8h.6M72.5 577.7h.6M73.3 577.2h.6M73.9 575.6h.6M71.8 584.6h.6M71.4 574.6h.6M70.7 568.5h.6M74.5 576.7h.6M72.8 580.3h.6M72.7 582.0h.6M78.4 579.6h.6M72.4 589.2h.6M75.2 564.7h.6M77.0 578.6h.6M75.6 568.5h.6M70.8 572.2h.6M74.8 568.7h.6M71.2 584.0h.6M71.4 577.9h.6M70.6 564.4h.6M73.0 576.1h.6M69.1 584.2h.6M75.5 583.5h.6M71.7 568.5h.6M72.9 578.2h.6M72.7 572.7h.6M70.4 571.6h.6M73.0 573.4h.6M77.9 575.0h.6M74.5 573.6h.6M72.7 569.8h.6M71.8 566.0h.6M67.3 586.9h.6M70.2 580.2h.6M72.8 572.8h.6M75.3 572.9h.6M74.4 574.3h.6M76.0 584.0h.6M73.4 585.1h.6M74.6 588.5h.6M72.8 565.6h.6M73.8 578.7h.6M72.2 575.5h.6M72.4 567.8h.6M78.1 571.3h.6M70.2 565.4h.6M70.8 576.7h.6M77.4 581.4h.6M71.1 567.8h.6M70.0 576.4h.6M75.7 573.5h.6M77.7 591.2h.6M73.6 561.1h.6M76.3 576.3h.6M75.1 584.2h.6M70.3 577.5h.6M73.7 571.5h.6M75.2 576.0h.6M72.0 590.8h.6M73.7 589.0h.6M72.8 584.6h.6M71.1 578.1h.6M76.3 561.0h.6M74.7 575.0h.6M76.3 578.3h.6M73.0 567.6h.6M81.5 571.6h.6M72.3 571.7h.6M72.3 578.6h.6M69.4 584.7h.6M72.4 581.4h.6M67.2 573.2h.6M72.3 574.1h.6M71.3 579.3h.6M74.3 569.8h.6M67.6 582.3h.6M72.3 584.8h.6M75.7 576.2h.6M69.1 574.3h.6M71.1 586.1h.6M68.4 583.7h.6M68.8 572.8h.6M69.2 571.9h.6M71.9 579.7h.6M71.5 582.0h.6M78.1 578.2h.6M69.9 575.7h.6M72.9 574.3h.6M76.4 585.5h.6M78.9 580.8h.6M65.6 576.0h.6M75.1 571.1h.6M71.5 583.7h.6M73.6 568.7h.6M71.5 554.3h.6M73.2 568.0h.6M73.0 568.3h.6M70.6 573.2h.6M81.1 568.3h.6M69.8 573.0h.6M76.2 582.8h.6M75.2 574.6h.6M73.5 571.3h.6M72.7 571.1h.6M69.1 569.7h.6M78.6 579.9h.6M71.1 576.2h.6M71.9 585.9h.6M73.1 572.3h.6M75.1 579.3h.6M71.2 571.3h.6M73.6 565.0h.6M70.6 584.4h.6M75.6 585.2h.6M71.9 572.6h.6M72.4 573.5h.6M76.8 575.3h.6M77.0 571.8h.6M74.2 588.9h.6M71.1 572.2h.6M71.5 565.1h.6M72.3 572.2h.6M79.4 573.5h.6M67.1 583.9h.6M75.9 576.7h.6M74.0 582.2h.6M71.6 577.3h.6M73.6 589.1h.6M77.2 578.2h.6M69.4 583.5h.6M73.0 585.5h.6M73.3 578.3h.6M75.0 571.6h.6M71.3 593.8h.6M70.7 583.8h.6M75.1 583.0h.6M77.0 567.1h.6M75.9 561.9h.6M73.3 579.4h.6M76.1 584.9h.6M70.5 575.0h.6M72.7 571.9h.6M70.9 572.1h.6M76.4 587.0h.6M75.3 589.3h.6M73.4 569.0h.6M71.3 578.5h.6M76.1 585.9h.6M70.6 584.0h.6M71.7 581.4h.6M75.8 587.9h.6M71.7 578.8h.6M74.4 573.9h.6M73.4 581.3h.6M68.5 572.2h.6M79.7 580.3h.6M71.6 563.5h.6M70.5 580.8h.6M75.1 580.3h.6M74.8 572.5h.6M77.7 568.7h.6M74.6 575.0h.6M68.3 583.6h.6M72.4 582.2h.6M76.8 578.2h.6M71.3 575.4h.6M73.0 587.6h.6M75.6 588.6h.6M75.3 571.4h.6M75.8 584.1h.6M72.8 580.4h.6M72.3 567.7h.6M72.9 582.6h.6M72.1 560.5h.6M70.9 585.0h.6M73.8 585.2h.6M71.0 573.9h.6M70.3 571.3h.6M74.6 578.0h.6M71.8 579.2h.6M69.5 574.1h.6M68.9 566.0h.6M69.3 568.9h.6M77.6 587.1h.6M76.7 572.7h.6M74.9 568.6h.6M71.6 578.8h.6M68.6 578.4h.6M74.9 561.7h.6M66.3 574.9h.6M72.8 578.0h.6M70.0 581.2h.6M73.5 571.6h.6M77.8 578.9h.6M75.2 590.7h.6M71.8 575.4h.6M68.3 575.3h.6M74.7 578.5h.6M69.6 570.7h.6M67.9 566.8h.6M73.5 579.2h.6M70.6 575.4h.6M70.9 581.6h.6M75.0 572.9h.6M71.9 567.9h.6M71.8 593.2h.6M73.1 583.3h.6M74.8 587.9h.6M72.2 570.3h.6M76.1 583.8h.6M71.3 585.1h.6M73.1 576.7h.6M78.3 580.9h.6M74.0 574.6h.6M73.7 584.8h.6M74.4 571.4h.6M74.4 576.1h.6M74.0 575.6h.6M67.0 565.0h.6M72.1 560.7h.6M68.9 592.0h.6M75.1 573.6h.6M74.1 560.4h.6M73.9 584.3h.6M73.7 567.3h.6M75.9 573.0h.6M71.5 578.5h.6M72.3 592.1h.6M72.8 592.9h.6M74.4 567.8h.6M73.1 577.4h.6M77.2 586.5h.6M80.4 572.1h.6M71.9 594.3h.6M70.6 579.6h.6M77.7 569.5h.6M72.2 571.5h.6M74.6 580.0h.6M73.0 581.9h.6M70.9 574.2h.6M74.5 592.0h.6M73.0 577.4h.6M76.9 577.6h.6M76.8 578.8h.6M76.4 578.4h.6M70.5 570.7h.6M74.4 591.0h.6M78.4 574.6h.6M80.2 568.7h.6M70.8 583.9h.6M68.8 583.8h.6M74.2 581.7h.6M69.7 579.8h.6M75.8 576.6h.6M76.1 577.2h.6M74.1 574.6h.6M69.3 575.8h.6M74.6 571.3h.6M67.6 565.4h.6M76.9 575.3h.6M71.0 586.2h.6M72.7 565.8h.6M71.9 570.4h.6M72.6 570.2h.6M73.3 580.4h.6M71.5 575.5h.6M72.7 583.2h.6M71.1 582.6h.6M76.7 575.5h.6M70.4 574.7h.6M68.1 572.9h.6M69.8 575.7h.6M72.1 580.9h.6M73.5 580.2h.6M73.0 579.1h.6M69.9 581.9h.6M76.9 585.3h.6M69.3 580.1h.6M68.5 582.7h.6M72.6 573.6h.6M71.0 575.2h.6M73.1 569.8h.6M73.3 578.9h.6M74.7 576.7h.6M73.1 594.3h.6M76.0 579.4h.6M69.2 581.6h.6M74.8 557.1h.6M72.7 579.9h.6M73.3 577.7h.6M72.7 587.4h.6M74.2 574.9h.6M72.5 592.6h.6M70.7 573.1h.6M74.1 578.1h.6M74.0 587.2h.6M76.4 580.2h.6M73.3 576.5h.6M72.5 584.5h.6M69.6 569.2h.6M71.9 569.8h.6M71.1 586.0h.6M66.7 581.3h.6M69.4 575.2h.6M71.5 569.6h.6M68.9 577.5h.6M64.7 561.1h.6M72.0 585.2h.6M78.5 574.8h.6M70.9 574.9h.6M74.5 584.0h.6M70.4 580.6h.6M73.1 585.6h.6M72.0 575.4h.6M70.7 567.1h.6M73.9 582.3h.6M76.4 579.0h.6M71.8 570.1h.6M69.8 571.6h.6M74.1 577.7h.6M66.6 576.2h.6M72.3 569.2h.6M73.1 581.0h.6M70.2 566.9h.6M72.2 579.0h.6M72.4 588.6h.6M73.6 569.5h.6M75.4 572.1h.6M75.1 577.7h.6M76.7 569.5h.6M75.2 580.2h.6M70.6 582.3h.6M79.7 579.7h.6M71.0 575.9h.6M76.9 578.9h.6M77.4 572.1h.6M76.9 565.2h.6M72.7 574.8h.6M71.8 586.2h.6M71.4 579.6h.6M78.5 583.2h.6M72.0 571.5h.6M67.4 579.8h.6M75.7 585.3h.6M73.9 593.2h.6M75.4 559.7h.6M70.6 583.0h.6M72.0 583.3h.6M80.5 571.3h.6M79.5 576.4h.6M68.9 577.7h.6M75.8 572.6h.6M77.7 570.5h.6M72.6 583.9h.6M72.6 572.8h.6M73.1 581.9h.6M78.2 587.2h.6M78.6 576.8h.6M68.4 576.7h.6M72.0 569.5h.6M71.7 576.5h.6M73.3 583.9h.6M70.5 585.6h.6M73.3 582.5h.6M76.8 567.7h.6M77.8 571.6h.6M74.3 585.2h.6M75.8 565.3h.6M73.7 585.5h.6M72.8 576.4h.6M73.4 589.3h.6M71.6 569.9h.6M70.0 573.0h.6M72.5 579.6h.6M72.9 564.1h.6M68.6 582.1h.6M75.3 566.8h.6M75.9 558.7h.6M79.9 581.4h.6M68.4 580.8h.6M73.1 573.6h.6M72.1 575.3h.6M72.9 570.2h.6M71.5 581.2h.6M74.7 567.0h.6M71.8 588.8h.6M75.3 589.4h.6M69.3 569.2h.6M66.9 562.4h.6M72.1 569.1h.6M70.0 571.8h.6M72.7 583.3h.6M74.8 563.8h.6M77.5 574.5h.6M70.3 576.8h.6M72.0 566.6h.6M77.7 572.7h.6M71.5 581.0h.6M78.0 580.6h.6M70.6 580.3h.6M76.4 579.9h.6M75.1 573.4h.6M73.0 564.4h.6M71.1 568.5h.6M73.2 588.2h.6M66.7 567.1h.6M70.5 576.3h.6M76.6 571.2h.6M70.9 586.1h.6M74.3 581.0h.6M75.6 571.4h.6M73.8 572.1h.6M71.1 578.0h.6M74.5 567.4h.6M71.0 581.6h.6M73.7 582.0h.6M72.3 571.0h.6M75.5 581.5h.6M64.9 583.5h.6M71.0 582.0h.6M77.8 574.9h.6M70.4 578.9h.6M73.5 581.3h.6M69.1 578.9h.6M75.8 582.3h.6M75.0 586.0h.6M70.8 586.2h.6M73.8 569.5h.6M72.3 579.0h.6M74.2 587.2h.6M73.8 573.2h.6M79.6 574.5h.6M70.8 584.0h.6M72.0 571.1h.6M70.1 585.9h.6M70.1 577.8h.6M71.9 575.6h.6M70.8 578.2h.6M75.0 584.9h.6M72.2 568.2h.6M68.9 577.1h.6M66.0 587.0h.6M73.3 577.9h.6M69.1 572.2h.6M71.0 582.1h.6M72.0 581.7h.6M74.7 562.5h.6M72.5 586.5h.6M71.7 578.0h.6M72.8 567.8h.6M79.6 576.0h.6M75.1 573.7h.6M77.3 585.7h.6M76.6 584.2h.6M75.2 587.5h.6M74.4 578.1h.6M75.6 570.3h.6M65.8 583.1h.6M73.6 571.8h.6M72.4 569.9h.6M70.8 578.5h.6M73.6 583.3h.6M72.9 581.8h.6M75.2 571.8h.6M68.3 571.9h.6M72.5 573.1h.6M79.6 571.9h.6M74.6 571.3h.6M75.2 567.6h.6M76.0 578.4h.6M72.0 568.1h.6M78.1 572.7h.6M77.4 559.0h.6M69.7 590.7h.6M78.4 577.2h.6M76.1 581.6h.6M72.2 578.0h.6M69.9 567.0h.6M73.6 582.5h.6M73.7 567.9h.6M75.7 577.7h.6M75.4 574.9h.6M72.4 585.0h.6M77.2 568.1h.6M70.0 584.3h.6M74.2 577.5h.6M70.3 584.7h.6M73.7 578.7h.6M74.3 573.2h.6M74.4 578.1h.6M75.3 579.9h.6M69.5 571.8h.6M72.4 585.8h.6M71.3 585.6h.6M76.3 583.6h.6M79.8 577.0h.6M74.1 586.2h.6M74.4 584.5h.6M72.8 587.7h.6M74.2 562.8h.6M76.4 575.7h.6M70.6 574.9h.6M72.4 585.7h.6M74.2 576.6h.6M73.2 570.4h.6M71.3 573.6h.6M72.5 568.4h.6M72.0 584.6h.6M74.5 577.1h.6M74.2 575.3h.6M69.7 583.7h.6M79.7 580.9h.6M69.7 581.0h.6M72.2 575.0h.6M68.4 576.5h.6M74.4 565.2h.6M72.6 573.4h.6M70.3 581.8h.6M78.0 580.2h.6M76.2 582.8h.6M73.0 581.4h.6M77.1 573.9h.6M72.8 566.8h.6M67.8 571.0h.6M75.8 579.8h.6M74.0 586.9h.6M68.1 587.4h.6M73.4 582.9h.6M77.2 571.0h.6M70.7 580.1h.6M73.0 572.8h.6M72.8 571.7h.6M73.6 574.2h.6M78.2 569.3h.6M74.9 577.7h.6M77.8 569.9h.6M71.8 590.0h.6M71.3 574.3h.6M72.1 569.8h.6M76.8 588.4h.6M72.8 571.5h.6M69.3 582.0h.6M71.7 581.2h.6M66.2 574.0h.6M75.0 580.2h.6M64.9 579.3h.6M73.6 577.0h.6M72.2 573.8h.6M73.6 580.9h.6M64.0 577.0h.6M75.9 575.5h.6M76.8 570.2h.6M78.8 584.3h.6M77.4 588.9h.6M69.7 576.3h.6M74.6 584.9h.6M73.4 567.5h.6M76.8 575.9h.6M74.5 574.7h.6M72.9 566.9h.6M75.1 572.4h.6M68.0 580.2h.6M73.1 584.2h.6M75.6 568.1h.6M72.7 577.1h.6M73.5 569.3h.6M73.4 584.4h.6M76.8 587.9h.6M75.4 558.4h.6M72.4 573.0h.6M64.8 588.5h.6M75.9 577.0h.6M74.3 580.7h.6M72.6 587.3h.6M78.5 583.2h.6M71.6 579.0h.6M76.0 582.4h.6M71.2 584.2h.6M75.3 581.4h.6M72.0 576.9h.6M67.6 576.9h.6M71.9 574.9h.6M72.4 574.7h.6M73.5 577.8h.6M71.4 576.1h.6M72.9 580.7h.6M74.5 574.4h.6M70.8 564.9h.6M69.6 580.1h.6M70.5 589.0h.6M72.7 574.2h.6M72.7 573.0h.6M71.4 577.6h.6M69.0 578.1h.6M72.9 570.4h.6M76.2 579.8h.6M76.4 572.1h.6M69.6 568.3h.6M68.6 563.1h.6M77.8 573.5h.6M73.8 573.1h.6M72.8 588.8h.6M68.1 569.8h.6M73.6 570.3h.6M75.2 586.7h.6M75.8 582.6h.6M72.7 584.5h.6M70.9 568.2h.6M72.4 575.2h.6M76.8 569.8h.6M76.5 571.3h.6M69.5 564.5h.6M73.1 566.4h.6M73.8 577.4h.6M72.0 562.8h.6M71.7 580.4h.6M68.0 582.2h.6M73.3 573.0h.6M73.8 581.9h.6M73.1 571.3h.6M75.5 572.0h.6M74.3 584.3h.6M77.0 588.9h.6M76.2 578.1h.6M72.6 578.4h.6M75.1 570.9h.6M77.6 565.3h.6M76.1 567.6h.6M70.0 573.3h.6M72.4 567.1h.6M75.0 576.2h.6M77.1 569.5h.6M67.9 582.1h.6M72.5 584.3h.6M66.4 567.8h.6M73.5 591.5h.6M69.6 562.9h.6M71.9 587.5h.6M77.8 567.0h.6M71.4 563.4h.6M70.8 569.9h.6M74.4 585.5h.6M80.1 574.4h.6M75.6 578.7h.6M73.6 591.4h.6M75.2 588.6h.6M74.1 583.4h.6M74.7 576.3h.6M71.2 574.0h.6M73.2 574.2h.6M72.2 571.8h.6M75.7 575.2h.6M72.9 575.4h.6M77.0 573.1h.6M77.3 570.7h.6M77.6 581.6h.6M71.8 580.4h.6M76.5 570.0h.6M72.5 579.4h.6M72.6 574.9h.6M73.3 579.4h.6M75.5 588.0h.6M72.3 590.2h.6M72.8 566.3h.6M71.9 574.5h.6M76.3 562.1h.6M71.4 576.1h.6M75.1 580.0h.6M75.7 575.9h.6M72.5 586.0h.6M78.2 579.9h.6M73.7 570.7h.6M79.3 580.0h.6M75.0 565.1h.6M72.7 575.5h.6M77.7 575.6h.6M75.7 591.4h.6M69.8 570.9h.6M75.2 577.9h.6M73.3 575.8h.6M73.6 579.7h.6M71.8 575.0h.6M73.9 569.0h.6M74.5 560.8h.6M75.1 576.1h.6M69.8 587.0h.6M69.8 592.4h.6M71.1 586.0h.6M73.0 589.0h.6M72.6 584.7h.6M72.3 563.1h.6M74.3 580.6h.6M74.4 589.4h.6M71.1 566.4h.6M73.9 571.9h.6M72.9 577.0h.6M70.8 585.1h.6M72.9 590.3h.6M73.9 584.9h.6M72.4 572.1h.6M71.7 570.5h.6M74.5 578.1h.6M70.1 565.6h.6M70.7 563.5h.6M70.7 565.8h.6M75.3 568.4h.6M71.5 576.1h.6M73.3 580.2h.6M75.4 581.8h.6M72.2 586.3h.6M74.3 571.8h.6M77.5 568.2h.6M74.6 586.4h.6M73.5 579.6h.6M73.6 582.0h.6M73.9 577.1h.6M75.2 562.9h.6M73.9 574.8h.6M78.9 579.2h.6M71.3 581.9h.6M72.1 568.2h.6M72.4 580.8h.6M76.6 584.8h.6M73.9 575.8h.6M73.8 586.0h.6M72.9 585.6h.6M70.9 576.9h.6M75.4 582.2h.6M73.8 573.2h.6M68.1 573.8h.6M70.8 574.0h.6M77.8 571.3h.6M75.6 576.9h.6M70.0 577.8h.6M75.4 568.2h.6M69.9 574.2h.6M75.3 572.6h.6M74.4 580.4h.6M73.3 580.4h.6M76.9 575.6h.6M74.1 569.1h.6M71.1 576.3h.6M75.5 572.0h.6M69.2 583.9h.6M80.0 557.9h.6M70.2 577.9h.6M74.6 570.0h.6M74.2 585.2h.6M72.4 582.4h.6M73.6 570.1h.6M71.5 572.5h.6M77.0 585.6h.6M73.9 565.4h.6M71.8 574.0h.6M67.7 576.9h.6M74.0 567.2h.6M72.0 573.6h.6M78.5 581.9h.6M75.4 577.7h.6M69.6 583.9h.6M71.3 562.8h.6M75.3 574.5h.6M73.2 580.8h.6M72.5 580.1h.6M76.9 574.6h.6M72.2 577.1h.6M75.1 574.0h.6M73.4 572.0h.6M73.0 581.0h.6M70.9 575.7h.6M69.1 571.8h.6M73.4 580.9h.6M70.3 576.3h.6M70.6 579.4h.6M74.0 580.3h.6M72.6 566.5h.6M71.6 567.1h.6M71.3 576.6h.6M76.3 572.2h.6M71.0 578.5h.6M67.4 591.7h.6M68.8 584.5h.6M76.0 584.1h.6M72.9 582.4h.6M72.2 584.1h.6M71.4 571.0h.6M74.3 573.7h.6M75.1 570.7h.6M74.0 569.8h.6M72.9 592.9h.6M70.2 567.9h.6M68.7 575.3h.6M77.8 573.7h.6M75.8 575.7h.6M71.4 591.8h.6M76.3 563.4h.6M70.4 580.1h.6M75.0 575.4h.6M74.1 581.0h.6M72.2 584.4h.6M70.8 582.6h.6M75.8 578.5h.6M72.2 576.9h.6M66.9 578.9h.6M69.2 562.1h.6M75.4 570.3h.6M74.2 577.3h.6M68.2 570.4h.6M72.4 580.5h.6M73.4 567.7h.6M71.7 577.8h.6M69.6 573.8h.6M71.7 561.3h.6M78.1 583.5h.6M71.9 584.0h.6M70.3 588.3h.6M72.2 578.0h.6M71.6 577.7h.6M74.1 577.2h.6M70.9 582.6h.6M74.8 577.0h.6M76.2 571.6h.6M76.8 575.8h.6M77.5 573.7h.6M72.5 578.6h.6M76.3 587.6h.6M71.9 571.6h.6M75.3 586.2h.6M75.2 574.6h.6M76.8 576.8h.6M73.7 581.6h.6M71.6 560.3h.6M73.8 582.3h.6M74.4 581.0h.6M73.7 584.7h.6M73.5 588.0h.6M73.3 582.9h.6M71.7 579.2h.6M74.4 578.0h.6M77.5 577.3h.6M76.4 579.6h.6M76.3 570.4h.6M72.2 584.1h.6M70.9 579.9h.6M74.8 578.4h.6M74.4 581.0h.6M72.5 580.1h.6M71.8 573.7h.6M68.8 576.2h.6M68.4 577.2h.6M73.8 569.0h.6M73.4 579.1h.6M72.2 570.3h.6M72.9 580.0h.6M75.8 591.3h.6M67.7 579.5h.6M74.4 572.3h.6M74.1 592.5h.6M73.5 587.1h.6M76.2 573.7h.6M66.7 585.6h.6M77.5 564.0h.6M72.6 571.9h.6M73.8 577.5h.6M76.4 572.6h.6M78.6 564.4h.6M72.9 581.7h.6M75.7 574.4h.6M67.8 578.6h.6M75.3 561.9h.6M71.8 581.2h.6M66.5 575.6h.6M68.7 567.1h.6M74.3 585.4h.6M76.5 572.1h.6M74.6 563.9h.6M69.0 581.0h.6M72.1 569.5h.6M68.0 575.3h.6M79.5 562.1h.6M70.3 585.3h.6M67.8 572.4h.6M73.4 585.4h.6M73.0 590.5h.6M73.1 576.2h.6M74.4 579.6h.6M69.0 570.0h.6M72.5 579.5h.6M69.8 571.7h.6M71.1 579.5h.6M72.0 581.5h.6M74.3 570.2h.6M72.4 567.8h.6M73.5 583.0h.6M70.4 563.9h.6M74.7 574.9h.6M73.1 580.4h.6M74.3 583.9h.6M71.9 560.6h.6M71.8 574.7h.6M72.0 579.9h.6M72.5 586.6h.6M71.4 577.0h.6M72.2 592.7h.6M70.5 569.6h.6M72.1 582.7h.6M73.2 575.7h.6M69.1 561.6h.6M72.6 575.2h.6M78.2 579.8h.6M74.4 584.2h.6M70.7 567.8h.6M72.2 588.0h.6M76.0 572.7h.6M69.7 583.9h.6M76.3 568.8h.6M77.7 571.2h.6M75.3 575.5h.6M72.3 572.4h.6M75.2 581.6h.6M75.5 574.9h.6M70.8 593.0h.6M78.0 575.6h.6M70.0 588.2h.6M73.6 577.4h.6M75.6 579.6h.6M73.5 591.8h.6M67.9 581.8h.6M70.4 577.6h.6M72.7 579.0h.6M66.4 582.2h.6M79.8 573.9h.6M75.8 581.7h.6M74.0 573.3h.6M75.0 579.0h.6M77.3 583.2h.6M71.2 555.2h.6M77.5 580.6h.6M73.7 572.5h.6M80.3 587.0h.6M73.5 574.3h.6M74.8 587.1h.6M74.7 584.1h.6M73.9 579.7h.6M69.6 577.9h.6M73.3 576.5h.6M72.5 579.3h.6M71.6 575.5h.6M69.5 594.3h.6M70.7 568.0h.6M71.7 573.9h.6M70.1 558.8h.6M77.9 584.6h.6M72.1 581.2h.6M70.0 564.9h.6M74.2 581.3h.6M71.2 577.0h.6M64.4 576.0h.6M76.2 578.3h.6M73.7 581.3h.6M67.2 567.4h.6M69.6 578.8h.6M71.4 562.9h.6M75.8 575.6h.6M76.1 592.0h.6M68.5 567.5h.6M76.3 587.5h.6M74.3 579.7h.6M75.2 581.9h.6M69.5 582.6h.6M76.0 574.0h.6M70.6 573.3h.6M71.5 581.0h.6M75.4 577.2h.6M72.3 563.8h.6M72.0 569.6h.6M71.6 579.6h.6M70.7 573.0h.6M69.9 575.1h.6M72.4 584.5h.6M67.6 583.8h.6M75.1 573.1h.6M71.2 578.5h.6M74.7 575.8h.6M72.8 577.1h.6M70.1 579.0h.6M74.9 577.4h.6M69.9 577.0h.6M72.9 579.4h.6M72.0 583.2h.6M76.3 583.2h.6M73.9 586.1h.6M73.1 575.8h.6M69.1 577.1h.6M76.7 569.9h.6M75.4 567.6h.6M74.1 590.6h.6M73.3 568.3h.6M74.0 575.9h.6M75.5 573.1h.6M68.2 573.5h.6M74.9 584.6h.6M74.0 577.2h.6M75.2 575.6h.6M71.9 578.7h.6M76.3 573.3h.6M74.6 572.3h.6M71.1 578.3h.6M69.4 570.7h.6M69.8 572.6h.6M70.6 594.2h.6M74.9 577.6h.6M69.3 559.5h.6M74.5 572.4h.6M76.2 574.1h.6M69.4 572.3h.6M68.8 566.6h.6M75.2 573.1h.6M75.2 572.9h.6M72.5 573.0h.6M71.6 572.2h.6M77.5 576.6h.6M67.6 589.5h.6M76.8 585.3h.6M72.9 575.9h.6M71.8 577.9h.6M74.5 577.0h.6M70.8 569.9h.6M78.0 589.4h.6M69.6 572.3h.6M73.1 581.3h.6M72.8 578.8h.6M74.2 585.4h.6M69.4 585.0h.6M74.4 581.0h.6M68.8 575.3h.6M72.4 581.7h.6M75.1 582.0h.6M69.4 586.2h.6M73.4 583.8h.6M73.1 571.9h.6M80.7 581.8h.6M75.4 573.7h.6M72.5 585.1h.6M74.5 589.8h.6M76.6 569.2h.6M68.7 585.5h.6M74.9 575.1h.6M72.3 573.0h.6M78.3 575.8h.6M69.2 583.6h.6M72.9 579.6h.6M72.1 576.7h.6M67.7 580.9h.6M71.2 574.3h.6M74.1 586.3h.6M66.9 576.1h.6M74.7 584.4h.6M70.5 579.4h.6M74.3 583.8h.6M71.4 575.7h.6M71.7 585.3h.6M76.3 573.8h.6M72.8 578.6h.6M70.6 576.2h.6M75.7 582.7h.6M71.2 572.3h.6M72.8 566.4h.6M74.1 577.9h.6M69.3 575.4h.6M71.2 575.1h.6M70.6 586.9h.6M70.4 582.6h.6M73.8 587.5h.6M73.0 577.1h.6M73.3 563.5h.6M80.1 575.5h.6M72.2 569.0h.6M72.8 588.6h.6M71.0 580.2h.6M76.1 583.9h.6M72.0 564.5h.6M74.3 581.2h.6M72.2 574.0h.6M78.2 565.7h.6M71.7 572.7h.6M68.6 572.1h.6M70.8 586.0h.6M68.1 567.2h.6M73.9 566.0h.6M67.3 572.6h.6M69.7 570.1h.6M72.7 580.3h.6M71.3 575.1h.6M75.2 576.0h.6M75.3 572.9h.6M74.6 586.2h.6M72.2 574.7h.6M72.7 580.4h.6M69.7 577.4h.6M71.5 587.3h.6M68.2 581.7h.6M72.2 571.8h.6M73.5 575.4h.6M73.3 578.8h.6M76.6 574.2h.6M78.0 557.9h.6M78.4 585.7h.6M77.7 578.5h.6M74.0 569.9h.6M77.0 568.8h.6M70.8 577.1h.6M73.8 579.5h.6M69.8 574.6h.6M74.6 585.5h.6M75.4 580.0h.6M72.4 573.2h.6M71.7 576.4h.6M74.7 573.5h.6M79.1 570.0h.6M75.5 575.7h.6M72.7 574.4h.6M77.6 575.0h.6M74.7 577.9h.6M75.3 581.3h.6M77.9 571.9h.6M70.8 589.1h.6M76.8 577.6h.6M72.3 578.9h.6M76.9 571.7h.6M77.3 576.7h.6M72.1 574.3h.6M67.1 579.4h.6M69.3 573.1h.6M70.6 578.8h.6M75.2 577.4h.6M73.7 580.0h.6M77.8 581.2h.6M77.7 576.7h.6M74.2 572.5h.6M74.9 571.0h.6M74.5 572.6h.6M72.1 585.7h.6M73.6 582.7h.6M72.5 563.9h.6M77.4 575.8h.6M71.3 583.8h.6M69.9 571.8h.6M76.5 572.2h.6M76.4 575.0h.6M72.5 577.6h.6M71.7 584.7h.6M76.3 577.6h.6M74.9 580.9h.6M78.0 565.9h.6M76.1 583.6h.6M72.2 577.2h.6M72.1 585.9h.6M69.8 581.4h.6M76.9 581.2h.6M71.8 573.9h.6M67.0 569.9h.6M76.3 570.4h.6M68.4 575.4h.6M68.8 580.4h.6M70.6 583.8h.6M72.8 567.1h.6M70.9 572.6h.6M70.7 585.9h.6M70.3 579.7h.6M71.5 581.3h.6M69.0 566.1h.6M74.6 587.2h.6M69.2 574.9h.6M71.7 570.5h.6M75.9 577.5h.6M69.1 575.6h.6M77.0 572.1h.6M71.7 571.3h.6M73.6 573.2h.6M75.7 571.3h.6M68.9 580.3h.6M64.0 570.4h.6M74.0 578.9h.6M71.5 574.0h.6M70.8 575.9h.6M71.8 581.0h.6M73.2 581.0h.6M77.9 575.2h.6M72.3 579.8h.6M79.2 574.6h.6M78.0 585.5h.6M65.2 570.1h.6M70.3 579.9h.6M77.0 577.5h.6M73.6 592.4h.6M74.2 592.3h.6M70.6 588.8h.6M71.7 560.0h.6M70.8 573.8h.6M73.0 582.5h.6M75.1 580.8h.6M71.0 589.7h.6M76.6 577.4h.6M71.5 576.8h.6M72.5 572.2h.6M73.1 572.4h.6M75.0 572.5h.6M74.6 579.4h.6M73.6 580.8h.6M71.2 582.3h.6M73.2 574.1h.6M78.2 584.9h.6M72.4 581.1h.6M75.1 588.3h.6M76.1 575.9h.6M72.4 568.9h.6M73.9 583.2h.6M72.0 581.8h.6M73.5 573.8h.6M69.6 585.0h.6M80.5 581.0h.6M70.0 569.8h.6M73.9 581.7h.6M77.6 560.0h.6M78.5 578.3h.6M73.6 579.9h.6M72.1 575.1h.6M76.2 564.8h.6M72.8 581.1h.6M68.4 576.0h.6M77.6 579.8h.6M75.2 582.1h.6M73.8 579.7h.6M70.8 575.6h.6M78.5 568.4h.6M72.7 568.1h.6M71.6 571.6h.6M69.6 578.8h.6M70.4 580.9h.6M78.4 558.9h.6M72.7 562.2h.6M72.8 579.8h.6M73.8 585.7h.6M73.6 564.8h.6M77.5 570.4h.6M72.9 579.4h.6M70.6 577.7h.6M77.5 565.1h.6M68.3 573.9h.6M72.7 568.0h.6M66.5 583.6h.6M74.3 567.7h.6M74.8 576.7h.6M73.6 567.6h.6M72.5 580.5h.6M68.1 569.6h.6M76.0 591.3h.6M75.1 576.6h.6M70.0 574.2h.6M72.5 580.2h.6M77.0 561.4h.6M69.8 577.1h.6M76.0 580.0h.6M65.2 565.3h.6M77.1 581.3h.6M80.6 582.8h.6M74.5 588.0h.6M71.9 573.2h.6M70.2 578.9h.6M74.5 583.8h.6M77.4 581.6h.6M76.8 575.3h.6M70.4 582.3h.6M76.1 586.7h.6M72.7 573.7h.6M72.1 579.7h.6M73.0 575.8h.6M73.9 575.0h.6M74.2 572.8h.6M68.7 574.9h.6M78.7 571.3h.6M75.8 586.7h.6M71.6 578.9h.6M66.6 581.2h.6M77.7 578.4h.6M67.4 572.9h.6" stroke="#000" stroke-opacity="0.4" stroke-width="0.6" fill="none" filter="url(#soft)"/>
<path d="M85.5 573.2h.6M91.7 568.1h.6M88.1 564.3h.6M93.4 574.0h.6M92.1 567.3h.6M93.0 569.2h.6M91.8 570.6h.6M86.0 561.6h.6M78.8 559.0h.6M80.1 564.3h.6M88.8 560.9h.6M92.5 592.1h.6M73.2 560.9h.6M97.4 560.9h.6M89.4 566.0h.6M94.6 558.1h.6M91.9 574.2h.6M93.4 576.2h.6M90.9 555.0h.6M88.0 563.0h.6M93.2 569.8h.6M90.9 582.7h.6M89.3 588.3h.6M95.0 557.8h.6M86.5 583.8h.6M87.0 583.6h.6M86.6 570.9h.6M96.2 556.9h.6M90.5 567.7h.6M91.0 588.5h.6M92.9 559.0h.6M95.8 567.7h.6M91.0 583.2h.6M88.1 581.3h.6M91.1 563.3h.6M88.1 559.0h.6M97.1 573.6h.6M95.8 561.3h.6M95.1 560.5h.6M91.7 571.9h.6M86.4 575.0h.6M90.2 563.7h.6M85.5 559.4h.6M98.2 573.5h.6M87.8 578.7h.6M84.8 560.8h.6M92.1 587.3h.6M91.8 573.5h.6M100.5 557.1h.6M108.4 561.4h.6M89.6 559.0h.6M82.7 569.7h.6M104.7 562.9h.6M86.3 574.6h.6M83.9 569.5h.6M94.9 550.9h.6M88.2 569.2h.6M86.9 570.9h.6" stroke="#000" stroke-opacity="0.3" stroke-width="0.6" fill="none" filter="url(#soft)"/>
<path d="M67.8 550.3h.6M72.9 548.0h.6M80.1 559.8h.6M78.2 548.7h.6M80.7 553.9h.6M71.7 554.3h.6M72.7 554.2h.6M78.7 556.5h.6M70.8 551.5h.6M75.0 547.3h.6M76.7 554.7h.6M69.5 549.9h.6M70.6 547.1h.6M70.7 557.3h.6M72.3 550.5h.6M79.0 556.0h.6M80.6 544.0h.6M78.0 545.2h.6M72.5 550.4h.6M72.7 559.6h.6M74.3 556.6h.6M74.3 551.8h.6M77.0 553.7h.6M77.0 545.3h.6M77.0 553.2h.6" stroke="#000" stroke-opacity="0.3" stroke-width="0.6" fill="none" filter="url(#soft)"/>
<line x1="62.60" y1="525.00" x2="134.70" y2="525.00" stroke="#222" stroke-width="1.1" stroke-linecap="butt"/>
<line x1="63.00" y1="525.00" x2="63.00" y2="595.70" stroke="#222" stroke-width="1.1" stroke-linecap="butt"/>
<line x1="134.30" y1="525.00" x2="134.30" y2="595.70" stroke="#555" stroke-width="0.8" stroke-linecap="butt"/>
<line x1="63.00" y1="595.70" x2="134.30" y2="595.70" stroke="#333" stroke-width="1.0" stroke-linecap="butt"/>
<line x1="81.30" y1="525.00" x2="81.30" y2="595.70" stroke="#000" stroke-width="1.7" stroke-linecap="butt"/>
<line x1="63.00" y1="558.80" x2="132.80" y2="558.80" stroke="#000" stroke-width="1.7" stroke-linecap="butt"/>
<line x1="61.80" y1="533.84" x2="63.00" y2="533.84" stroke="#444" stroke-width="0.7" stroke-linecap="butt"/>
<line x1="80.83" y1="595.70" x2="80.83" y2="597.00" stroke="#444" stroke-width="0.7" stroke-linecap="butt"/>
<line x1="61.80" y1="551.51" x2="63.00" y2="551.51" stroke="#444" stroke-width="0.7" stroke-linecap="butt"/>
<line x1="98.65" y1="595.70" x2="98.65" y2="597.00" stroke="#444" stroke-width="0.7" stroke-linecap="butt"/>
<line x1="61.80" y1="569.19" x2="63.00" y2="569.19" stroke="#444" stroke-width="0.7" stroke-linecap="butt"/>
<line x1="116.48" y1="595.70" x2="116.48" y2="597.00" stroke="#444" stroke-width="0.7" stroke-linecap="butt"/>
<line x1="61.80" y1="586.86" x2="63.00" y2="586.86" stroke="#444" stroke-width="0.7" stroke-linecap="butt"/>
<line x1="134.30" y1="595.70" x2="134.30" y2="597.00" stroke="#444" stroke-width="0.7" stroke-linecap="butt"/>
<text x="65.2" y="534.4" font-size="7" text-anchor="start" font-weight="bold" stroke="#000" stroke-width="0.25" >1%</text>
<text x="133.3" y="534.4" font-size="7" text-anchor="end" font-weight="bold" stroke="#000" stroke-width="0.25" >0.5%</text>
<text x="65.2" y="594.7" font-size="7" text-anchor="start" font-weight="bold" stroke="#000" stroke-width="0.25" >96%</text>
<text x="133.3" y="594.7" font-size="7" text-anchor="end" font-weight="bold" stroke="#000" stroke-width="0.25" >2.5%</text>
<path d="M153.0 577.6h.6M152.4 568.5h.6M154.6 569.2h.6M155.4 585.4h.6M151.0 575.9h.6M153.5 575.8h.6M147.6 580.0h.6M147.5 574.7h.6M156.6 583.9h.6M149.8 577.5h.6M149.3 577.9h.6M146.9 583.0h.6M151.2 573.5h.6M149.9 574.5h.6M149.5 574.4h.6M155.1 582.9h.6M152.5 580.7h.6M147.8 560.4h.6M155.7 583.2h.6M151.9 580.0h.6M151.8 578.2h.6M150.4 561.8h.6M152.9 578.3h.6M154.1 580.2h.6M150.3 582.4h.6M151.8 574.8h.6M150.1 574.9h.6M150.3 574.8h.6M150.9 586.2h.6M145.3 554.4h.6M149.8 576.9h.6M149.0 568.1h.6M148.6 574.3h.6M151.7 575.5h.6M147.6 575.3h.6M155.7 571.6h.6M151.4 585.4h.6M148.8 573.8h.6M159.9 587.0h.6M149.6 579.2h.6M151.5 579.1h.6M152.6 575.8h.6M144.5 571.0h.6M151.7 568.0h.6M150.2 589.0h.6M151.9 573.2h.6M151.6 585.7h.6M146.1 568.9h.6M149.2 574.8h.6M150.9 573.8h.6M151.5 578.6h.6M147.7 573.4h.6M147.5 580.1h.6M152.0 582.8h.6M148.6 574.1h.6M144.5 578.1h.6M146.4 580.5h.6M154.4 581.2h.6M153.1 579.7h.6M152.3 584.8h.6M155.0 592.7h.6M150.4 584.1h.6M153.8 581.1h.6M152.0 568.8h.6M154.5 571.6h.6M149.2 571.8h.6M152.9 571.0h.6M152.6 582.1h.6M151.5 575.5h.6M153.0 587.5h.6M149.8 570.3h.6M149.4 571.6h.6M150.5 576.9h.6M144.3 588.6h.6M148.8 574.9h.6M145.3 563.7h.6M148.2 579.7h.6M153.7 564.8h.6M151.9 589.0h.6M150.4 584.7h.6M152.1 571.3h.6M154.2 573.6h.6M152.3 575.1h.6M150.6 579.1h.6M155.2 565.7h.6M147.9 578.7h.6M154.1 576.6h.6M150.6 581.8h.6M155.9 571.4h.6M146.4 575.9h.6M153.5 568.4h.6M154.6 584.8h.6M153.6 571.9h.6M147.3 582.8h.6M152.0 583.0h.6M147.2 556.5h.6M154.6 585.3h.6M150.4 578.0h.6M152.6 583.4h.6M150.6 574.3h.6M148.3 585.5h.6M151.5 553.2h.6M152.2 573.8h.6M147.4 574.3h.6M147.4 574.7h.6M149.6 581.7h.6M148.2 564.8h.6M149.4 568.0h.6M153.4 576.5h.6M146.2 571.6h.6M151.1 577.7h.6M145.7 577.1h.6M152.1 585.2h.6M154.5 577.1h.6M147.3 575.3h.6M153.1 571.3h.6M155.0 571.0h.6M147.8 584.0h.6M150.9 580.3h.6M150.3 578.2h.6M149.4 591.8h.6M153.2 577.1h.6M152.6 584.0h.6M149.6 579.3h.6M151.8 573.9h.6M148.9 576.5h.6M150.3 575.0h.6M145.4 578.5h.6M153.2 578.5h.6M156.3 584.3h.6M150.1 573.1h.6M152.7 575.3h.6M146.4 578.9h.6M150.3 576.4h.6M153.0 579.4h.6M157.3 572.6h.6M150.9 580.2h.6M149.9 574.3h.6M156.4 567.5h.6M152.2 565.3h.6M152.2 564.1h.6M147.7 586.2h.6M155.8 578.9h.6M143.1 585.3h.6M151.9 570.0h.6M150.1 568.4h.6M150.9 577.4h.6M151.6 583.7h.6M149.3 562.0h.6M147.7 568.9h.6M150.1 574.8h.6M151.1 587.9h.6M151.3 570.2h.6M150.3 571.6h.6M150.5 582.2h.6M147.8 583.1h.6M156.5 589.0h.6M156.1 578.6h.6M147.2 592.5h.6M151.0 579.7h.6M150.1 571.2h.6M153.0 567.9h.6M147.1 582.0h.6M150.1 571.9h.6M152.7 588.3h.6M150.3 577.0h.6M152.9 584.8h.6M154.3 582.9h.6M149.2 581.8h.6M151.2 565.7h.6M154.9 582.1h.6M155.3 577.5h.6M153.4 577.5h.6M151.7 584.6h.6M151.4 582.4h.6M151.1 586.8h.6M153.1 566.0h.6M156.2 581.2h.6M149.7 573.5h.6M157.1 578.6h.6M152.7 582.3h.6M149.4 590.6h.6M157.5 572.4h.6M154.6 566.2h.6M150.2 578.4h.6M151.4 582.1h.6M152.4 580.7h.6M150.8 580.2h.6M149.5 592.2h.6M151.4 586.9h.6M151.5 576.9h.6M150.7 568.7h.6M157.4 581.0h.6M151.6 574.7h.6M155.0 575.6h.6M149.8 574.1h.6M155.8 580.2h.6M150.8 573.4h.6M155.0 580.1h.6M150.2 584.4h.6M153.8 570.9h.6M154.6 585.8h.6M150.5 568.4h.6M154.5 575.5h.6M150.6 575.9h.6M150.4 584.0h.6M148.0 581.8h.6M154.7 585.6h.6M153.4 579.9h.6M150.6 577.2h.6M148.6 590.0h.6M150.9 570.8h.6M153.7 588.8h.6M152.0 575.7h.6M147.9 582.6h.6M150.5 573.3h.6M153.0 568.8h.6M153.4 560.6h.6M149.4 567.8h.6M150.5 583.7h.6M147.4 587.8h.6M149.2 574.6h.6M154.2 572.8h.6M155.5 576.6h.6M150.9 571.1h.6M154.6 577.6h.6M149.8 571.2h.6M149.3 577.3h.6M149.1 583.7h.6M151.1 573.6h.6M152.6 588.2h.6M145.1 580.6h.6M154.4 579.0h.6M153.7 567.0h.6M149.0 585.2h.6M151.0 578.5h.6M153.1 580.6h.6M152.6 574.5h.6M150.4 587.3h.6M149.8 567.8h.6M150.2 584.4h.6M156.5 579.1h.6M149.4 582.3h.6M152.1 586.4h.6M152.8 583.4h.6M152.7 581.0h.6M148.6 576.9h.6M156.0 587.5h.6M154.1 580.8h.6M150.9 580.5h.6M150.3 585.8h.6M150.3 572.6h.6M146.5 589.1h.6M149.0 571.9h.6M152.4 590.8h.6M153.2 575.7h.6M152.9 572.1h.6M150.5 578.2h.6M151.3 583.6h.6M152.8 591.4h.6M153.7 576.0h.6M152.0 572.0h.6M149.5 575.6h.6M154.2 573.1h.6M146.7 570.8h.6M147.8 576.7h.6M150.4 569.7h.6M149.0 575.1h.6M152.4 582.4h.6M155.1 576.2h.6M153.1 578.6h.6M148.1 573.5h.6M157.7 576.9h.6M156.1 583.9h.6M156.1 576.7h.6M154.0 575.9h.6M148.1 569.7h.6M152.6 566.6h.6M152.4 571.8h.6M152.3 568.3h.6M153.8 576.4h.6M146.8 567.8h.6M151.5 566.4h.6M152.3 581.5h.6M149.4 587.9h.6M155.5 580.2h.6M152.6 581.4h.6M150.5 587.3h.6M149.8 560.2h.6M151.4 581.1h.6M153.7 570.2h.6M155.4 572.2h.6M153.1 583.2h.6M151.8 586.0h.6M149.9 592.5h.6M152.7 575.0h.6M158.9 578.0h.6M146.6 588.1h.6M155.8 573.9h.6M148.4 586.0h.6M151.5 571.2h.6M149.9 578.5h.6M154.2 589.1h.6M149.5 588.9h.6M146.9 583.1h.6M150.9 581.1h.6M150.1 573.0h.6M152.1 586.0h.6M144.9 578.4h.6M150.2 570.4h.6M147.4 581.7h.6M152.9 582.6h.6M145.6 567.2h.6M149.5 574.9h.6M156.4 575.3h.6M151.7 585.1h.6M156.2 580.7h.6M152.3 591.8h.6M150.2 565.3h.6M149.1 575.8h.6M155.1 580.3h.6M154.8 578.7h.6M151.4 573.9h.6M147.7 581.6h.6M152.4 582.1h.6M149.8 575.0h.6M152.4 582.3h.6M157.1 571.8h.6M154.2 584.3h.6M150.6 579.0h.6M151.2 588.9h.6M158.7 580.3h.6M150.6 584.8h.6M152.8 576.7h.6M153.5 584.2h.6M150.2 584.1h.6M144.8 568.9h.6M150.4 579.1h.6M147.1 588.5h.6M150.2 579.1h.6M151.2 583.4h.6M149.6 583.3h.6M148.9 567.5h.6M152.8 579.2h.6M153.9 564.2h.6M151.6 573.5h.6M150.8 575.2h.6M150.2 573.3h.6M154.3 565.8h.6M146.5 580.5h.6M157.2 572.6h.6M148.7 569.7h.6M148.4 586.9h.6M153.3 584.4h.6M152.3 579.7h.6M149.6 571.1h.6M150.3 587.0h.6M149.3 578.3h.6M156.3 577.5h.6M153.2 574.0h.6M156.8 569.3h.6M153.0 576.3h.6M151.9 580.6h.6M155.1 584.2h.6M154.4 580.6h.6M148.2 587.6h.6M155.8 581.4h.6M153.6 576.4h.6M147.1 585.0h.6M149.2 591.6h.6M153.3 577.9h.6M149.5 578.8h.6M148.4 575.3h.6M156.0 575.9h.6M156.7 577.3h.6M152.5 571.4h.6M150.5 574.8h.6M147.3 591.8h.6M153.0 577.4h.6M148.1 578.3h.6M148.3 571.1h.6M150.8 593.4h.6M146.3 582.0h.6M149.7 557.3h.6M147.2 577.1h.6M151.5 572.6h.6M156.5 581.8h.6M149.5 566.3h.6M151.8 573.2h.6M154.3 570.6h.6M154.8 574.7h.6M151.9 576.1h.6M153.1 586.2h.6M149.7 571.6h.6M156.8 584.8h.6M156.9 584.8h.6M151.7 589.7h.6M149.4 575.0h.6M150.1 582.9h.6M148.8 576.8h.6M148.9 576.3h.6M154.6 586.0h.6M149.3 581.3h.6M149.9 562.2h.6M147.9 586.9h.6M150.9 579.9h.6M155.0 578.2h.6M149.5 573.7h.6M148.6 582.0h.6M149.9 581.7h.6M146.9 574.9h.6M157.3 580.6h.6M151.0 586.5h.6M152.1 589.0h.6M147.9 583.5h.6" stroke="#000" stroke-opacity="0.3" stroke-width="0.6" fill="none" filter="url(#soft)"/>
<path d="M162.0 586.6h.6M179.1 592.2h.6M163.0 584.8h.6M169.4 577.2h.6M168.3 574.9h.6M171.9 588.1h.6M166.4 586.6h.6M178.7 580.9h.6M158.1 584.3h.6M165.0 576.8h.6M171.5 588.7h.6M170.0 592.9h.6M164.1 579.2h.6M169.2 563.9h.6M153.9 584.3h.6M166.1 582.4h.6M162.5 583.5h.6M172.3 577.8h.6M169.9 581.0h.6M166.4 582.8h.6M174.5 585.5h.6M170.5 583.0h.6M156.7 588.3h.6M167.0 582.7h.6M164.7 571.7h.6" stroke="#000" stroke-opacity="0.3" stroke-width="0.6" fill="none" filter="url(#soft)"/>
<line x1="140.60" y1="525.00" x2="213.00" y2="525.00" stroke="#222" stroke-width="1.1" stroke-linecap="butt"/>
<line x1="141.00" y1="525.00" x2="141.00" y2="595.70" stroke="#222" stroke-width="1.1" stroke-linecap="butt"/>
<line x1="212.60" y1="525.00" x2="212.60" y2="595.70" stroke="#555" stroke-width="0.8" stroke-linecap="butt"/>
<line x1="141.00" y1="595.70" x2="212.60" y2="595.70" stroke="#333" stroke-width="1.0" stroke-linecap="butt"/>
<line x1="159.80" y1="525.00" x2="159.80" y2="595.70" stroke="#000" stroke-width="1.7" stroke-linecap="butt"/>
<line x1="141.00" y1="558.80" x2="211.10" y2="558.80" stroke="#000" stroke-width="1.7" stroke-linecap="butt"/>
<line x1="139.80" y1="533.84" x2="141.00" y2="533.84" stroke="#444" stroke-width="0.7" stroke-linecap="butt"/>
<line x1="158.90" y1="595.70" x2="158.90" y2="597.00" stroke="#444" stroke-width="0.7" stroke-linecap="butt"/>
<line x1="139.80" y1="551.51" x2="141.00" y2="551.51" stroke="#444" stroke-width="0.7" stroke-linecap="butt"/>
<line x1="176.80" y1="595.70" x2="176.80" y2="597.00" stroke="#444" stroke-width="0.7" stroke-linecap="butt"/>
<line x1="139.80" y1="569.19" x2="141.00" y2="569.19" stroke="#444" stroke-width="0.7" stroke-linecap="butt"/>
<line x1="194.70" y1="595.70" x2="194.70" y2="597.00" stroke="#444" stroke-width="0.7" stroke-linecap="butt"/>
<line x1="139.80" y1="586.86" x2="141.00" y2="586.86" stroke="#444" stroke-width="0.7" stroke-linecap="butt"/>
<line x1="212.60" y1="595.70" x2="212.60" y2="597.00" stroke="#444" stroke-width="0.7" stroke-linecap="butt"/>
<text x="143.2" y="534.4" font-size="5.5" text-anchor="start" font-weight="bold" stroke="#000" stroke-width="0.25" >0%</text>
<text x="211.6" y="534.4" font-size="7" text-anchor="end" font-weight="bold" stroke="#000" stroke-width="0.25" >0%</text>
<text x="143.2" y="594.7" font-size="7" text-anchor="start" font-weight="bold" stroke="#000" stroke-width="0.25" >89%</text>
<text x="211.6" y="594.7" font-size="7" text-anchor="end" font-weight="bold" stroke="#000" stroke-width="0.25" >11%</text>
<text x="98.5" y="435.1" font-size="9.5" text-anchor="middle" font-weight="normal" textLength="46.3" lengthAdjust="spacingAndGlyphs" stroke="#000" stroke-width="0.60" >CD8<tspan dy="-3" font-size="5.5">+</tspan><tspan dy="3">&#8203;</tspan>CAR<tspan dy="-3" font-size="5.5">+</tspan><tspan dy="3">&#8203;</tspan></text>
<text x="177" y="435.1" font-size="9.5" text-anchor="middle" font-weight="normal" textLength="46.3" lengthAdjust="spacingAndGlyphs" stroke="#000" stroke-width="0.60" >CD4<tspan dy="-3" font-size="5.5">+</tspan><tspan dy="3">&#8203;</tspan>CAR<tspan dy="-3" font-size="5.5">+</tspan><tspan dy="3">&#8203;</tspan></text>
<text x="18.75" y="477" font-size="9.6" text-anchor="middle" font-weight="normal" textLength="20" lengthAdjust="spacingAndGlyphs" stroke="#000" stroke-width="0.65" >High</text>
<text x="20.3" y="489.4" font-size="9.6" text-anchor="middle" font-weight="normal" textLength="40.5" lengthAdjust="spacingAndGlyphs" stroke="#000" stroke-width="0.65" >CD45RA<tspan dy="-3" font-size="5.5">+</tspan><tspan dy="3">&#8203;</tspan></text>
<text x="20" y="555" font-size="9.6" text-anchor="middle" font-weight="normal" textLength="27.5" lengthAdjust="spacingAndGlyphs" stroke="#000" stroke-width="0.65" >Low %</text>
<text x="19.8" y="566.2" font-size="9.6" text-anchor="middle" font-weight="normal" textLength="40" lengthAdjust="spacingAndGlyphs" stroke="#000" stroke-width="0.65" >CD45RA<tspan dy="-3" font-size="5.5">+</tspan><tspan dy="3">&#8203;</tspan></text>
<text x="57.6" y="568.4" font-size="12.8" text-anchor="middle" font-weight="normal" textLength="50.5" lengthAdjust="spacingAndGlyphs" transform="rotate(-90 57.6 568.4)" stroke="#000" stroke-width="0.60" >CD45RA</text>
<text x="62.6" y="611.0" font-size="12.6" text-anchor="start" font-weight="normal" textLength="32.6" lengthAdjust="spacingAndGlyphs" stroke="#000" stroke-width="0.65" >CCR7</text>
<line x1="52.90" y1="538.60" x2="52.90" y2="490.00" stroke="#000" stroke-width="1.8" stroke-linecap="butt"/>
<path d="M52.9 484.8 L48.5 493.2 L52.9 491.2 L57.3 493.2Z" fill="#000"/>
<line x1="100.00" y1="606.90" x2="150.50" y2="606.90" stroke="#000" stroke-width="1.9" stroke-linecap="butt"/>
<path d="M154.6 606.9 L146.6 602.5 L148.6 606.9 L146.6 611.3Z" fill="#000"/>
</g>
</svg>
</body></html>
